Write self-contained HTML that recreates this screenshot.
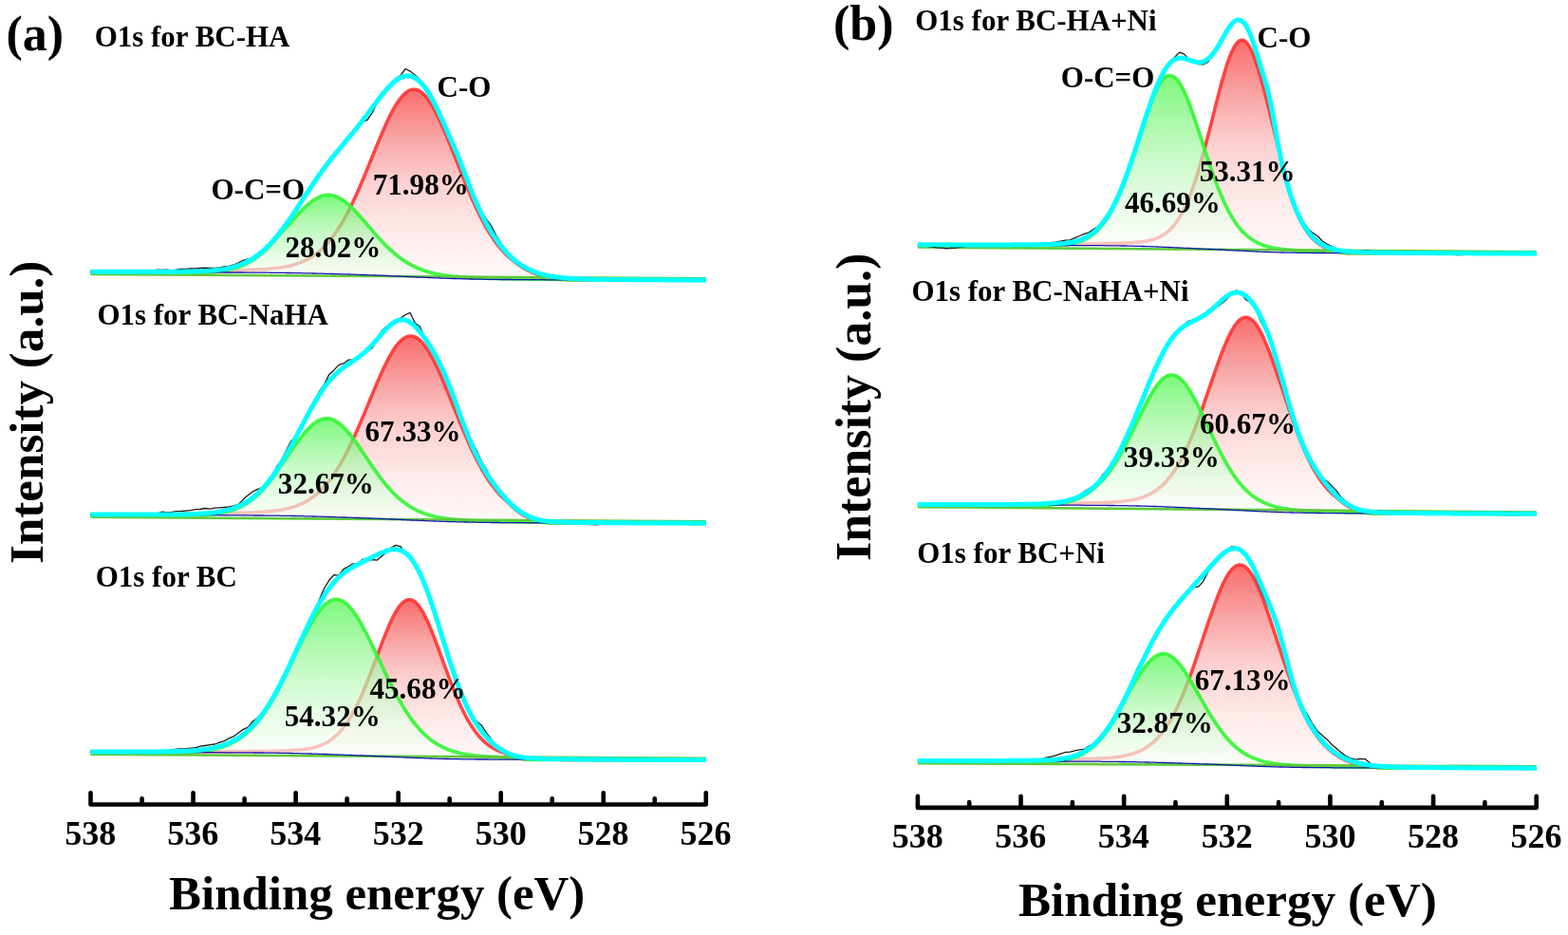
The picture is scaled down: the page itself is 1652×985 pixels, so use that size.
<!DOCTYPE html>
<html><head><meta charset="utf-8"><title>O1s XPS spectra</title>
<style>html,body{margin:0;padding:0;background:#fff;overflow:hidden}svg{display:block}</style>
</head><body>
<svg width="1652" height="985" viewBox="0 0 1652 985"><defs><linearGradient id="rg1" x1="0" y1="0" x2="0" y2="1"><stop offset="0" stop-color="#fa6c6c"/><stop offset="0.25" stop-color="#f9a4a4"/><stop offset="0.5" stop-color="#fcd2d2"/><stop offset="0.75" stop-color="#feeaea"/><stop offset="1" stop-color="#fffafa"/></linearGradient><linearGradient id="gg1" x1="0" y1="0" x2="0" y2="1"><stop offset="0" stop-color="#3ef73e"/><stop offset="0.25" stop-color="#80f580"/><stop offset="0.5" stop-color="#b6f8b6"/><stop offset="0.75" stop-color="#e0fce0"/><stop offset="1" stop-color="#ffffff"/></linearGradient></defs>
<path d="M95.5,286.5 97.5,286.5 99.5,286.5 101.5,286.5 103.5,286.5 105.5,286.5 107.5,286.5 109.5,286.5 111.5,286.5 113.5,286.6 115.5,286.6 117.5,286.6 119.5,286.6 121.5,286.6 123.5,286.6 125.5,286.6 127.5,286.6 129.5,286.6 131.5,286.6 133.5,286.6 135.5,286.6 137.5,286.6 139.5,286.6 141.5,286.6 143.5,286.6 145.5,286.7 147.5,286.7 149.5,286.7 151.5,286.7 153.5,286.7 155.5,286.7 157.5,286.7 159.5,286.7 161.5,286.7 163.5,286.7 165.5,286.7 167.5,286.7 169.5,286.7 171.5,286.7 173.5,286.7 175.5,286.7 177.5,286.8 179.5,286.8 181.5,286.8 183.5,286.8 185.5,286.8 187.5,286.8 189.5,286.8 191.5,286.8 193.5,286.8 195.5,286.8 197.5,286.8 199.5,286.8 201.5,286.8 203.6,286.8 205.6,286.8 207.6,286.9 209.6,286.9 211.6,286.9 213.6,286.9 215.6,286.9 217.6,286.9 219.6,286.9 221.6,286.8 223.6,286.6 225.6,286.4 227.6,286.2 229.6,286.0 231.6,285.7 233.6,285.5 235.6,285.1 237.6,284.9 239.6,284.8 241.6,284.8 243.6,284.7 245.6,284.7 247.6,284.7 249.6,284.6 251.6,284.6 253.6,284.5 255.6,284.5 257.6,284.4 259.6,284.4 261.6,284.3 263.6,284.2 265.6,284.2 267.6,284.1 269.6,284.0 271.6,283.9 273.6,283.8 275.6,283.7 277.6,283.6 279.6,283.4 281.6,283.3 283.6,283.1 285.6,283.0 287.6,282.8 289.6,282.6 291.6,282.3 293.6,282.1 295.6,281.8 297.6,281.5 299.6,281.1 301.6,280.8 303.6,280.4 305.6,279.9 307.6,279.4 309.6,278.9 311.6,278.3 313.6,277.6 315.6,276.9 317.6,276.1 319.6,275.3 321.6,274.4 323.6,273.4 325.6,272.3 327.6,271.1 329.6,269.8 331.6,268.5 333.6,267.0 335.6,265.4 337.6,263.7 339.6,261.9 341.6,259.9 343.6,257.8 345.6,255.6 347.6,253.2 349.6,250.7 351.6,248.1 353.6,245.3 355.6,242.3 357.6,239.2 359.6,236.0 361.6,232.6 363.6,229.0 365.6,225.3 367.6,221.4 369.6,217.5 371.6,213.3 373.6,209.1 375.6,204.7 377.6,200.2 379.6,195.6 381.6,191.0 383.6,186.2 385.6,181.4 387.6,176.5 389.6,171.6 391.6,166.7 393.6,161.7 395.6,156.8 397.6,151.9 399.6,147.1 401.6,142.3 403.6,137.7 405.6,133.1 407.6,128.8 409.6,124.5 411.6,120.5 413.6,116.7 415.6,113.1 417.6,109.7 419.6,106.7 421.7,103.9 423.7,101.5 425.7,99.3 427.7,97.6 429.7,96.2 431.7,95.1 433.7,94.5 435.7,94.2 437.7,94.3 439.7,94.8 441.7,95.7 443.7,97.0 445.7,98.7 447.7,100.7 449.7,103.0 451.7,105.7 453.7,108.7 455.7,112.0 457.7,115.5 459.7,119.3 461.7,123.4 463.7,127.6 465.7,132.0 467.7,136.6 469.7,141.3 471.7,146.1 473.7,151.1 475.7,156.0 477.7,161.1 479.7,166.1 481.7,171.2 483.7,176.3 485.7,181.3 487.7,186.3 489.7,191.2 491.7,196.1 493.7,200.9 495.7,205.6 497.7,210.2 499.7,214.6 501.7,219.0 503.7,223.2 505.7,227.2 507.7,231.2 509.7,234.9 511.7,238.6 513.7,242.0 515.7,245.3 517.7,248.5 519.7,251.5 521.7,254.4 523.7,257.1 525.7,259.6 527.7,262.1 529.7,264.3 531.7,266.5 533.7,268.5 535.7,270.4 537.7,272.1 539.7,273.7 541.7,275.3 543.7,276.9 545.7,278.5 547.7,279.9 549.7,281.2 551.7,282.5 553.7,283.6 555.7,284.7 557.7,285.7 559.7,286.6 561.7,287.4 563.7,288.2 565.7,288.9 567.7,289.6 569.7,290.2 571.7,290.7 573.7,291.2 575.7,291.7 577.7,292.1 579.7,292.5 581.7,292.8 583.7,293.1 585.7,293.4 587.7,293.7 589.7,293.9 591.7,294.1 593.7,294.3 595.7,294.5 597.7,294.7 599.7,294.8 601.7,294.9 603.7,294.9 605.7,294.9 607.7,294.9 609.7,294.9 611.7,294.9 613.7,294.9 615.7,294.9 617.7,294.9 619.7,294.9 621.7,294.9 623.7,294.9 625.7,294.9 627.7,294.9 629.7,294.9 631.7,295.0 633.7,295.0 635.8,295.0 637.8,295.0 639.8,295.0 641.8,295.0 643.8,295.0 645.8,295.0 647.8,295.0 649.8,295.0 651.8,295.0 653.8,295.0 655.8,295.0 657.8,295.0 659.8,295.0 661.8,295.1 663.8,295.1 665.8,295.1 667.8,295.1 669.8,295.1 671.8,295.1 673.8,295.1 675.8,295.1 677.8,295.1 679.8,295.1 681.8,295.1 683.8,295.1 685.8,295.1 687.8,295.1 689.8,295.1 691.8,295.1 693.8,295.2 695.8,295.2 697.8,295.2 699.8,295.2 701.8,295.2 703.8,295.2 705.8,295.2 707.8,295.2 709.8,295.2 711.8,295.2 713.8,295.2 715.8,295.2 717.8,295.2 719.8,295.2 721.8,295.2 723.8,295.2 725.8,295.2 727.8,295.3 729.8,295.3 731.8,295.3 733.8,295.3 735.8,295.3 737.8,295.3 739.8,295.3 741.8,295.3 743.8,295.3 743.8,295.3 741.8,295.3 739.8,295.3 737.8,295.3 735.8,295.3 733.8,295.3 731.8,295.3 729.8,295.3 727.8,295.3 725.8,295.2 723.8,295.2 721.8,295.2 719.8,295.2 717.8,295.2 715.8,295.2 713.8,295.2 711.8,295.2 709.8,295.2 707.8,295.2 705.8,295.2 703.8,295.2 701.8,295.2 699.8,295.2 697.8,295.2 695.8,295.2 693.8,295.2 691.8,295.1 689.8,295.1 687.8,295.1 685.8,295.1 683.8,295.1 681.8,295.1 679.8,295.1 677.8,295.1 675.8,295.1 673.8,295.1 671.8,295.1 669.8,295.1 667.8,295.1 665.8,295.1 663.8,295.1 661.8,295.1 659.8,295.0 657.8,295.0 655.8,295.0 653.8,295.0 651.8,295.0 649.8,295.0 647.8,295.0 645.8,295.0 643.8,295.0 641.8,295.0 639.8,295.0 637.8,295.0 635.8,295.0 633.7,295.0 631.7,295.0 629.7,294.9 627.7,294.9 625.7,294.9 623.7,294.9 621.7,294.9 619.7,294.9 617.7,294.9 615.7,294.9 613.7,294.9 611.7,294.9 609.7,294.9 607.7,294.9 605.7,294.9 603.7,294.9 601.7,294.9 599.7,294.8 597.7,294.8 595.7,294.8 593.7,294.8 591.7,294.8 589.7,294.8 587.7,294.8 585.7,294.8 583.7,294.8 581.7,294.8 579.7,294.8 577.7,294.8 575.7,294.8 573.7,294.7 571.7,294.7 569.7,294.7 567.7,294.7 565.7,294.7 563.7,294.7 561.7,294.7 559.7,294.7 557.7,294.7 555.7,294.7 553.7,294.7 551.7,294.6 549.7,294.6 547.7,294.6 545.7,294.6 543.7,294.6 541.7,294.6 539.7,294.6 537.7,294.5 535.7,294.5 533.7,294.5 531.7,294.5 529.7,294.5 527.7,294.5 525.7,294.4 523.7,294.4 521.7,294.4 519.7,294.4 517.7,294.3 515.7,294.3 513.7,294.3 511.7,294.3 509.7,294.2 507.7,294.2 505.7,294.2 503.7,294.1 501.7,294.1 499.7,294.1 497.7,294.0 495.7,294.0 493.7,293.9 491.7,293.9 489.7,293.8 487.7,293.8 485.7,293.7 483.7,293.7 481.7,293.6 479.7,293.5 477.7,293.5 475.7,293.4 473.7,293.4 471.7,293.3 469.7,293.2 467.7,293.1 465.7,293.1 463.7,293.0 461.7,292.9 459.7,292.8 457.7,292.8 455.7,292.7 453.7,292.6 451.7,292.5 449.7,292.4 447.7,292.3 445.7,292.2 443.7,292.1 441.7,292.1 439.7,292.0 437.7,291.9 435.7,291.8 433.7,291.7 431.7,291.6 429.7,291.5 427.7,291.4 425.7,291.3 423.7,291.2 421.7,291.1 419.6,291.0 417.6,290.9 415.6,290.8 413.6,290.8 411.6,290.7 409.6,290.6 407.6,290.5 405.6,290.4 403.6,290.3 401.6,290.2 399.6,290.2 397.6,290.1 395.6,290.0 393.6,289.9 391.6,289.8 389.6,289.8 387.6,289.7 385.6,289.6 383.6,289.5 381.6,289.5 379.6,289.4 377.6,289.3 375.6,289.3 373.6,289.2 371.6,289.1 369.6,289.1 367.6,289.0 365.6,288.9 363.6,288.9 361.6,288.8 359.6,288.8 357.6,288.7 355.6,288.6 353.6,288.6 351.6,288.5 349.6,288.5 347.6,288.4 345.6,288.4 343.6,288.3 341.6,288.3 339.6,288.2 337.6,288.2 335.6,288.1 333.6,288.1 331.6,288.0 329.6,288.0 327.6,287.9 325.6,287.9 323.6,287.8 321.6,287.8 319.6,287.8 317.6,287.7 315.6,287.7 313.6,287.6 311.6,287.6 309.6,287.6 307.6,287.5 305.6,287.5 303.6,287.5 301.6,287.5 299.6,287.4 297.6,287.4 295.6,287.4 293.6,287.4 291.6,287.3 289.6,287.3 287.6,287.3 285.6,287.3 283.6,287.2 281.6,287.2 279.6,287.2 277.6,287.2 275.6,287.2 273.6,287.2 271.6,287.1 269.6,287.1 267.6,287.1 265.6,287.1 263.6,287.1 261.6,287.1 259.6,287.1 257.6,287.1 255.6,287.0 253.6,287.0 251.6,287.0 249.6,287.0 247.6,287.0 245.6,287.0 243.6,287.0 241.6,287.0 239.6,287.0 237.6,287.0 235.6,287.0 233.6,286.9 231.6,286.9 229.6,286.9 227.6,286.9 225.6,286.9 223.6,286.9 221.6,286.9 219.6,286.9 217.6,286.9 215.6,286.9 213.6,286.9 211.6,286.9 209.6,286.9 207.6,286.9 205.6,286.8 203.6,286.8 201.5,286.8 199.5,286.8 197.5,286.8 195.5,286.8 193.5,286.8 191.5,286.8 189.5,286.8 187.5,286.8 185.5,286.8 183.5,286.8 181.5,286.8 179.5,286.8 177.5,286.8 175.5,286.7 173.5,286.7 171.5,286.7 169.5,286.7 167.5,286.7 165.5,286.7 163.5,286.7 161.5,286.7 159.5,286.7 157.5,286.7 155.5,286.7 153.5,286.7 151.5,286.7 149.5,286.7 147.5,286.7 145.5,286.7 143.5,286.6 141.5,286.6 139.5,286.6 137.5,286.6 135.5,286.6 133.5,286.6 131.5,286.6 129.5,286.6 127.5,286.6 125.5,286.6 123.5,286.6 121.5,286.6 119.5,286.6 117.5,286.6 115.5,286.6 113.5,286.6 111.5,286.5 109.5,286.5 107.5,286.5 105.5,286.5 103.5,286.5 101.5,286.5 99.5,286.5 97.5,286.5 95.5,286.5 Z" fill="url(#rg1)" stroke="none"/>
<path d="M95.5,286.5 97.5,286.5 99.5,286.5 101.5,286.5 103.5,286.5 105.5,286.5 107.5,286.5 109.5,286.5 111.5,286.5 113.5,286.6 115.5,286.6 117.5,286.6 119.5,286.6 121.5,286.6 123.5,286.6 125.5,286.6 127.5,286.6 129.5,286.6 131.5,286.6 133.5,286.6 135.5,286.6 137.5,286.6 139.5,286.6 141.5,286.6 143.5,286.6 145.5,286.7 147.5,286.7 149.5,286.7 151.5,286.7 153.5,286.7 155.5,286.7 157.5,286.7 159.5,286.7 161.5,286.7 163.5,286.7 165.5,286.7 167.5,286.7 169.5,286.7 171.5,286.7 173.5,286.7 175.5,286.7 177.5,286.8 179.5,286.8 181.5,286.8 183.5,286.8 185.5,286.8 187.5,286.8 189.5,286.8 191.5,286.8 193.5,286.8 195.5,286.8 197.5,286.8 199.5,286.8 201.5,286.8 203.6,286.8 205.6,286.8 207.6,286.9 209.6,286.9 211.6,286.9 213.6,286.9 215.6,286.9 217.6,286.9 219.6,286.9 221.6,286.8 223.6,286.6 225.6,286.4 227.6,286.2 229.6,286.0 231.6,285.7 233.6,285.5 235.6,285.1 237.6,284.9 239.6,284.8 241.6,284.8 243.6,284.7 245.6,284.7 247.6,284.7 249.6,284.6 251.6,284.6 253.6,284.5 255.6,284.5 257.6,284.4 259.6,284.4 261.6,284.3 263.6,284.2 265.6,284.2 267.6,284.1 269.6,284.0 271.6,283.9 273.6,283.8 275.6,283.7 277.6,283.6 279.6,283.4 281.6,283.3 283.6,283.1 285.6,283.0 287.6,282.8 289.6,282.6 291.6,282.3 293.6,282.1 295.6,281.8 297.6,281.5 299.6,281.1 301.6,280.8 303.6,280.4 305.6,279.9 307.6,279.4 309.6,278.9 311.6,278.3 313.6,277.6 315.6,276.9 317.6,276.1 319.6,275.3 321.6,274.4 323.6,273.4 325.6,272.3 327.6,271.1 329.6,269.8 331.6,268.5 333.6,267.0 335.6,265.4 337.6,263.7 339.6,261.9 341.6,259.9 343.6,257.8 345.6,255.6 347.6,253.2 349.6,250.7 351.6,248.1 353.6,245.3 355.6,242.3 357.6,239.2 359.6,236.0 361.6,232.6 363.6,229.0 365.6,225.3 367.6,221.4 369.6,217.5 371.6,213.3 373.6,209.1 375.6,204.7 377.6,200.2 379.6,195.6 381.6,191.0 383.6,186.2 385.6,181.4 387.6,176.5 389.6,171.6 391.6,166.7 393.6,161.7 395.6,156.8 397.6,151.9 399.6,147.1 401.6,142.3 403.6,137.7 405.6,133.1 407.6,128.8 409.6,124.5 411.6,120.5 413.6,116.7 415.6,113.1 417.6,109.7 419.6,106.7 421.7,103.9 423.7,101.5 425.7,99.3 427.7,97.6 429.7,96.2 431.7,95.1 433.7,94.5 435.7,94.2 437.7,94.3 439.7,94.8 441.7,95.7 443.7,97.0 445.7,98.7 447.7,100.7 449.7,103.0 451.7,105.7 453.7,108.7 455.7,112.0 457.7,115.5 459.7,119.3 461.7,123.4 463.7,127.6 465.7,132.0 467.7,136.6 469.7,141.3 471.7,146.1 473.7,151.1 475.7,156.0 477.7,161.1 479.7,166.1 481.7,171.2 483.7,176.3 485.7,181.3 487.7,186.3 489.7,191.2 491.7,196.1 493.7,200.9 495.7,205.6 497.7,210.2 499.7,214.6 501.7,219.0 503.7,223.2 505.7,227.2 507.7,231.2 509.7,234.9 511.7,238.6 513.7,242.0 515.7,245.3 517.7,248.5 519.7,251.5 521.7,254.4 523.7,257.1 525.7,259.6 527.7,262.1 529.7,264.3 531.7,266.5 533.7,268.5 535.7,270.4 537.7,272.1 539.7,273.7 541.7,275.3 543.7,276.9 545.7,278.5 547.7,279.9 549.7,281.2 551.7,282.5 553.7,283.6 555.7,284.7 557.7,285.7 559.7,286.6 561.7,287.4 563.7,288.2 565.7,288.9 567.7,289.6 569.7,290.2 571.7,290.7 573.7,291.2 575.7,291.7 577.7,292.1 579.7,292.5 581.7,292.8 583.7,293.1 585.7,293.4 587.7,293.7 589.7,293.9 591.7,294.1 593.7,294.3 595.7,294.5 597.7,294.7 599.7,294.8 601.7,294.9 603.7,294.9 605.7,294.9 607.7,294.9 609.7,294.9 611.7,294.9 613.7,294.9 615.7,294.9 617.7,294.9 619.7,294.9 621.7,294.9 623.7,294.9 625.7,294.9 627.7,294.9 629.7,294.9 631.7,295.0 633.7,295.0 635.8,295.0 637.8,295.0 639.8,295.0 641.8,295.0 643.8,295.0 645.8,295.0 647.8,295.0 649.8,295.0 651.8,295.0 653.8,295.0 655.8,295.0 657.8,295.0 659.8,295.0 661.8,295.1 663.8,295.1 665.8,295.1 667.8,295.1 669.8,295.1 671.8,295.1 673.8,295.1 675.8,295.1 677.8,295.1 679.8,295.1 681.8,295.1 683.8,295.1 685.8,295.1 687.8,295.1 689.8,295.1 691.8,295.1 693.8,295.2 695.8,295.2 697.8,295.2 699.8,295.2 701.8,295.2 703.8,295.2 705.8,295.2 707.8,295.2 709.8,295.2 711.8,295.2 713.8,295.2 715.8,295.2 717.8,295.2 719.8,295.2 721.8,295.2 723.8,295.2 725.8,295.2 727.8,295.3 729.8,295.3 731.8,295.3 733.8,295.3 735.8,295.3 737.8,295.3 739.8,295.3 741.8,295.3 743.8,295.3" fill="none" stroke="#ff3333" stroke-width="3.6" stroke-opacity="0.9" stroke-linejoin="round"/>
<path d="M95.5,286.5 97.5,286.5 99.5,286.5 101.5,286.5 103.5,286.5 105.5,286.5 107.5,286.5 109.5,286.5 111.5,286.5 113.5,286.6 115.5,286.6 117.5,286.6 119.5,286.6 121.5,286.6 123.5,286.6 125.5,286.6 127.5,286.6 129.5,286.6 131.5,286.6 133.5,286.6 135.5,286.6 137.5,286.6 139.5,286.6 141.5,286.6 143.5,286.6 145.5,286.7 147.5,286.7 149.5,286.7 151.5,286.7 153.5,286.7 155.5,286.7 157.5,286.7 159.5,286.7 161.5,286.7 163.5,286.7 165.5,286.7 167.5,286.7 169.5,286.7 171.5,286.7 173.5,286.7 175.5,286.7 177.5,286.8 179.5,286.8 181.5,286.8 183.5,286.8 185.5,286.8 187.5,286.8 189.5,286.8 191.5,286.8 193.5,286.8 195.5,286.8 197.5,286.8 199.5,286.8 201.5,286.8 203.6,286.8 205.6,286.8 207.6,286.9 209.6,286.9 211.6,286.9 213.6,286.9 215.6,286.9 217.6,286.9 219.6,286.9 221.6,286.8 223.6,286.6 225.6,286.4 227.6,286.2 229.6,286.0 231.6,285.7 233.6,285.5 235.6,285.1 237.6,284.8 239.6,284.4 241.6,284.0 243.6,283.5 245.6,283.0 247.6,282.4 249.6,281.8 251.6,281.1 253.6,280.4 255.6,279.5 257.6,278.7 259.6,277.7 261.6,276.7 263.6,275.6 265.6,274.4 267.6,273.1 269.6,271.7 271.6,270.3 273.6,268.7 275.6,267.1 277.6,265.4 279.6,263.6 281.6,261.6 283.6,259.6 285.6,257.5 287.6,255.3 289.6,253.0 291.6,250.6 293.6,248.2 295.6,245.9 297.6,243.7 299.6,241.5 301.6,239.3 303.6,237.1 305.6,234.9 307.6,232.6 309.6,230.4 311.6,228.2 313.6,226.1 315.6,223.9 317.6,221.9 319.6,219.9 321.6,218.0 323.6,216.2 325.6,214.5 327.6,212.9 329.6,211.4 331.6,210.1 333.6,208.9 335.6,207.9 337.6,207.0 339.6,206.4 341.6,205.9 343.6,205.6 345.6,205.5 347.6,205.5 349.6,205.8 351.6,206.2 353.6,206.9 355.6,207.7 357.6,208.7 359.6,209.8 361.6,211.1 363.6,212.6 365.6,214.2 367.6,215.9 369.6,217.8 371.6,219.7 373.6,221.7 375.6,223.8 377.6,226.0 379.6,228.2 381.6,230.5 383.6,232.8 385.6,235.1 387.6,237.5 389.6,239.8 391.6,242.1 393.6,244.5 395.6,246.7 397.6,249.0 399.6,251.2 401.6,253.4 403.6,255.5 405.6,257.6 407.6,259.6 409.6,261.5 411.6,263.4 413.6,265.2 415.6,267.0 417.6,268.6 419.6,270.2 421.7,271.7 423.7,273.2 425.7,274.6 427.7,275.9 429.7,277.1 431.7,278.3 433.7,279.3 435.7,280.4 437.7,281.3 439.7,282.2 441.7,283.1 443.7,283.9 445.7,284.6 447.7,285.3 449.7,285.9 451.7,286.5 453.7,287.1 455.7,287.6 457.7,288.0 459.7,288.5 461.7,288.9 463.7,289.3 465.7,289.6 467.7,289.9 469.7,290.2 471.7,290.5 473.7,290.7 475.7,291.0 477.7,291.2 479.7,291.4 481.7,291.5 483.7,291.7 485.7,291.9 487.7,292.0 489.7,292.1 491.7,292.3 493.7,292.4 495.7,292.5 497.7,292.6 499.7,292.7 501.7,292.8 503.7,292.9 505.7,292.9 507.7,293.0 509.7,293.1 511.7,293.1 513.7,293.2 515.7,293.3 517.7,293.3 519.7,293.4 521.7,293.4 523.7,293.5 525.7,293.5 527.7,293.5 529.7,293.6 531.7,293.6 533.7,293.7 535.7,293.7 537.7,293.7 539.7,293.8 541.7,293.8 543.7,293.8 545.7,293.8 547.7,293.9 549.7,293.9 551.7,293.9 553.7,293.9 555.7,294.0 557.7,294.0 559.7,294.0 561.7,294.0 563.7,294.1 565.7,294.1 567.7,294.1 569.7,294.1 571.7,294.1 573.7,294.2 575.7,294.2 577.7,294.2 579.7,294.2 581.7,294.2 583.7,294.2 585.7,294.3 587.7,294.3 589.7,294.3 591.7,294.3 593.7,294.3 595.7,294.5 597.7,294.7 599.7,294.8 601.7,294.9 603.7,294.9 605.7,294.9 607.7,294.9 609.7,294.9 611.7,294.9 613.7,294.9 615.7,294.9 617.7,294.9 619.7,294.9 621.7,294.9 623.7,294.9 625.7,294.9 627.7,294.9 629.7,294.9 631.7,295.0 633.7,295.0 635.8,295.0 637.8,295.0 639.8,295.0 641.8,295.0 643.8,295.0 645.8,295.0 647.8,295.0 649.8,295.0 651.8,295.0 653.8,295.0 655.8,295.0 657.8,295.0 659.8,295.0 661.8,295.1 663.8,295.1 665.8,295.1 667.8,295.1 669.8,295.1 671.8,295.1 673.8,295.1 675.8,295.1 677.8,295.1 679.8,295.1 681.8,295.1 683.8,295.1 685.8,295.1 687.8,295.1 689.8,295.1 691.8,295.1 693.8,295.2 695.8,295.2 697.8,295.2 699.8,295.2 701.8,295.2 703.8,295.2 705.8,295.2 707.8,295.2 709.8,295.2 711.8,295.2 713.8,295.2 715.8,295.2 717.8,295.2 719.8,295.2 721.8,295.2 723.8,295.2 725.8,295.2 727.8,295.3 729.8,295.3 731.8,295.3 733.8,295.3 735.8,295.3 737.8,295.3 739.8,295.3 741.8,295.3 743.8,295.3 743.8,295.3 741.8,295.3 739.8,295.3 737.8,295.3 735.8,295.3 733.8,295.3 731.8,295.3 729.8,295.3 727.8,295.3 725.8,295.2 723.8,295.2 721.8,295.2 719.8,295.2 717.8,295.2 715.8,295.2 713.8,295.2 711.8,295.2 709.8,295.2 707.8,295.2 705.8,295.2 703.8,295.2 701.8,295.2 699.8,295.2 697.8,295.2 695.8,295.2 693.8,295.2 691.8,295.1 689.8,295.1 687.8,295.1 685.8,295.1 683.8,295.1 681.8,295.1 679.8,295.1 677.8,295.1 675.8,295.1 673.8,295.1 671.8,295.1 669.8,295.1 667.8,295.1 665.8,295.1 663.8,295.1 661.8,295.1 659.8,295.0 657.8,295.0 655.8,295.0 653.8,295.0 651.8,295.0 649.8,295.0 647.8,295.0 645.8,295.0 643.8,295.0 641.8,295.0 639.8,295.0 637.8,295.0 635.8,295.0 633.7,295.0 631.7,295.0 629.7,294.9 627.7,294.9 625.7,294.9 623.7,294.9 621.7,294.9 619.7,294.9 617.7,294.9 615.7,294.9 613.7,294.9 611.7,294.9 609.7,294.9 607.7,294.9 605.7,294.9 603.7,294.9 601.7,294.9 599.7,294.8 597.7,294.8 595.7,294.8 593.7,294.8 591.7,294.8 589.7,294.8 587.7,294.8 585.7,294.8 583.7,294.8 581.7,294.8 579.7,294.8 577.7,294.8 575.7,294.8 573.7,294.7 571.7,294.7 569.7,294.7 567.7,294.7 565.7,294.7 563.7,294.7 561.7,294.7 559.7,294.7 557.7,294.7 555.7,294.7 553.7,294.7 551.7,294.6 549.7,294.6 547.7,294.6 545.7,294.6 543.7,294.6 541.7,294.6 539.7,294.6 537.7,294.5 535.7,294.5 533.7,294.5 531.7,294.5 529.7,294.5 527.7,294.5 525.7,294.4 523.7,294.4 521.7,294.4 519.7,294.4 517.7,294.3 515.7,294.3 513.7,294.3 511.7,294.3 509.7,294.2 507.7,294.2 505.7,294.2 503.7,294.1 501.7,294.1 499.7,294.1 497.7,294.0 495.7,294.0 493.7,293.9 491.7,293.9 489.7,293.8 487.7,293.8 485.7,293.7 483.7,293.7 481.7,293.6 479.7,293.5 477.7,293.5 475.7,293.4 473.7,293.4 471.7,293.3 469.7,293.2 467.7,293.1 465.7,293.1 463.7,293.0 461.7,292.9 459.7,292.8 457.7,292.8 455.7,292.7 453.7,292.6 451.7,292.5 449.7,292.4 447.7,292.3 445.7,292.2 443.7,292.1 441.7,292.1 439.7,292.0 437.7,291.9 435.7,291.8 433.7,291.7 431.7,291.6 429.7,291.5 427.7,291.4 425.7,291.3 423.7,291.2 421.7,291.1 419.6,291.0 417.6,290.9 415.6,290.8 413.6,290.8 411.6,290.7 409.6,290.6 407.6,290.5 405.6,290.4 403.6,290.3 401.6,290.2 399.6,290.2 397.6,290.1 395.6,290.0 393.6,289.9 391.6,289.8 389.6,289.8 387.6,289.7 385.6,289.6 383.6,289.5 381.6,289.5 379.6,289.4 377.6,289.3 375.6,289.3 373.6,289.2 371.6,289.1 369.6,289.1 367.6,289.0 365.6,288.9 363.6,288.9 361.6,288.8 359.6,288.8 357.6,288.7 355.6,288.6 353.6,288.6 351.6,288.5 349.6,288.5 347.6,288.4 345.6,288.4 343.6,288.3 341.6,288.3 339.6,288.2 337.6,288.2 335.6,288.1 333.6,288.1 331.6,288.0 329.6,288.0 327.6,287.9 325.6,287.9 323.6,287.8 321.6,287.8 319.6,287.8 317.6,287.7 315.6,287.7 313.6,287.6 311.6,287.6 309.6,287.6 307.6,287.5 305.6,287.5 303.6,287.5 301.6,287.5 299.6,287.4 297.6,287.4 295.6,287.4 293.6,287.4 291.6,287.3 289.6,287.3 287.6,287.3 285.6,287.3 283.6,287.2 281.6,287.2 279.6,287.2 277.6,287.2 275.6,287.2 273.6,287.2 271.6,287.1 269.6,287.1 267.6,287.1 265.6,287.1 263.6,287.1 261.6,287.1 259.6,287.1 257.6,287.1 255.6,287.0 253.6,287.0 251.6,287.0 249.6,287.0 247.6,287.0 245.6,287.0 243.6,287.0 241.6,287.0 239.6,287.0 237.6,287.0 235.6,287.0 233.6,286.9 231.6,286.9 229.6,286.9 227.6,286.9 225.6,286.9 223.6,286.9 221.6,286.9 219.6,286.9 217.6,286.9 215.6,286.9 213.6,286.9 211.6,286.9 209.6,286.9 207.6,286.9 205.6,286.8 203.6,286.8 201.5,286.8 199.5,286.8 197.5,286.8 195.5,286.8 193.5,286.8 191.5,286.8 189.5,286.8 187.5,286.8 185.5,286.8 183.5,286.8 181.5,286.8 179.5,286.8 177.5,286.8 175.5,286.7 173.5,286.7 171.5,286.7 169.5,286.7 167.5,286.7 165.5,286.7 163.5,286.7 161.5,286.7 159.5,286.7 157.5,286.7 155.5,286.7 153.5,286.7 151.5,286.7 149.5,286.7 147.5,286.7 145.5,286.7 143.5,286.6 141.5,286.6 139.5,286.6 137.5,286.6 135.5,286.6 133.5,286.6 131.5,286.6 129.5,286.6 127.5,286.6 125.5,286.6 123.5,286.6 121.5,286.6 119.5,286.6 117.5,286.6 115.5,286.6 113.5,286.6 111.5,286.5 109.5,286.5 107.5,286.5 105.5,286.5 103.5,286.5 101.5,286.5 99.5,286.5 97.5,286.5 95.5,286.5 Z" fill="url(#gg1)" fill-opacity="0.68" stroke="none"/>
<path d="M95.5,286.5 97.5,286.5 99.5,286.5 101.5,286.5 103.5,286.5 105.5,286.5 107.5,286.5 109.5,286.5 111.5,286.5 113.5,286.6 115.5,286.6 117.5,286.6 119.5,286.6 121.5,286.6 123.5,286.6 125.5,286.6 127.5,286.6 129.5,286.6 131.5,286.6 133.5,286.6 135.5,286.6 137.5,286.6 139.5,286.6 141.5,286.6 143.5,286.6 145.5,286.7 147.5,286.7 149.5,286.7 151.5,286.7 153.5,286.7 155.5,286.7 157.5,286.7 159.5,286.7 161.5,286.7 163.5,286.7 165.5,286.7 167.5,286.7 169.5,286.7 171.5,286.7 173.5,286.7 175.5,286.7 177.5,286.8 179.5,286.8 181.5,286.8 183.5,286.8 185.5,286.8 187.5,286.8 189.5,286.8 191.5,286.8 193.5,286.8 195.5,286.8 197.5,286.8 199.5,286.8 201.5,286.8 203.6,286.8 205.6,286.8 207.6,286.9 209.6,286.9 211.6,286.9 213.6,286.9 215.6,286.9 217.6,286.9 219.6,286.9 221.6,286.8 223.6,286.6 225.6,286.4 227.6,286.2 229.6,286.0 231.6,285.7 233.6,285.5 235.6,285.1 237.6,284.8 239.6,284.4 241.6,284.0 243.6,283.5 245.6,283.0 247.6,282.4 249.6,281.8 251.6,281.1 253.6,280.4 255.6,279.5 257.6,278.7 259.6,277.7 261.6,276.7 263.6,275.6 265.6,274.4 267.6,273.1 269.6,271.7 271.6,270.3 273.6,268.7 275.6,267.1 277.6,265.4 279.6,263.6 281.6,261.6 283.6,259.6 285.6,257.5 287.6,255.3 289.6,253.0 291.6,250.6 293.6,248.2 295.6,245.9 297.6,243.7 299.6,241.5 301.6,239.3 303.6,237.1 305.6,234.9 307.6,232.6 309.6,230.4 311.6,228.2 313.6,226.1 315.6,223.9 317.6,221.9 319.6,219.9 321.6,218.0 323.6,216.2 325.6,214.5 327.6,212.9 329.6,211.4 331.6,210.1 333.6,208.9 335.6,207.9 337.6,207.0 339.6,206.4 341.6,205.9 343.6,205.6 345.6,205.5 347.6,205.5 349.6,205.8 351.6,206.2 353.6,206.9 355.6,207.7 357.6,208.7 359.6,209.8 361.6,211.1 363.6,212.6 365.6,214.2 367.6,215.9 369.6,217.8 371.6,219.7 373.6,221.7 375.6,223.8 377.6,226.0 379.6,228.2 381.6,230.5 383.6,232.8 385.6,235.1 387.6,237.5 389.6,239.8 391.6,242.1 393.6,244.5 395.6,246.7 397.6,249.0 399.6,251.2 401.6,253.4 403.6,255.5 405.6,257.6 407.6,259.6 409.6,261.5 411.6,263.4 413.6,265.2 415.6,267.0 417.6,268.6 419.6,270.2 421.7,271.7 423.7,273.2 425.7,274.6 427.7,275.9 429.7,277.1 431.7,278.3 433.7,279.3 435.7,280.4 437.7,281.3 439.7,282.2 441.7,283.1 443.7,283.9 445.7,284.6 447.7,285.3 449.7,285.9 451.7,286.5 453.7,287.1 455.7,287.6 457.7,288.0 459.7,288.5 461.7,288.9 463.7,289.3 465.7,289.6 467.7,289.9 469.7,290.2 471.7,290.5 473.7,290.7 475.7,291.0 477.7,291.2 479.7,291.4 481.7,291.5 483.7,291.7 485.7,291.9 487.7,292.0 489.7,292.1 491.7,292.3 493.7,292.4 495.7,292.5 497.7,292.6 499.7,292.7 501.7,292.8 503.7,292.9 505.7,292.9 507.7,293.0 509.7,293.1 511.7,293.1 513.7,293.2 515.7,293.3 517.7,293.3 519.7,293.4 521.7,293.4 523.7,293.5 525.7,293.5 527.7,293.5 529.7,293.6 531.7,293.6 533.7,293.7 535.7,293.7 537.7,293.7 539.7,293.8 541.7,293.8 543.7,293.8 545.7,293.8 547.7,293.9 549.7,293.9 551.7,293.9 553.7,293.9 555.7,294.0 557.7,294.0 559.7,294.0 561.7,294.0 563.7,294.1 565.7,294.1 567.7,294.1 569.7,294.1 571.7,294.1 573.7,294.2 575.7,294.2 577.7,294.2 579.7,294.2 581.7,294.2 583.7,294.2 585.7,294.3 587.7,294.3 589.7,294.3 591.7,294.3 593.7,294.3 595.7,294.5 597.7,294.7 599.7,294.8 601.7,294.9 603.7,294.9 605.7,294.9 607.7,294.9 609.7,294.9 611.7,294.9 613.7,294.9 615.7,294.9 617.7,294.9 619.7,294.9 621.7,294.9 623.7,294.9 625.7,294.9 627.7,294.9 629.7,294.9 631.7,295.0 633.7,295.0 635.8,295.0 637.8,295.0 639.8,295.0 641.8,295.0 643.8,295.0 645.8,295.0 647.8,295.0 649.8,295.0 651.8,295.0 653.8,295.0 655.8,295.0 657.8,295.0 659.8,295.0 661.8,295.1 663.8,295.1 665.8,295.1 667.8,295.1 669.8,295.1 671.8,295.1 673.8,295.1 675.8,295.1 677.8,295.1 679.8,295.1 681.8,295.1 683.8,295.1 685.8,295.1 687.8,295.1 689.8,295.1 691.8,295.1 693.8,295.2 695.8,295.2 697.8,295.2 699.8,295.2 701.8,295.2 703.8,295.2 705.8,295.2 707.8,295.2 709.8,295.2 711.8,295.2 713.8,295.2 715.8,295.2 717.8,295.2 719.8,295.2 721.8,295.2 723.8,295.2 725.8,295.2 727.8,295.3 729.8,295.3 731.8,295.3 733.8,295.3 735.8,295.3 737.8,295.3 739.8,295.3 741.8,295.3 743.8,295.3" fill="none" stroke="#33f533" stroke-width="3.8" stroke-opacity="0.9" stroke-linejoin="round"/>
<line x1="95.50" y1="289.00" x2="743.80" y2="293.30" stroke="#5ec93a" stroke-width="2.6"/>
<path d="M95.5,286.5 97.5,286.5 99.5,286.5 101.5,286.5 103.5,286.5 105.5,286.5 107.5,286.5 109.5,286.5 111.5,286.5 113.5,286.6 115.5,286.6 117.5,286.6 119.5,286.6 121.5,286.6 123.5,286.6 125.5,286.6 127.5,286.6 129.5,286.6 131.5,286.6 133.5,286.6 135.5,286.6 137.5,286.6 139.5,286.6 141.5,286.6 143.5,286.6 145.5,286.7 147.5,286.7 149.5,286.7 151.5,286.7 153.5,286.7 155.5,286.7 157.5,286.7 159.5,286.7 161.5,286.7 163.5,286.7 165.5,286.7 167.5,286.7 169.5,286.7 171.5,286.7 173.5,286.7 175.5,286.7 177.5,286.8 179.5,286.8 181.5,286.8 183.5,286.8 185.5,286.8 187.5,286.8 189.5,286.8 191.5,286.8 193.5,286.8 195.5,286.8 197.5,286.8 199.5,286.8 201.5,286.8 203.6,286.8 205.6,286.8 207.6,286.9 209.6,286.9 211.6,286.9 213.6,286.9 215.6,286.9 217.6,286.9 219.6,286.9 221.6,286.9 223.6,286.9 225.6,286.9 227.6,286.9 229.6,286.9 231.6,286.9 233.6,286.9 235.6,287.0 237.6,287.0 239.6,287.0 241.6,287.0 243.6,287.0 245.6,287.0 247.6,287.0 249.6,287.0 251.6,287.0 253.6,287.0 255.6,287.0 257.6,287.1 259.6,287.1 261.6,287.1 263.6,287.1 265.6,287.1 267.6,287.1 269.6,287.1 271.6,287.1 273.6,287.2 275.6,287.2 277.6,287.2 279.6,287.2 281.6,287.2 283.6,287.2 285.6,287.3 287.6,287.3 289.6,287.3 291.6,287.3 293.6,287.4 295.6,287.4 297.6,287.4 299.6,287.4 301.6,287.5 303.6,287.5 305.6,287.5 307.6,287.5 309.6,287.6 311.6,287.6 313.6,287.6 315.6,287.7 317.6,287.7 319.6,287.8 321.6,287.8 323.6,287.8 325.6,287.9 327.6,287.9 329.6,288.0 331.6,288.0 333.6,288.1 335.6,288.1 337.6,288.2 339.6,288.2 341.6,288.3 343.6,288.3 345.6,288.4 347.6,288.4 349.6,288.5 351.6,288.5 353.6,288.6 355.6,288.6 357.6,288.7 359.6,288.8 361.6,288.8 363.6,288.9 365.6,288.9 367.6,289.0 369.6,289.1 371.6,289.1 373.6,289.2 375.6,289.3 377.6,289.3 379.6,289.4 381.6,289.5 383.6,289.5 385.6,289.6 387.6,289.7 389.6,289.8 391.6,289.8 393.6,289.9 395.6,290.0 397.6,290.1 399.6,290.2 401.6,290.2 403.6,290.3 405.6,290.4 407.6,290.5 409.6,290.6 411.6,290.7 413.6,290.8 415.6,290.8 417.6,290.9 419.6,291.0 421.7,291.1 423.7,291.2 425.7,291.3 427.7,291.4 429.7,291.5 431.7,291.6 433.7,291.7 435.7,291.8 437.7,291.9 439.7,292.0 441.7,292.1 443.7,292.1 445.7,292.2 447.7,292.3 449.7,292.4 451.7,292.5 453.7,292.6 455.7,292.7 457.7,292.8 459.7,292.8 461.7,292.9 463.7,293.0 465.7,293.1 467.7,293.1 469.7,293.2 471.7,293.3 473.7,293.4 475.7,293.4 477.7,293.5 479.7,293.5 481.7,293.6 483.7,293.7 485.7,293.7 487.7,293.8 489.7,293.8 491.7,293.9 493.7,293.9 495.7,294.0 497.7,294.0 499.7,294.1 501.7,294.1 503.7,294.1 505.7,294.2 507.7,294.2 509.7,294.2 511.7,294.3 513.7,294.3 515.7,294.3 517.7,294.3 519.7,294.4 521.7,294.4 523.7,294.4 525.7,294.4 527.7,294.5 529.7,294.5 531.7,294.5 533.7,294.5 535.7,294.5 537.7,294.5 539.7,294.6 541.7,294.6 543.7,294.6 545.7,294.6 547.7,294.6 549.7,294.6 551.7,294.6 553.7,294.7 555.7,294.7 557.7,294.7 559.7,294.7 561.7,294.7 563.7,294.7 565.7,294.7 567.7,294.7 569.7,294.7 571.7,294.7 573.7,294.7 575.7,294.8 577.7,294.8 579.7,294.8 581.7,294.8 583.7,294.8 585.7,294.8 587.7,294.8 589.7,294.8 591.7,294.8 593.7,294.8 595.7,294.8 597.7,294.8 599.7,294.8 601.7,294.9 603.7,294.9 605.7,294.9 607.7,294.9 609.7,294.9 611.7,294.9 613.7,294.9 615.7,294.9 617.7,294.9 619.7,294.9 621.7,294.9 623.7,294.9 625.7,294.9 627.7,294.9 629.7,294.9 631.7,295.0 633.7,295.0 635.8,295.0 637.8,295.0 639.8,295.0 641.8,295.0 643.8,295.0 645.8,295.0 647.8,295.0 649.8,295.0 651.8,295.0 653.8,295.0 655.8,295.0 657.8,295.0 659.8,295.0 661.8,295.1 663.8,295.1 665.8,295.1 667.8,295.1 669.8,295.1 671.8,295.1 673.8,295.1 675.8,295.1 677.8,295.1 679.8,295.1 681.8,295.1 683.8,295.1 685.8,295.1 687.8,295.1 689.8,295.1 691.8,295.1 693.8,295.2 695.8,295.2 697.8,295.2 699.8,295.2 701.8,295.2 703.8,295.2 705.8,295.2 707.8,295.2 709.8,295.2 711.8,295.2 713.8,295.2 715.8,295.2 717.8,295.2 719.8,295.2 721.8,295.2 723.8,295.2 725.8,295.2 727.8,295.3 729.8,295.3 731.8,295.3 733.8,295.3 735.8,295.3 737.8,295.3 739.8,295.3 741.8,295.3 743.8,295.3" fill="none" stroke="#1515b0" stroke-width="1.3"/>
<path d="M95.5,286.8 100.5,287.3 105.6,287.0 110.6,286.5 115.6,286.0 120.6,286.1 125.7,285.7 130.7,285.2 135.7,285.5 140.7,285.6 145.8,285.9 150.8,285.4 155.8,285.3 160.8,285.1 165.9,284.2 170.9,284.3 175.9,284.1 180.9,284.8 186.0,284.2 191.0,283.5 196.0,283.5 201.0,283.0 206.1,283.0 211.1,282.3 216.1,282.2 221.1,282.4 226.2,282.4 231.2,282.0 236.2,280.9 241.2,280.4 246.3,279.0 251.3,276.9 256.3,274.3 261.3,273.0 266.4,271.2 271.4,268.9 276.4,265.7 281.4,260.1 286.5,254.5 291.5,248.3 296.5,244.4 301.5,237.2 306.6,230.6 311.6,223.5 316.6,215.0 321.7,205.0 326.7,198.9 331.7,190.8 336.7,184.6 341.8,175.5 346.8,168.0 351.8,162.6 356.8,157.6 361.9,149.8 366.9,143.1 371.9,138.0 376.9,133.4 382.0,128.3 387.0,126.4 392.0,119.1 397.0,108.9 402.1,102.2 407.1,95.1 412.1,87.7 417.1,82.6 422.2,79.2 427.2,72.5 432.2,75.1 437.2,78.9 442.3,83.7 447.3,89.2 452.3,96.0 457.3,106.1 462.4,117.5 467.4,131.6 472.4,142.8 477.4,153.3 482.5,165.4 487.5,174.0 492.5,187.9 497.5,201.7 502.6,212.2 507.6,223.3 512.6,231.2 517.6,237.8 522.7,248.0 527.7,255.9 532.7,262.6 537.8,268.4 542.8,274.3 547.8,278.2 552.8,281.4 557.9,284.2 562.9,285.4 567.9,288.0 572.9,288.9 578.0,290.4 583.0,290.8 588.0,291.2 593.0,291.8 598.1,293.3 603.1,293.9 608.1,293.8 613.1,293.8 618.2,293.5 623.2,293.7 628.2,293.7 633.2,294.2 638.3,293.7 643.3,293.8 648.3,293.7 653.3,293.6 658.4,294.2 663.4,294.4 668.4,294.7 673.4,295.3 678.5,295.6 683.5,294.9 688.5,295.1 693.5,294.3 698.6,294.4 703.6,295.4 708.6,295.2 713.6,295.0 718.7,295.1 723.7,295.1 728.7,295.1 733.7,294.8 738.8,295.3 743.8,295.6" fill="none" stroke="#1a1a1a" stroke-width="1.3" stroke-linejoin="round"/>
<path d="M95.5,286.2 97.5,286.2 99.5,286.2 101.5,286.3 103.5,286.3 105.5,286.3 107.5,286.3 109.5,286.3 111.5,286.3 113.5,286.3 115.5,286.3 117.5,286.3 119.5,286.3 121.5,286.3 123.5,286.3 125.5,286.3 127.5,286.3 129.5,286.3 131.5,286.3 133.5,286.3 135.5,286.3 137.5,286.3 139.5,286.3 141.5,286.3 143.5,286.3 145.5,286.3 147.5,286.3 149.5,286.3 151.5,286.3 153.5,286.3 155.5,286.3 157.5,286.3 159.5,286.3 161.5,286.3 163.5,286.3 165.5,286.3 167.5,286.3 169.5,286.3 171.5,286.3 173.5,286.3 175.5,286.3 177.5,286.3 179.5,286.2 181.5,286.2 183.5,286.2 185.5,286.2 187.5,286.2 189.5,286.2 191.5,286.2 193.5,286.1 195.5,286.1 197.5,286.1 199.5,286.1 201.5,286.0 203.6,286.0 205.6,285.9 207.6,285.9 209.6,285.8 211.6,285.7 213.6,285.6 215.6,285.5 217.6,285.4 219.6,285.3 221.6,285.2 223.6,285.0 225.6,284.8 227.6,284.6 229.6,284.4 231.6,284.1 233.6,283.9 235.6,283.5 237.6,283.2 239.6,282.8 241.6,282.4 243.6,281.9 245.6,281.4 247.6,280.8 249.6,280.2 251.6,279.5 253.6,278.8 255.6,277.9 257.6,277.1 259.6,276.1 261.6,275.1 263.6,274.0 265.6,272.8 267.6,271.5 269.6,270.1 271.6,268.7 273.6,267.1 275.6,265.5 277.6,263.8 279.6,262.0 281.6,260.0 283.6,258.0 285.6,255.9 287.6,253.7 289.6,251.4 291.6,249.0 293.6,246.6 295.6,244.0 297.6,241.4 299.6,238.7 301.6,236.0 303.6,233.1 305.6,230.3 307.6,227.3 309.6,224.4 311.6,221.4 313.6,218.4 315.6,215.3 317.6,212.3 319.6,209.2 321.6,206.2 323.6,203.1 325.6,200.1 327.6,197.1 329.6,194.1 331.6,191.2 333.6,188.3 335.6,185.4 337.6,182.6 339.6,179.8 341.6,177.1 343.6,174.4 345.6,171.8 347.6,169.2 349.6,166.6 351.6,164.1 353.6,161.7 355.6,159.2 357.6,156.8 359.6,154.4 361.6,152.0 363.6,149.6 365.6,147.2 367.6,144.8 369.6,142.4 371.6,140.0 373.6,137.5 375.6,135.0 377.6,132.5 379.6,130.0 381.6,127.4 383.6,124.8 385.6,122.2 387.6,119.6 389.6,116.9 391.6,114.2 393.6,111.6 395.6,108.9 397.6,106.3 399.6,103.7 401.6,101.1 403.6,98.6 405.6,96.2 407.6,93.9 409.6,91.7 411.6,89.6 413.6,87.7 415.6,86.0 417.6,84.4 419.6,83.1 421.7,81.9 423.7,81.0 425.7,80.4 427.7,80.0 429.7,79.9 431.7,80.1 433.7,80.6 435.7,81.4 437.7,82.4 439.7,83.8 441.7,85.5 443.7,87.5 445.7,89.7 447.7,92.3 449.7,95.1 451.7,98.2 453.7,101.6 455.7,105.1 457.7,108.9 459.7,112.9 461.7,117.1 463.7,121.4 465.7,125.8 467.7,130.3 469.7,134.9 471.7,139.5 473.7,144.0 475.7,148.6 477.7,153.2 479.7,157.8 481.7,162.5 483.7,167.3 485.7,172.3 487.7,177.4 489.7,182.7 491.7,188.0 493.7,193.3 495.7,198.5 497.7,203.6 499.7,208.5 501.7,213.2 503.7,217.7 505.7,222.0 507.7,226.2 509.7,230.1 511.7,233.9 513.7,237.6 515.7,241.1 517.7,244.4 519.7,247.6 521.7,250.6 523.7,253.6 525.7,256.3 527.7,258.9 529.7,261.4 531.7,263.8 533.7,266.0 535.7,268.1 537.7,270.1 539.7,272.0 541.7,273.7 543.7,275.3 545.7,276.9 547.7,278.3 549.7,279.6 551.7,280.9 553.7,282.0 555.7,283.1 557.7,284.1 559.7,285.0 561.7,285.8 563.7,286.6 565.7,287.3 567.7,288.0 569.7,288.6 571.7,289.1 573.7,289.6 575.7,290.1 577.7,290.5 579.7,290.9 581.7,291.2 583.7,291.5 585.7,291.8 587.7,292.1 589.7,292.3 591.7,292.5 593.7,292.7 595.7,292.9 597.7,293.1 599.7,293.2 601.7,293.4 603.7,293.5 605.7,293.6 607.7,293.7 609.7,293.8 611.7,293.8 613.7,293.9 615.7,294.0 617.7,294.0 619.7,294.1 621.7,294.1 623.7,294.2 625.7,294.2 627.7,294.3 629.7,294.3 631.7,294.3 633.7,294.3 635.8,294.4 637.8,294.4 639.8,294.4 641.8,294.4 643.8,294.5 645.8,294.5 647.8,294.5 649.8,294.5 651.8,294.5 653.8,294.6 655.8,294.6 657.8,294.6 659.8,294.6 661.8,294.6 663.8,294.6 665.8,294.6 667.8,294.7 669.8,294.7 671.8,294.7 673.8,294.7 675.8,294.7 677.8,294.7 679.8,294.7 681.8,294.7 683.8,294.8 685.8,294.8 687.8,294.8 689.8,294.8 691.8,294.8 693.8,294.8 695.8,294.8 697.8,294.8 699.8,294.8 701.8,294.9 703.8,294.9 705.8,294.9 707.8,294.9 709.8,294.9 711.8,294.9 713.8,294.9 715.8,294.9 717.8,294.9 719.8,295.0 721.8,295.0 723.8,295.0 725.8,295.0 727.8,295.0 729.8,295.0 731.8,295.0 733.8,295.0 735.8,295.0 737.8,295.0 739.8,295.0 741.8,295.1 743.8,295.1" fill="none" stroke="#00ffff" stroke-width="5" stroke-linejoin="round"/>
<defs><linearGradient id="rg2" x1="0" y1="0" x2="0" y2="1"><stop offset="0" stop-color="#fa6c6c"/><stop offset="0.25" stop-color="#f9a4a4"/><stop offset="0.5" stop-color="#fcd2d2"/><stop offset="0.75" stop-color="#feeaea"/><stop offset="1" stop-color="#fffafa"/></linearGradient><linearGradient id="gg2" x1="0" y1="0" x2="0" y2="1"><stop offset="0" stop-color="#3ef73e"/><stop offset="0.25" stop-color="#80f580"/><stop offset="0.5" stop-color="#b6f8b6"/><stop offset="0.75" stop-color="#e0fce0"/><stop offset="1" stop-color="#ffffff"/></linearGradient></defs>
<path d="M95.5,542.3 97.5,542.3 99.5,542.3 101.5,542.3 103.5,542.3 105.5,542.3 107.5,542.3 109.5,542.3 111.5,542.3 113.5,542.4 115.5,542.4 117.5,542.4 119.5,542.4 121.5,542.4 123.5,542.4 125.5,542.4 127.5,542.4 129.5,542.4 131.5,542.4 133.5,542.4 135.5,542.4 137.5,542.4 139.5,542.4 141.5,542.4 143.5,542.5 145.5,542.5 147.5,542.5 149.5,542.5 151.5,542.5 153.5,542.5 155.5,542.5 157.5,542.5 159.5,542.5 161.5,542.5 163.5,542.5 165.5,542.5 167.5,542.5 169.5,542.5 171.5,542.5 173.5,542.5 175.5,542.6 177.5,542.6 179.5,542.6 181.5,542.6 183.5,542.6 185.5,542.6 187.5,542.6 189.5,542.6 191.5,542.6 193.5,542.6 195.5,542.6 197.5,542.6 199.5,542.6 201.5,542.6 203.6,542.7 205.6,542.7 207.6,542.7 209.6,542.7 211.6,542.7 213.6,542.7 215.6,542.6 217.6,542.4 219.6,542.2 221.6,542.1 223.6,541.8 225.6,541.6 227.6,541.3 229.6,541.0 231.6,540.7 233.6,540.7 235.6,540.7 237.6,540.6 239.6,540.6 241.6,540.6 243.6,540.5 245.6,540.5 247.6,540.4 249.6,540.4 251.6,540.3 253.6,540.3 255.6,540.2 257.6,540.2 259.6,540.1 261.6,540.0 263.6,540.0 265.6,539.9 267.6,539.8 269.6,539.7 271.6,539.6 273.6,539.5 275.6,539.4 277.6,539.2 279.6,539.1 281.6,538.9 283.6,538.7 285.6,538.5 287.6,538.3 289.6,538.1 291.6,537.8 293.6,537.5 295.6,537.2 297.6,536.8 299.6,536.4 301.6,536.0 303.6,535.5 305.6,535.0 307.6,534.5 309.6,533.9 311.6,533.2 313.6,532.4 315.6,531.6 317.6,530.8 319.6,529.8 321.6,528.8 323.6,527.7 325.6,526.4 327.6,525.1 329.6,523.7 331.6,522.2 333.6,520.6 335.6,518.8 337.6,516.9 339.6,514.9 341.6,512.8 343.6,510.5 345.6,508.1 347.6,505.6 349.6,502.9 351.6,500.0 353.6,497.1 355.6,493.9 357.6,490.6 359.6,487.2 361.6,483.6 363.6,479.9 365.6,476.0 367.6,472.0 369.6,467.9 371.6,463.7 373.6,459.3 375.6,454.8 377.6,450.3 379.6,445.7 381.6,440.9 383.6,436.2 385.6,431.4 387.6,426.6 389.6,421.7 391.6,416.9 393.6,412.1 395.6,407.3 397.6,402.7 399.6,398.1 401.6,393.6 403.6,389.2 405.6,385.0 407.6,381.0 409.6,377.2 411.6,373.6 413.6,370.2 415.6,367.1 417.6,364.3 419.6,361.8 421.7,359.6 423.7,357.8 425.7,356.3 427.7,355.2 429.7,354.4 431.7,354.0 433.7,354.0 435.7,354.4 437.7,355.1 439.7,356.3 441.7,357.8 443.7,359.6 445.7,361.8 447.7,364.3 449.7,367.2 451.7,370.3 453.7,373.7 455.7,377.3 457.7,381.2 459.7,385.3 461.7,389.6 463.7,394.0 465.7,398.6 467.7,403.3 469.7,408.1 471.7,412.9 473.7,417.8 475.7,422.8 477.7,427.8 479.7,432.7 481.7,437.7 483.7,442.6 485.7,447.5 487.7,452.3 489.7,457.0 491.7,461.6 493.7,466.2 495.7,470.6 497.7,474.9 499.7,479.1 501.7,483.1 503.7,487.0 505.7,490.7 507.7,494.4 509.7,497.8 511.7,501.1 513.7,504.3 515.7,507.3 517.7,510.2 519.7,512.9 521.7,515.4 523.7,517.9 525.7,520.1 527.7,522.3 529.7,524.3 531.7,526.2 533.7,528.0 535.7,529.8 537.7,531.8 539.7,533.7 541.7,535.5 543.7,537.2 545.7,538.8 547.7,540.2 549.7,541.6 551.7,542.8 553.7,543.9 555.7,544.9 557.7,545.9 559.7,546.7 561.7,547.4 563.7,548.1 565.7,548.6 567.7,549.1 569.7,549.6 571.7,549.9 573.7,550.3 575.7,550.5 577.7,550.8 579.7,550.9 581.7,550.9 583.7,550.9 585.7,550.9 587.7,550.9 589.7,550.9 591.7,550.9 593.7,550.9 595.7,550.9 597.7,550.9 599.7,550.9 601.7,550.9 603.7,551.0 605.7,551.0 607.7,551.0 609.7,551.0 611.7,551.0 613.7,551.0 615.7,551.0 617.7,551.0 619.7,551.0 621.7,551.0 623.7,551.0 625.7,551.0 627.7,551.0 629.7,551.0 631.7,551.0 633.7,551.1 635.8,551.1 637.8,551.1 639.8,551.1 641.8,551.1 643.8,551.1 645.8,551.1 647.8,551.1 649.8,551.1 651.8,551.1 653.8,551.1 655.8,551.1 657.8,551.1 659.8,551.1 661.8,551.1 663.8,551.2 665.8,551.2 667.8,551.2 669.8,551.2 671.8,551.2 673.8,551.2 675.8,551.2 677.8,551.2 679.8,551.2 681.8,551.2 683.8,551.2 685.8,551.2 687.8,551.2 689.8,551.2 691.8,551.2 693.8,551.2 695.8,551.3 697.8,551.3 699.8,551.3 701.8,551.3 703.8,551.3 705.8,551.3 707.8,551.3 709.8,551.3 711.8,551.3 713.8,551.3 715.8,551.3 717.8,551.3 719.8,551.3 721.8,551.3 723.8,551.3 725.8,551.3 727.8,551.4 729.8,551.4 731.8,551.4 733.8,551.4 735.8,551.4 737.8,551.4 739.8,551.4 741.8,551.4 743.8,551.4 743.8,551.4 741.8,551.4 739.8,551.4 737.8,551.4 735.8,551.4 733.8,551.4 731.8,551.4 729.8,551.4 727.8,551.4 725.8,551.3 723.8,551.3 721.8,551.3 719.8,551.3 717.8,551.3 715.8,551.3 713.8,551.3 711.8,551.3 709.8,551.3 707.8,551.3 705.8,551.3 703.8,551.3 701.8,551.3 699.8,551.3 697.8,551.3 695.8,551.3 693.8,551.2 691.8,551.2 689.8,551.2 687.8,551.2 685.8,551.2 683.8,551.2 681.8,551.2 679.8,551.2 677.8,551.2 675.8,551.2 673.8,551.2 671.8,551.2 669.8,551.2 667.8,551.2 665.8,551.2 663.8,551.2 661.8,551.1 659.8,551.1 657.8,551.1 655.8,551.1 653.8,551.1 651.8,551.1 649.8,551.1 647.8,551.1 645.8,551.1 643.8,551.1 641.8,551.1 639.8,551.1 637.8,551.1 635.8,551.1 633.7,551.1 631.7,551.0 629.7,551.0 627.7,551.0 625.7,551.0 623.7,551.0 621.7,551.0 619.7,551.0 617.7,551.0 615.7,551.0 613.7,551.0 611.7,551.0 609.7,551.0 607.7,551.0 605.7,551.0 603.7,551.0 601.7,550.9 599.7,550.9 597.7,550.9 595.7,550.9 593.7,550.9 591.7,550.9 589.7,550.9 587.7,550.9 585.7,550.9 583.7,550.9 581.7,550.9 579.7,550.9 577.7,550.9 575.7,550.8 573.7,550.8 571.7,550.8 569.7,550.8 567.7,550.8 565.7,550.8 563.7,550.8 561.7,550.8 559.7,550.8 557.7,550.8 555.7,550.8 553.7,550.7 551.7,550.7 549.7,550.7 547.7,550.7 545.7,550.7 543.7,550.7 541.7,550.7 539.7,550.7 537.7,550.6 535.7,550.6 533.7,550.6 531.7,550.6 529.7,550.6 527.7,550.6 525.7,550.5 523.7,550.5 521.7,550.5 519.7,550.5 517.7,550.5 515.7,550.4 513.7,550.4 511.7,550.4 509.7,550.4 507.7,550.3 505.7,550.3 503.7,550.3 501.7,550.2 499.7,550.2 497.7,550.2 495.7,550.1 493.7,550.1 491.7,550.0 489.7,550.0 487.7,549.9 485.7,549.9 483.7,549.8 481.7,549.8 479.7,549.7 477.7,549.7 475.7,549.6 473.7,549.6 471.7,549.5 469.7,549.4 467.7,549.4 465.7,549.3 463.7,549.2 461.7,549.1 459.7,549.1 457.7,549.0 455.7,548.9 453.7,548.8 451.7,548.8 449.7,548.7 447.7,548.6 445.7,548.5 443.7,548.4 441.7,548.3 439.7,548.2 437.7,548.1 435.7,548.1 433.7,548.0 431.7,547.9 429.7,547.8 427.7,547.7 425.7,547.6 423.7,547.5 421.7,547.4 419.6,547.3 417.6,547.2 415.6,547.1 413.6,547.0 411.6,547.0 409.6,546.9 407.6,546.8 405.6,546.7 403.6,546.6 401.6,546.5 399.6,546.4 397.6,546.3 395.6,546.3 393.6,546.2 391.6,546.1 389.6,546.0 387.6,545.9 385.6,545.9 383.6,545.8 381.6,545.7 379.6,545.6 377.6,545.5 375.6,545.5 373.6,545.4 371.6,545.3 369.6,545.2 367.6,545.2 365.6,545.1 363.6,545.0 361.6,545.0 359.6,544.9 357.6,544.8 355.6,544.8 353.6,544.7 351.6,544.6 349.6,544.6 347.6,544.5 345.6,544.4 343.6,544.4 341.6,544.3 339.6,544.2 337.6,544.2 335.6,544.1 333.6,544.1 331.6,544.0 329.6,544.0 327.6,543.9 325.6,543.9 323.6,543.8 321.6,543.8 319.6,543.7 317.6,543.7 315.6,543.6 313.6,543.6 311.6,543.5 309.6,543.5 307.6,543.5 305.6,543.4 303.6,543.4 301.6,543.4 299.6,543.3 297.6,543.3 295.6,543.3 293.6,543.2 291.6,543.2 289.6,543.2 287.6,543.2 285.6,543.1 283.6,543.1 281.6,543.1 279.6,543.1 277.6,543.0 275.6,543.0 273.6,543.0 271.6,543.0 269.6,543.0 267.6,543.0 265.6,542.9 263.6,542.9 261.6,542.9 259.6,542.9 257.6,542.9 255.6,542.9 253.6,542.9 251.6,542.9 249.6,542.8 247.6,542.8 245.6,542.8 243.6,542.8 241.6,542.8 239.6,542.8 237.6,542.8 235.6,542.8 233.6,542.8 231.6,542.8 229.6,542.7 227.6,542.7 225.6,542.7 223.6,542.7 221.6,542.7 219.6,542.7 217.6,542.7 215.6,542.7 213.6,542.7 211.6,542.7 209.6,542.7 207.6,542.7 205.6,542.7 203.6,542.7 201.5,542.6 199.5,542.6 197.5,542.6 195.5,542.6 193.5,542.6 191.5,542.6 189.5,542.6 187.5,542.6 185.5,542.6 183.5,542.6 181.5,542.6 179.5,542.6 177.5,542.6 175.5,542.6 173.5,542.5 171.5,542.5 169.5,542.5 167.5,542.5 165.5,542.5 163.5,542.5 161.5,542.5 159.5,542.5 157.5,542.5 155.5,542.5 153.5,542.5 151.5,542.5 149.5,542.5 147.5,542.5 145.5,542.5 143.5,542.5 141.5,542.4 139.5,542.4 137.5,542.4 135.5,542.4 133.5,542.4 131.5,542.4 129.5,542.4 127.5,542.4 125.5,542.4 123.5,542.4 121.5,542.4 119.5,542.4 117.5,542.4 115.5,542.4 113.5,542.4 111.5,542.3 109.5,542.3 107.5,542.3 105.5,542.3 103.5,542.3 101.5,542.3 99.5,542.3 97.5,542.3 95.5,542.3 Z" fill="url(#rg2)" stroke="none"/>
<path d="M95.5,542.3 97.5,542.3 99.5,542.3 101.5,542.3 103.5,542.3 105.5,542.3 107.5,542.3 109.5,542.3 111.5,542.3 113.5,542.4 115.5,542.4 117.5,542.4 119.5,542.4 121.5,542.4 123.5,542.4 125.5,542.4 127.5,542.4 129.5,542.4 131.5,542.4 133.5,542.4 135.5,542.4 137.5,542.4 139.5,542.4 141.5,542.4 143.5,542.5 145.5,542.5 147.5,542.5 149.5,542.5 151.5,542.5 153.5,542.5 155.5,542.5 157.5,542.5 159.5,542.5 161.5,542.5 163.5,542.5 165.5,542.5 167.5,542.5 169.5,542.5 171.5,542.5 173.5,542.5 175.5,542.6 177.5,542.6 179.5,542.6 181.5,542.6 183.5,542.6 185.5,542.6 187.5,542.6 189.5,542.6 191.5,542.6 193.5,542.6 195.5,542.6 197.5,542.6 199.5,542.6 201.5,542.6 203.6,542.7 205.6,542.7 207.6,542.7 209.6,542.7 211.6,542.7 213.6,542.7 215.6,542.6 217.6,542.4 219.6,542.2 221.6,542.1 223.6,541.8 225.6,541.6 227.6,541.3 229.6,541.0 231.6,540.7 233.6,540.7 235.6,540.7 237.6,540.6 239.6,540.6 241.6,540.6 243.6,540.5 245.6,540.5 247.6,540.4 249.6,540.4 251.6,540.3 253.6,540.3 255.6,540.2 257.6,540.2 259.6,540.1 261.6,540.0 263.6,540.0 265.6,539.9 267.6,539.8 269.6,539.7 271.6,539.6 273.6,539.5 275.6,539.4 277.6,539.2 279.6,539.1 281.6,538.9 283.6,538.7 285.6,538.5 287.6,538.3 289.6,538.1 291.6,537.8 293.6,537.5 295.6,537.2 297.6,536.8 299.6,536.4 301.6,536.0 303.6,535.5 305.6,535.0 307.6,534.5 309.6,533.9 311.6,533.2 313.6,532.4 315.6,531.6 317.6,530.8 319.6,529.8 321.6,528.8 323.6,527.7 325.6,526.4 327.6,525.1 329.6,523.7 331.6,522.2 333.6,520.6 335.6,518.8 337.6,516.9 339.6,514.9 341.6,512.8 343.6,510.5 345.6,508.1 347.6,505.6 349.6,502.9 351.6,500.0 353.6,497.1 355.6,493.9 357.6,490.6 359.6,487.2 361.6,483.6 363.6,479.9 365.6,476.0 367.6,472.0 369.6,467.9 371.6,463.7 373.6,459.3 375.6,454.8 377.6,450.3 379.6,445.7 381.6,440.9 383.6,436.2 385.6,431.4 387.6,426.6 389.6,421.7 391.6,416.9 393.6,412.1 395.6,407.3 397.6,402.7 399.6,398.1 401.6,393.6 403.6,389.2 405.6,385.0 407.6,381.0 409.6,377.2 411.6,373.6 413.6,370.2 415.6,367.1 417.6,364.3 419.6,361.8 421.7,359.6 423.7,357.8 425.7,356.3 427.7,355.2 429.7,354.4 431.7,354.0 433.7,354.0 435.7,354.4 437.7,355.1 439.7,356.3 441.7,357.8 443.7,359.6 445.7,361.8 447.7,364.3 449.7,367.2 451.7,370.3 453.7,373.7 455.7,377.3 457.7,381.2 459.7,385.3 461.7,389.6 463.7,394.0 465.7,398.6 467.7,403.3 469.7,408.1 471.7,412.9 473.7,417.8 475.7,422.8 477.7,427.8 479.7,432.7 481.7,437.7 483.7,442.6 485.7,447.5 487.7,452.3 489.7,457.0 491.7,461.6 493.7,466.2 495.7,470.6 497.7,474.9 499.7,479.1 501.7,483.1 503.7,487.0 505.7,490.7 507.7,494.4 509.7,497.8 511.7,501.1 513.7,504.3 515.7,507.3 517.7,510.2 519.7,512.9 521.7,515.4 523.7,517.9 525.7,520.1 527.7,522.3 529.7,524.3 531.7,526.2 533.7,528.0 535.7,529.8 537.7,531.8 539.7,533.7 541.7,535.5 543.7,537.2 545.7,538.8 547.7,540.2 549.7,541.6 551.7,542.8 553.7,543.9 555.7,544.9 557.7,545.9 559.7,546.7 561.7,547.4 563.7,548.1 565.7,548.6 567.7,549.1 569.7,549.6 571.7,549.9 573.7,550.3 575.7,550.5 577.7,550.8 579.7,550.9 581.7,550.9 583.7,550.9 585.7,550.9 587.7,550.9 589.7,550.9 591.7,550.9 593.7,550.9 595.7,550.9 597.7,550.9 599.7,550.9 601.7,550.9 603.7,551.0 605.7,551.0 607.7,551.0 609.7,551.0 611.7,551.0 613.7,551.0 615.7,551.0 617.7,551.0 619.7,551.0 621.7,551.0 623.7,551.0 625.7,551.0 627.7,551.0 629.7,551.0 631.7,551.0 633.7,551.1 635.8,551.1 637.8,551.1 639.8,551.1 641.8,551.1 643.8,551.1 645.8,551.1 647.8,551.1 649.8,551.1 651.8,551.1 653.8,551.1 655.8,551.1 657.8,551.1 659.8,551.1 661.8,551.1 663.8,551.2 665.8,551.2 667.8,551.2 669.8,551.2 671.8,551.2 673.8,551.2 675.8,551.2 677.8,551.2 679.8,551.2 681.8,551.2 683.8,551.2 685.8,551.2 687.8,551.2 689.8,551.2 691.8,551.2 693.8,551.2 695.8,551.3 697.8,551.3 699.8,551.3 701.8,551.3 703.8,551.3 705.8,551.3 707.8,551.3 709.8,551.3 711.8,551.3 713.8,551.3 715.8,551.3 717.8,551.3 719.8,551.3 721.8,551.3 723.8,551.3 725.8,551.3 727.8,551.4 729.8,551.4 731.8,551.4 733.8,551.4 735.8,551.4 737.8,551.4 739.8,551.4 741.8,551.4 743.8,551.4" fill="none" stroke="#ff3333" stroke-width="3.6" stroke-opacity="0.9" stroke-linejoin="round"/>
<path d="M95.5,542.3 97.5,542.3 99.5,542.3 101.5,542.3 103.5,542.3 105.5,542.3 107.5,542.3 109.5,542.3 111.5,542.3 113.5,542.4 115.5,542.4 117.5,542.4 119.5,542.4 121.5,542.4 123.5,542.4 125.5,542.4 127.5,542.4 129.5,542.4 131.5,542.4 133.5,542.4 135.5,542.4 137.5,542.4 139.5,542.4 141.5,542.4 143.5,542.5 145.5,542.5 147.5,542.5 149.5,542.5 151.5,542.5 153.5,542.5 155.5,542.5 157.5,542.5 159.5,542.5 161.5,542.5 163.5,542.5 165.5,542.5 167.5,542.5 169.5,542.5 171.5,542.5 173.5,542.5 175.5,542.6 177.5,542.6 179.5,542.6 181.5,542.6 183.5,542.6 185.5,542.6 187.5,542.6 189.5,542.6 191.5,542.6 193.5,542.6 195.5,542.6 197.5,542.6 199.5,542.6 201.5,542.6 203.6,542.7 205.6,542.7 207.6,542.7 209.6,542.7 211.6,542.7 213.6,542.7 215.6,542.6 217.6,542.4 219.6,542.2 221.6,542.1 223.6,541.8 225.6,541.6 227.6,541.3 229.6,541.0 231.6,540.7 233.6,540.3 235.6,539.9 237.6,539.4 239.6,538.9 241.6,538.4 243.6,537.8 245.6,537.1 247.6,536.4 249.6,535.6 251.6,534.7 253.6,533.8 255.6,532.8 257.6,531.6 259.6,530.5 261.6,529.2 263.6,527.8 265.6,526.3 267.6,524.8 269.6,523.1 271.6,521.3 273.6,519.4 275.6,517.3 277.6,515.2 279.6,513.0 281.6,510.6 283.6,508.1 285.6,505.5 287.6,502.8 289.6,499.9 291.6,496.9 293.6,493.9 295.6,490.8 297.6,488.0 299.6,485.2 301.6,482.4 303.6,479.5 305.6,476.7 307.6,473.8 309.6,471.0 311.6,468.2 313.6,465.4 315.6,462.8 317.6,460.2 319.6,457.7 321.6,455.3 323.6,453.1 325.6,451.0 327.6,449.0 329.6,447.2 331.6,445.7 333.6,444.3 335.6,443.1 337.6,442.2 339.6,441.5 341.6,441.1 343.6,440.9 345.6,440.9 347.6,441.2 349.6,441.7 351.6,442.5 353.6,443.5 355.6,444.8 357.6,446.2 359.6,447.9 361.6,449.7 363.6,451.8 365.6,454.0 367.6,456.3 369.6,458.8 371.6,461.4 373.6,464.1 375.6,466.9 377.6,469.7 379.6,472.6 381.6,475.6 383.6,478.5 385.6,481.5 387.6,484.5 389.6,487.4 391.6,490.4 393.6,493.3 395.6,496.1 397.6,498.9 399.6,501.6 401.6,504.3 403.6,506.9 405.6,509.4 407.6,511.8 409.6,514.1 411.6,516.4 413.6,518.5 415.6,520.5 417.6,522.5 419.6,524.3 421.7,526.1 423.7,527.7 425.7,529.3 427.7,530.8 429.7,532.2 431.7,533.5 433.7,534.7 435.7,535.8 437.7,536.9 439.7,537.9 441.7,538.8 443.7,539.6 445.7,540.4 447.7,541.1 449.7,541.8 451.7,542.4 453.7,543.0 455.7,543.5 457.7,544.0 459.7,544.5 461.7,544.9 463.7,545.2 465.7,545.6 467.7,545.9 469.7,546.2 471.7,546.5 473.7,546.7 475.7,546.9 477.7,547.2 479.7,547.3 481.7,547.5 483.7,547.7 485.7,547.8 487.7,548.0 489.7,548.1 491.7,548.2 493.7,548.3 495.7,548.5 497.7,548.6 499.7,548.6 501.7,548.7 503.7,548.8 505.7,548.9 507.7,549.0 509.7,549.0 511.7,549.1 513.7,549.1 515.7,549.2 517.7,549.3 519.7,549.3 521.7,549.4 523.7,549.4 525.7,549.4 527.7,549.5 529.7,549.5 531.7,549.6 533.7,549.6 535.7,549.6 537.7,549.7 539.7,549.7 541.7,549.7 543.7,549.8 545.7,549.8 547.7,549.8 549.7,549.9 551.7,549.9 553.7,549.9 555.7,549.9 557.7,550.0 559.7,550.0 561.7,550.0 563.7,550.0 565.7,550.1 567.7,550.1 569.7,550.1 571.7,550.1 573.7,550.3 575.7,550.5 577.7,550.8 579.7,550.9 581.7,550.9 583.7,550.9 585.7,550.9 587.7,550.9 589.7,550.9 591.7,550.9 593.7,550.9 595.7,550.9 597.7,550.9 599.7,550.9 601.7,550.9 603.7,551.0 605.7,551.0 607.7,551.0 609.7,551.0 611.7,551.0 613.7,551.0 615.7,551.0 617.7,551.0 619.7,551.0 621.7,551.0 623.7,551.0 625.7,551.0 627.7,551.0 629.7,551.0 631.7,551.0 633.7,551.1 635.8,551.1 637.8,551.1 639.8,551.1 641.8,551.1 643.8,551.1 645.8,551.1 647.8,551.1 649.8,551.1 651.8,551.1 653.8,551.1 655.8,551.1 657.8,551.1 659.8,551.1 661.8,551.1 663.8,551.2 665.8,551.2 667.8,551.2 669.8,551.2 671.8,551.2 673.8,551.2 675.8,551.2 677.8,551.2 679.8,551.2 681.8,551.2 683.8,551.2 685.8,551.2 687.8,551.2 689.8,551.2 691.8,551.2 693.8,551.2 695.8,551.3 697.8,551.3 699.8,551.3 701.8,551.3 703.8,551.3 705.8,551.3 707.8,551.3 709.8,551.3 711.8,551.3 713.8,551.3 715.8,551.3 717.8,551.3 719.8,551.3 721.8,551.3 723.8,551.3 725.8,551.3 727.8,551.4 729.8,551.4 731.8,551.4 733.8,551.4 735.8,551.4 737.8,551.4 739.8,551.4 741.8,551.4 743.8,551.4 743.8,551.4 741.8,551.4 739.8,551.4 737.8,551.4 735.8,551.4 733.8,551.4 731.8,551.4 729.8,551.4 727.8,551.4 725.8,551.3 723.8,551.3 721.8,551.3 719.8,551.3 717.8,551.3 715.8,551.3 713.8,551.3 711.8,551.3 709.8,551.3 707.8,551.3 705.8,551.3 703.8,551.3 701.8,551.3 699.8,551.3 697.8,551.3 695.8,551.3 693.8,551.2 691.8,551.2 689.8,551.2 687.8,551.2 685.8,551.2 683.8,551.2 681.8,551.2 679.8,551.2 677.8,551.2 675.8,551.2 673.8,551.2 671.8,551.2 669.8,551.2 667.8,551.2 665.8,551.2 663.8,551.2 661.8,551.1 659.8,551.1 657.8,551.1 655.8,551.1 653.8,551.1 651.8,551.1 649.8,551.1 647.8,551.1 645.8,551.1 643.8,551.1 641.8,551.1 639.8,551.1 637.8,551.1 635.8,551.1 633.7,551.1 631.7,551.0 629.7,551.0 627.7,551.0 625.7,551.0 623.7,551.0 621.7,551.0 619.7,551.0 617.7,551.0 615.7,551.0 613.7,551.0 611.7,551.0 609.7,551.0 607.7,551.0 605.7,551.0 603.7,551.0 601.7,550.9 599.7,550.9 597.7,550.9 595.7,550.9 593.7,550.9 591.7,550.9 589.7,550.9 587.7,550.9 585.7,550.9 583.7,550.9 581.7,550.9 579.7,550.9 577.7,550.9 575.7,550.8 573.7,550.8 571.7,550.8 569.7,550.8 567.7,550.8 565.7,550.8 563.7,550.8 561.7,550.8 559.7,550.8 557.7,550.8 555.7,550.8 553.7,550.7 551.7,550.7 549.7,550.7 547.7,550.7 545.7,550.7 543.7,550.7 541.7,550.7 539.7,550.7 537.7,550.6 535.7,550.6 533.7,550.6 531.7,550.6 529.7,550.6 527.7,550.6 525.7,550.5 523.7,550.5 521.7,550.5 519.7,550.5 517.7,550.5 515.7,550.4 513.7,550.4 511.7,550.4 509.7,550.4 507.7,550.3 505.7,550.3 503.7,550.3 501.7,550.2 499.7,550.2 497.7,550.2 495.7,550.1 493.7,550.1 491.7,550.0 489.7,550.0 487.7,549.9 485.7,549.9 483.7,549.8 481.7,549.8 479.7,549.7 477.7,549.7 475.7,549.6 473.7,549.6 471.7,549.5 469.7,549.4 467.7,549.4 465.7,549.3 463.7,549.2 461.7,549.1 459.7,549.1 457.7,549.0 455.7,548.9 453.7,548.8 451.7,548.8 449.7,548.7 447.7,548.6 445.7,548.5 443.7,548.4 441.7,548.3 439.7,548.2 437.7,548.1 435.7,548.1 433.7,548.0 431.7,547.9 429.7,547.8 427.7,547.7 425.7,547.6 423.7,547.5 421.7,547.4 419.6,547.3 417.6,547.2 415.6,547.1 413.6,547.0 411.6,547.0 409.6,546.9 407.6,546.8 405.6,546.7 403.6,546.6 401.6,546.5 399.6,546.4 397.6,546.3 395.6,546.3 393.6,546.2 391.6,546.1 389.6,546.0 387.6,545.9 385.6,545.9 383.6,545.8 381.6,545.7 379.6,545.6 377.6,545.5 375.6,545.5 373.6,545.4 371.6,545.3 369.6,545.2 367.6,545.2 365.6,545.1 363.6,545.0 361.6,545.0 359.6,544.9 357.6,544.8 355.6,544.8 353.6,544.7 351.6,544.6 349.6,544.6 347.6,544.5 345.6,544.4 343.6,544.4 341.6,544.3 339.6,544.2 337.6,544.2 335.6,544.1 333.6,544.1 331.6,544.0 329.6,544.0 327.6,543.9 325.6,543.9 323.6,543.8 321.6,543.8 319.6,543.7 317.6,543.7 315.6,543.6 313.6,543.6 311.6,543.5 309.6,543.5 307.6,543.5 305.6,543.4 303.6,543.4 301.6,543.4 299.6,543.3 297.6,543.3 295.6,543.3 293.6,543.2 291.6,543.2 289.6,543.2 287.6,543.2 285.6,543.1 283.6,543.1 281.6,543.1 279.6,543.1 277.6,543.0 275.6,543.0 273.6,543.0 271.6,543.0 269.6,543.0 267.6,543.0 265.6,542.9 263.6,542.9 261.6,542.9 259.6,542.9 257.6,542.9 255.6,542.9 253.6,542.9 251.6,542.9 249.6,542.8 247.6,542.8 245.6,542.8 243.6,542.8 241.6,542.8 239.6,542.8 237.6,542.8 235.6,542.8 233.6,542.8 231.6,542.8 229.6,542.7 227.6,542.7 225.6,542.7 223.6,542.7 221.6,542.7 219.6,542.7 217.6,542.7 215.6,542.7 213.6,542.7 211.6,542.7 209.6,542.7 207.6,542.7 205.6,542.7 203.6,542.7 201.5,542.6 199.5,542.6 197.5,542.6 195.5,542.6 193.5,542.6 191.5,542.6 189.5,542.6 187.5,542.6 185.5,542.6 183.5,542.6 181.5,542.6 179.5,542.6 177.5,542.6 175.5,542.6 173.5,542.5 171.5,542.5 169.5,542.5 167.5,542.5 165.5,542.5 163.5,542.5 161.5,542.5 159.5,542.5 157.5,542.5 155.5,542.5 153.5,542.5 151.5,542.5 149.5,542.5 147.5,542.5 145.5,542.5 143.5,542.5 141.5,542.4 139.5,542.4 137.5,542.4 135.5,542.4 133.5,542.4 131.5,542.4 129.5,542.4 127.5,542.4 125.5,542.4 123.5,542.4 121.5,542.4 119.5,542.4 117.5,542.4 115.5,542.4 113.5,542.4 111.5,542.3 109.5,542.3 107.5,542.3 105.5,542.3 103.5,542.3 101.5,542.3 99.5,542.3 97.5,542.3 95.5,542.3 Z" fill="url(#gg2)" fill-opacity="0.68" stroke="none"/>
<path d="M95.5,542.3 97.5,542.3 99.5,542.3 101.5,542.3 103.5,542.3 105.5,542.3 107.5,542.3 109.5,542.3 111.5,542.3 113.5,542.4 115.5,542.4 117.5,542.4 119.5,542.4 121.5,542.4 123.5,542.4 125.5,542.4 127.5,542.4 129.5,542.4 131.5,542.4 133.5,542.4 135.5,542.4 137.5,542.4 139.5,542.4 141.5,542.4 143.5,542.5 145.5,542.5 147.5,542.5 149.5,542.5 151.5,542.5 153.5,542.5 155.5,542.5 157.5,542.5 159.5,542.5 161.5,542.5 163.5,542.5 165.5,542.5 167.5,542.5 169.5,542.5 171.5,542.5 173.5,542.5 175.5,542.6 177.5,542.6 179.5,542.6 181.5,542.6 183.5,542.6 185.5,542.6 187.5,542.6 189.5,542.6 191.5,542.6 193.5,542.6 195.5,542.6 197.5,542.6 199.5,542.6 201.5,542.6 203.6,542.7 205.6,542.7 207.6,542.7 209.6,542.7 211.6,542.7 213.6,542.7 215.6,542.6 217.6,542.4 219.6,542.2 221.6,542.1 223.6,541.8 225.6,541.6 227.6,541.3 229.6,541.0 231.6,540.7 233.6,540.3 235.6,539.9 237.6,539.4 239.6,538.9 241.6,538.4 243.6,537.8 245.6,537.1 247.6,536.4 249.6,535.6 251.6,534.7 253.6,533.8 255.6,532.8 257.6,531.6 259.6,530.5 261.6,529.2 263.6,527.8 265.6,526.3 267.6,524.8 269.6,523.1 271.6,521.3 273.6,519.4 275.6,517.3 277.6,515.2 279.6,513.0 281.6,510.6 283.6,508.1 285.6,505.5 287.6,502.8 289.6,499.9 291.6,496.9 293.6,493.9 295.6,490.8 297.6,488.0 299.6,485.2 301.6,482.4 303.6,479.5 305.6,476.7 307.6,473.8 309.6,471.0 311.6,468.2 313.6,465.4 315.6,462.8 317.6,460.2 319.6,457.7 321.6,455.3 323.6,453.1 325.6,451.0 327.6,449.0 329.6,447.2 331.6,445.7 333.6,444.3 335.6,443.1 337.6,442.2 339.6,441.5 341.6,441.1 343.6,440.9 345.6,440.9 347.6,441.2 349.6,441.7 351.6,442.5 353.6,443.5 355.6,444.8 357.6,446.2 359.6,447.9 361.6,449.7 363.6,451.8 365.6,454.0 367.6,456.3 369.6,458.8 371.6,461.4 373.6,464.1 375.6,466.9 377.6,469.7 379.6,472.6 381.6,475.6 383.6,478.5 385.6,481.5 387.6,484.5 389.6,487.4 391.6,490.4 393.6,493.3 395.6,496.1 397.6,498.9 399.6,501.6 401.6,504.3 403.6,506.9 405.6,509.4 407.6,511.8 409.6,514.1 411.6,516.4 413.6,518.5 415.6,520.5 417.6,522.5 419.6,524.3 421.7,526.1 423.7,527.7 425.7,529.3 427.7,530.8 429.7,532.2 431.7,533.5 433.7,534.7 435.7,535.8 437.7,536.9 439.7,537.9 441.7,538.8 443.7,539.6 445.7,540.4 447.7,541.1 449.7,541.8 451.7,542.4 453.7,543.0 455.7,543.5 457.7,544.0 459.7,544.5 461.7,544.9 463.7,545.2 465.7,545.6 467.7,545.9 469.7,546.2 471.7,546.5 473.7,546.7 475.7,546.9 477.7,547.2 479.7,547.3 481.7,547.5 483.7,547.7 485.7,547.8 487.7,548.0 489.7,548.1 491.7,548.2 493.7,548.3 495.7,548.5 497.7,548.6 499.7,548.6 501.7,548.7 503.7,548.8 505.7,548.9 507.7,549.0 509.7,549.0 511.7,549.1 513.7,549.1 515.7,549.2 517.7,549.3 519.7,549.3 521.7,549.4 523.7,549.4 525.7,549.4 527.7,549.5 529.7,549.5 531.7,549.6 533.7,549.6 535.7,549.6 537.7,549.7 539.7,549.7 541.7,549.7 543.7,549.8 545.7,549.8 547.7,549.8 549.7,549.9 551.7,549.9 553.7,549.9 555.7,549.9 557.7,550.0 559.7,550.0 561.7,550.0 563.7,550.0 565.7,550.1 567.7,550.1 569.7,550.1 571.7,550.1 573.7,550.3 575.7,550.5 577.7,550.8 579.7,550.9 581.7,550.9 583.7,550.9 585.7,550.9 587.7,550.9 589.7,550.9 591.7,550.9 593.7,550.9 595.7,550.9 597.7,550.9 599.7,550.9 601.7,550.9 603.7,551.0 605.7,551.0 607.7,551.0 609.7,551.0 611.7,551.0 613.7,551.0 615.7,551.0 617.7,551.0 619.7,551.0 621.7,551.0 623.7,551.0 625.7,551.0 627.7,551.0 629.7,551.0 631.7,551.0 633.7,551.1 635.8,551.1 637.8,551.1 639.8,551.1 641.8,551.1 643.8,551.1 645.8,551.1 647.8,551.1 649.8,551.1 651.8,551.1 653.8,551.1 655.8,551.1 657.8,551.1 659.8,551.1 661.8,551.1 663.8,551.2 665.8,551.2 667.8,551.2 669.8,551.2 671.8,551.2 673.8,551.2 675.8,551.2 677.8,551.2 679.8,551.2 681.8,551.2 683.8,551.2 685.8,551.2 687.8,551.2 689.8,551.2 691.8,551.2 693.8,551.2 695.8,551.3 697.8,551.3 699.8,551.3 701.8,551.3 703.8,551.3 705.8,551.3 707.8,551.3 709.8,551.3 711.8,551.3 713.8,551.3 715.8,551.3 717.8,551.3 719.8,551.3 721.8,551.3 723.8,551.3 725.8,551.3 727.8,551.4 729.8,551.4 731.8,551.4 733.8,551.4 735.8,551.4 737.8,551.4 739.8,551.4 741.8,551.4 743.8,551.4" fill="none" stroke="#33f533" stroke-width="3.8" stroke-opacity="0.9" stroke-linejoin="round"/>
<line x1="95.50" y1="544.80" x2="743.80" y2="549.40" stroke="#5ec93a" stroke-width="2.6"/>
<path d="M95.5,542.3 97.5,542.3 99.5,542.3 101.5,542.3 103.5,542.3 105.5,542.3 107.5,542.3 109.5,542.3 111.5,542.3 113.5,542.4 115.5,542.4 117.5,542.4 119.5,542.4 121.5,542.4 123.5,542.4 125.5,542.4 127.5,542.4 129.5,542.4 131.5,542.4 133.5,542.4 135.5,542.4 137.5,542.4 139.5,542.4 141.5,542.4 143.5,542.5 145.5,542.5 147.5,542.5 149.5,542.5 151.5,542.5 153.5,542.5 155.5,542.5 157.5,542.5 159.5,542.5 161.5,542.5 163.5,542.5 165.5,542.5 167.5,542.5 169.5,542.5 171.5,542.5 173.5,542.5 175.5,542.6 177.5,542.6 179.5,542.6 181.5,542.6 183.5,542.6 185.5,542.6 187.5,542.6 189.5,542.6 191.5,542.6 193.5,542.6 195.5,542.6 197.5,542.6 199.5,542.6 201.5,542.6 203.6,542.7 205.6,542.7 207.6,542.7 209.6,542.7 211.6,542.7 213.6,542.7 215.6,542.7 217.6,542.7 219.6,542.7 221.6,542.7 223.6,542.7 225.6,542.7 227.6,542.7 229.6,542.7 231.6,542.8 233.6,542.8 235.6,542.8 237.6,542.8 239.6,542.8 241.6,542.8 243.6,542.8 245.6,542.8 247.6,542.8 249.6,542.8 251.6,542.9 253.6,542.9 255.6,542.9 257.6,542.9 259.6,542.9 261.6,542.9 263.6,542.9 265.6,542.9 267.6,543.0 269.6,543.0 271.6,543.0 273.6,543.0 275.6,543.0 277.6,543.0 279.6,543.1 281.6,543.1 283.6,543.1 285.6,543.1 287.6,543.2 289.6,543.2 291.6,543.2 293.6,543.2 295.6,543.3 297.6,543.3 299.6,543.3 301.6,543.4 303.6,543.4 305.6,543.4 307.6,543.5 309.6,543.5 311.6,543.5 313.6,543.6 315.6,543.6 317.6,543.7 319.6,543.7 321.6,543.8 323.6,543.8 325.6,543.9 327.6,543.9 329.6,544.0 331.6,544.0 333.6,544.1 335.6,544.1 337.6,544.2 339.6,544.2 341.6,544.3 343.6,544.4 345.6,544.4 347.6,544.5 349.6,544.6 351.6,544.6 353.6,544.7 355.6,544.8 357.6,544.8 359.6,544.9 361.6,545.0 363.6,545.0 365.6,545.1 367.6,545.2 369.6,545.2 371.6,545.3 373.6,545.4 375.6,545.5 377.6,545.5 379.6,545.6 381.6,545.7 383.6,545.8 385.6,545.9 387.6,545.9 389.6,546.0 391.6,546.1 393.6,546.2 395.6,546.3 397.6,546.3 399.6,546.4 401.6,546.5 403.6,546.6 405.6,546.7 407.6,546.8 409.6,546.9 411.6,547.0 413.6,547.0 415.6,547.1 417.6,547.2 419.6,547.3 421.7,547.4 423.7,547.5 425.7,547.6 427.7,547.7 429.7,547.8 431.7,547.9 433.7,548.0 435.7,548.1 437.7,548.1 439.7,548.2 441.7,548.3 443.7,548.4 445.7,548.5 447.7,548.6 449.7,548.7 451.7,548.8 453.7,548.8 455.7,548.9 457.7,549.0 459.7,549.1 461.7,549.1 463.7,549.2 465.7,549.3 467.7,549.4 469.7,549.4 471.7,549.5 473.7,549.6 475.7,549.6 477.7,549.7 479.7,549.7 481.7,549.8 483.7,549.8 485.7,549.9 487.7,549.9 489.7,550.0 491.7,550.0 493.7,550.1 495.7,550.1 497.7,550.2 499.7,550.2 501.7,550.2 503.7,550.3 505.7,550.3 507.7,550.3 509.7,550.4 511.7,550.4 513.7,550.4 515.7,550.4 517.7,550.5 519.7,550.5 521.7,550.5 523.7,550.5 525.7,550.5 527.7,550.6 529.7,550.6 531.7,550.6 533.7,550.6 535.7,550.6 537.7,550.6 539.7,550.7 541.7,550.7 543.7,550.7 545.7,550.7 547.7,550.7 549.7,550.7 551.7,550.7 553.7,550.7 555.7,550.8 557.7,550.8 559.7,550.8 561.7,550.8 563.7,550.8 565.7,550.8 567.7,550.8 569.7,550.8 571.7,550.8 573.7,550.8 575.7,550.8 577.7,550.9 579.7,550.9 581.7,550.9 583.7,550.9 585.7,550.9 587.7,550.9 589.7,550.9 591.7,550.9 593.7,550.9 595.7,550.9 597.7,550.9 599.7,550.9 601.7,550.9 603.7,551.0 605.7,551.0 607.7,551.0 609.7,551.0 611.7,551.0 613.7,551.0 615.7,551.0 617.7,551.0 619.7,551.0 621.7,551.0 623.7,551.0 625.7,551.0 627.7,551.0 629.7,551.0 631.7,551.0 633.7,551.1 635.8,551.1 637.8,551.1 639.8,551.1 641.8,551.1 643.8,551.1 645.8,551.1 647.8,551.1 649.8,551.1 651.8,551.1 653.8,551.1 655.8,551.1 657.8,551.1 659.8,551.1 661.8,551.1 663.8,551.2 665.8,551.2 667.8,551.2 669.8,551.2 671.8,551.2 673.8,551.2 675.8,551.2 677.8,551.2 679.8,551.2 681.8,551.2 683.8,551.2 685.8,551.2 687.8,551.2 689.8,551.2 691.8,551.2 693.8,551.2 695.8,551.3 697.8,551.3 699.8,551.3 701.8,551.3 703.8,551.3 705.8,551.3 707.8,551.3 709.8,551.3 711.8,551.3 713.8,551.3 715.8,551.3 717.8,551.3 719.8,551.3 721.8,551.3 723.8,551.3 725.8,551.3 727.8,551.4 729.8,551.4 731.8,551.4 733.8,551.4 735.8,551.4 737.8,551.4 739.8,551.4 741.8,551.4 743.8,551.4" fill="none" stroke="#1515b0" stroke-width="1.3"/>
<path d="M95.5,543.0 100.5,542.5 105.6,542.6 110.6,542.5 115.6,542.8 120.6,542.0 125.7,541.9 130.7,541.6 135.7,541.2 140.7,541.1 145.8,541.1 150.8,541.1 155.8,540.8 160.8,541.1 165.9,540.8 170.9,539.2 175.9,539.8 180.9,539.4 186.0,538.7 191.0,538.5 196.0,538.1 201.0,537.6 206.1,536.7 211.1,536.5 216.1,535.5 221.1,536.1 226.2,535.2 231.2,534.9 236.2,534.5 241.2,534.0 246.3,532.9 251.3,531.5 256.3,526.1 261.3,521.7 266.4,517.8 271.4,515.4 276.4,513.7 281.4,507.6 286.5,501.2 291.5,491.7 296.5,484.7 301.5,474.7 306.6,464.6 311.6,459.5 316.6,451.1 321.7,441.4 326.7,432.3 331.7,421.4 336.7,411.8 341.8,404.6 346.8,394.4 351.8,389.9 356.8,384.6 361.9,382.9 366.9,379.2 371.9,379.2 376.9,377.2 382.0,372.8 387.0,368.9 392.0,366.9 397.0,358.4 402.1,348.8 407.1,344.0 412.1,341.1 417.1,337.6 422.2,335.1 427.2,331.5 432.2,329.4 437.2,340.2 442.3,344.1 447.3,354.7 452.3,363.8 457.3,370.8 462.4,380.4 467.4,390.3 472.4,401.3 477.4,414.7 482.5,429.8 487.5,440.7 492.5,454.1 497.5,465.5 502.6,475.5 507.6,486.5 512.6,494.7 517.6,504.6 522.7,511.9 527.7,518.7 532.7,524.4 537.8,529.5 542.8,533.8 547.8,538.2 552.8,542.6 557.9,545.4 562.9,547.4 567.9,548.7 572.9,549.0 578.0,549.8 583.0,551.0 588.0,550.3 593.0,550.7 598.1,551.1 603.1,551.1 608.1,551.3 613.1,551.7 618.2,552.4 623.2,552.5 628.2,552.8 633.2,552.4 638.3,552.3 643.3,552.0 648.3,551.8 653.3,551.3 658.4,551.5 663.4,551.9 668.4,551.6 673.4,551.5 678.5,551.6 683.5,551.5 688.5,551.7 693.5,551.7 698.6,551.0 703.6,550.6 708.6,551.0 713.6,551.3 718.7,551.7 723.7,551.7 728.7,551.6 733.7,550.8 738.8,551.5 743.8,551.1" fill="none" stroke="#1a1a1a" stroke-width="1.3" stroke-linejoin="round"/>
<path d="M95.5,542.1 97.5,542.1 99.5,542.1 101.5,542.1 103.5,542.1 105.5,542.1 107.5,542.1 109.5,542.1 111.5,542.1 113.5,542.1 115.5,542.1 117.5,542.1 119.5,542.1 121.5,542.1 123.5,542.1 125.5,542.1 127.5,542.1 129.5,542.1 131.5,542.1 133.5,542.1 135.5,542.1 137.5,542.1 139.5,542.1 141.5,542.1 143.5,542.1 145.5,542.1 147.5,542.1 149.5,542.1 151.5,542.1 153.5,542.1 155.5,542.1 157.5,542.1 159.5,542.1 161.5,542.1 163.5,542.1 165.5,542.1 167.5,542.1 169.5,542.1 171.5,542.1 173.5,542.1 175.5,542.1 177.5,542.0 179.5,542.0 181.5,542.0 183.5,542.0 185.5,542.0 187.5,542.0 189.5,541.9 191.5,541.9 193.5,541.9 195.5,541.8 197.5,541.8 199.5,541.7 201.5,541.7 203.6,541.6 205.6,541.5 207.6,541.4 209.6,541.3 211.6,541.2 213.6,541.1 215.6,541.0 217.6,540.8 219.6,540.6 221.6,540.5 223.6,540.2 225.6,540.0 227.6,539.7 229.6,539.4 231.6,539.1 233.6,538.7 235.6,538.3 237.6,537.8 239.6,537.3 241.6,536.8 243.6,536.2 245.6,535.5 247.6,534.8 249.6,534.0 251.6,533.1 253.6,532.2 255.6,531.2 257.6,530.0 259.6,528.9 261.6,527.6 263.6,526.2 265.6,524.7 267.6,523.2 269.6,521.5 271.6,519.7 273.6,517.8 275.6,515.7 277.6,513.6 279.6,511.4 281.6,509.0 283.6,506.5 285.6,503.9 287.6,501.2 289.6,498.3 291.6,495.3 293.6,492.3 295.6,489.1 297.6,485.8 299.6,482.5 301.6,479.0 303.6,475.5 305.6,471.9 307.6,468.2 309.6,464.5 311.6,460.8 313.6,457.0 315.6,453.2 317.6,449.4 319.6,445.6 321.6,441.8 323.6,438.1 325.6,434.4 327.6,430.8 329.6,427.3 331.6,423.8 333.6,420.5 335.6,417.2 337.6,414.1 339.6,411.1 341.6,408.3 343.6,405.6 345.6,403.0 347.6,400.6 349.6,398.3 351.6,396.2 353.6,394.2 355.6,392.4 357.6,390.6 359.6,389.0 361.6,387.4 363.6,386.0 365.6,384.6 367.6,383.2 369.6,381.9 371.6,380.6 373.6,379.2 375.6,377.8 377.6,376.4 379.6,374.9 381.6,373.3 383.6,371.6 385.6,369.8 387.6,367.9 389.6,365.9 391.6,363.8 393.6,361.7 395.6,359.4 397.6,357.1 399.6,354.8 401.6,352.5 403.6,350.2 405.6,348.0 407.6,345.9 409.6,344.0 411.6,342.2 413.6,340.6 415.6,339.3 417.6,338.2 419.6,337.4 421.7,336.9 423.7,336.8 425.7,336.9 427.7,337.4 429.7,338.2 431.7,339.3 433.7,340.7 435.7,342.3 437.7,344.2 439.7,346.3 441.7,348.6 443.7,351.1 445.7,353.7 447.7,356.5 449.7,359.4 451.7,362.4 453.7,365.6 455.7,368.9 457.7,372.4 459.7,376.0 461.7,379.8 463.7,383.8 465.7,388.0 467.7,392.5 469.7,397.1 471.7,402.0 473.7,407.0 475.7,412.2 477.7,417.6 479.7,423.0 481.7,428.6 483.7,434.1 485.7,439.6 487.7,445.0 489.7,450.4 491.7,455.6 493.7,460.6 495.7,465.5 497.7,470.1 499.7,474.6 501.7,478.8 503.7,482.9 505.7,486.7 507.7,490.3 509.7,493.8 511.7,497.1 513.7,500.3 515.7,503.3 517.7,506.2 519.7,509.1 521.7,511.8 523.7,514.4 525.7,516.9 527.7,519.3 529.7,521.7 531.7,524.0 533.7,526.2 535.7,528.2 537.7,530.2 539.7,532.1 541.7,533.9 543.7,535.6 545.7,537.2 547.7,538.6 549.7,540.0 551.7,541.2 553.7,542.3 555.7,543.3 557.7,544.3 559.7,545.1 561.7,545.8 563.7,546.5 565.7,547.0 567.7,547.5 569.7,548.0 571.7,548.3 573.7,548.7 575.7,548.9 577.7,549.2 579.7,549.4 581.7,549.6 583.7,549.7 585.7,549.8 587.7,549.9 589.7,550.0 591.7,550.1 593.7,550.1 595.7,550.2 597.7,550.2 599.7,550.3 601.7,550.3 603.7,550.4 605.7,550.4 607.7,550.4 609.7,550.4 611.7,550.5 613.7,550.5 615.7,550.5 617.7,550.5 619.7,550.5 621.7,550.6 623.7,550.6 625.7,550.6 627.7,550.6 629.7,550.6 631.7,550.6 633.7,550.6 635.8,550.7 637.8,550.7 639.8,550.7 641.8,550.7 643.8,550.7 645.8,550.7 647.8,550.7 649.8,550.8 651.8,550.8 653.8,550.8 655.8,550.8 657.8,550.8 659.8,550.8 661.8,550.8 663.8,550.8 665.8,550.9 667.8,550.9 669.8,550.9 671.8,550.9 673.8,550.9 675.8,550.9 677.8,550.9 679.8,550.9 681.8,550.9 683.8,550.9 685.8,551.0 687.8,551.0 689.8,551.0 691.8,551.0 693.8,551.0 695.8,551.0 697.8,551.0 699.8,551.0 701.8,551.0 703.8,551.0 705.8,551.1 707.8,551.1 709.8,551.1 711.8,551.1 713.8,551.1 715.8,551.1 717.8,551.1 719.8,551.1 721.8,551.1 723.8,551.1 725.8,551.1 727.8,551.2 729.8,551.2 731.8,551.2 733.8,551.2 735.8,551.2 737.8,551.2 739.8,551.2 741.8,551.2 743.8,551.2" fill="none" stroke="#00ffff" stroke-width="5" stroke-linejoin="round"/>
<defs><linearGradient id="rg3" x1="0" y1="0" x2="0" y2="1"><stop offset="0" stop-color="#fa6c6c"/><stop offset="0.25" stop-color="#f9a4a4"/><stop offset="0.5" stop-color="#fcd2d2"/><stop offset="0.75" stop-color="#feeaea"/><stop offset="1" stop-color="#fffafa"/></linearGradient><linearGradient id="gg3" x1="0" y1="0" x2="0" y2="1"><stop offset="0" stop-color="#3ef73e"/><stop offset="0.25" stop-color="#80f580"/><stop offset="0.5" stop-color="#b6f8b6"/><stop offset="0.75" stop-color="#e0fce0"/><stop offset="1" stop-color="#ffffff"/></linearGradient></defs>
<path d="M95.5,792.3 97.5,792.3 99.5,792.3 101.5,792.3 103.5,792.3 105.5,792.3 107.5,792.3 109.5,792.3 111.5,792.3 113.5,792.4 115.5,792.4 117.5,792.4 119.5,792.4 121.5,792.4 123.5,792.4 125.5,792.4 127.5,792.4 129.5,792.4 131.5,792.4 133.5,792.4 135.5,792.4 137.5,792.4 139.5,792.4 141.5,792.4 143.5,792.4 145.5,792.4 147.5,792.5 149.5,792.5 151.5,792.5 153.5,792.5 155.5,792.5 157.5,792.5 159.5,792.5 161.5,792.5 163.5,792.5 165.5,792.5 167.5,792.5 169.5,792.5 171.5,792.5 173.5,792.5 175.5,792.5 177.5,792.5 179.5,792.6 181.5,792.6 183.5,792.6 185.5,792.6 187.5,792.6 189.5,792.6 191.5,792.6 193.5,792.6 195.5,792.6 197.5,792.6 199.5,792.6 201.5,792.5 203.6,792.3 205.6,792.2 207.6,792.0 209.6,791.8 211.6,791.8 213.6,791.8 215.6,791.7 217.6,791.7 219.6,791.7 221.6,791.7 223.6,791.7 225.6,791.7 227.6,791.7 229.6,791.7 231.6,791.7 233.6,791.6 235.6,791.6 237.6,791.6 239.6,791.6 241.6,791.6 243.6,791.6 245.6,791.6 247.6,791.5 249.6,791.5 251.6,791.5 253.6,791.5 255.6,791.5 257.6,791.5 259.6,791.5 261.6,791.4 263.6,791.4 265.6,791.4 267.6,791.4 269.6,791.4 271.6,791.3 273.6,791.3 275.6,791.3 277.6,791.3 279.6,791.2 281.6,791.2 283.6,791.2 285.6,791.2 287.6,791.1 289.6,791.1 291.6,791.0 293.6,791.0 295.6,791.0 297.6,790.9 299.6,790.8 301.6,790.8 303.6,790.7 305.6,790.6 307.6,790.5 309.6,790.4 311.6,790.3 313.6,790.1 315.6,789.9 317.6,789.7 319.6,789.5 321.6,789.2 323.6,788.9 325.6,788.6 327.6,788.2 329.6,787.8 331.6,787.2 333.6,786.7 335.6,786.0 337.6,785.3 339.6,784.5 341.6,783.5 343.6,782.5 345.6,781.4 347.6,780.1 349.6,778.7 351.6,777.1 353.6,775.4 355.6,773.5 357.6,771.4 359.6,769.2 361.6,766.7 363.6,764.1 365.6,761.3 367.6,758.2 369.6,754.9 371.6,751.5 373.6,747.8 375.6,743.9 377.6,739.8 379.6,735.5 381.6,731.0 383.6,726.3 385.6,721.5 387.6,716.5 389.6,711.4 391.6,706.2 393.6,700.9 395.6,695.6 397.6,690.3 399.6,684.9 401.6,679.6 403.6,674.4 405.6,669.3 407.6,664.4 409.6,659.6 411.6,655.1 413.6,650.9 415.6,647.0 417.6,643.5 419.6,640.4 421.7,637.7 423.7,635.5 425.7,633.7 427.7,632.5 429.7,631.8 431.7,631.7 433.7,632.1 435.7,633.0 437.7,634.5 439.7,636.5 441.7,638.9 443.7,641.9 445.7,645.2 447.7,649.0 449.7,653.1 451.7,657.5 453.7,662.2 455.7,667.1 457.7,672.2 459.7,677.5 461.7,682.9 463.7,688.3 465.7,693.8 467.7,699.3 469.7,704.7 471.7,710.1 473.7,715.5 475.7,720.7 477.7,725.7 479.7,730.7 481.7,735.4 483.7,740.0 485.7,744.4 487.7,748.6 489.7,752.5 491.7,756.3 493.7,759.8 495.7,763.2 497.7,766.3 499.7,769.2 501.7,771.9 503.7,774.4 505.7,776.7 507.7,778.8 509.7,780.8 511.7,782.6 513.7,784.2 515.7,785.7 517.7,787.0 519.7,788.2 521.7,789.3 523.7,790.3 525.7,791.2 527.7,792.0 529.7,792.7 531.7,793.4 533.7,794.4 535.7,795.3 537.7,796.1 539.7,796.8 541.7,797.5 543.7,798.0 545.7,798.5 547.7,798.9 549.7,799.3 551.7,799.6 553.7,799.8 555.7,800.0 557.7,800.2 559.7,800.2 561.7,800.3 563.7,800.3 565.7,800.3 567.7,800.3 569.7,800.3 571.7,800.3 573.7,800.3 575.7,800.3 577.7,800.3 579.7,800.3 581.7,800.3 583.7,800.3 585.7,800.3 587.7,800.3 589.7,800.3 591.7,800.4 593.7,800.4 595.7,800.4 597.7,800.4 599.7,800.4 601.7,800.4 603.7,800.4 605.7,800.4 607.7,800.4 609.7,800.4 611.7,800.4 613.7,800.4 615.7,800.4 617.7,800.4 619.7,800.4 621.7,800.4 623.7,800.5 625.7,800.5 627.7,800.5 629.7,800.5 631.7,800.5 633.7,800.5 635.8,800.5 637.8,800.5 639.8,800.5 641.8,800.5 643.8,800.5 645.8,800.5 647.8,800.5 649.8,800.5 651.8,800.5 653.8,800.5 655.8,800.5 657.8,800.6 659.8,800.6 661.8,800.6 663.8,800.6 665.8,800.6 667.8,800.6 669.8,800.6 671.8,800.6 673.8,800.6 675.8,800.6 677.8,800.6 679.8,800.6 681.8,800.6 683.8,800.6 685.8,800.6 687.8,800.6 689.8,800.6 691.8,800.7 693.8,800.7 695.8,800.7 697.8,800.7 699.8,800.7 701.8,800.7 703.8,800.7 705.8,800.7 707.8,800.7 709.8,800.7 711.8,800.7 713.8,800.7 715.8,800.7 717.8,800.7 719.8,800.7 721.8,800.7 723.8,800.7 725.8,800.7 727.8,800.8 729.8,800.8 731.8,800.8 733.8,800.8 735.8,800.8 737.8,800.8 739.8,800.8 741.8,800.8 743.8,800.8 743.8,800.8 741.8,800.8 739.8,800.8 737.8,800.8 735.8,800.8 733.8,800.8 731.8,800.8 729.8,800.8 727.8,800.8 725.8,800.7 723.8,800.7 721.8,800.7 719.8,800.7 717.8,800.7 715.8,800.7 713.8,800.7 711.8,800.7 709.8,800.7 707.8,800.7 705.8,800.7 703.8,800.7 701.8,800.7 699.8,800.7 697.8,800.7 695.8,800.7 693.8,800.7 691.8,800.7 689.8,800.6 687.8,800.6 685.8,800.6 683.8,800.6 681.8,800.6 679.8,800.6 677.8,800.6 675.8,800.6 673.8,800.6 671.8,800.6 669.8,800.6 667.8,800.6 665.8,800.6 663.8,800.6 661.8,800.6 659.8,800.6 657.8,800.6 655.8,800.5 653.8,800.5 651.8,800.5 649.8,800.5 647.8,800.5 645.8,800.5 643.8,800.5 641.8,800.5 639.8,800.5 637.8,800.5 635.8,800.5 633.7,800.5 631.7,800.5 629.7,800.5 627.7,800.5 625.7,800.5 623.7,800.5 621.7,800.4 619.7,800.4 617.7,800.4 615.7,800.4 613.7,800.4 611.7,800.4 609.7,800.4 607.7,800.4 605.7,800.4 603.7,800.4 601.7,800.4 599.7,800.4 597.7,800.4 595.7,800.4 593.7,800.4 591.7,800.4 589.7,800.3 587.7,800.3 585.7,800.3 583.7,800.3 581.7,800.3 579.7,800.3 577.7,800.3 575.7,800.3 573.7,800.3 571.7,800.3 569.7,800.3 567.7,800.3 565.7,800.3 563.7,800.3 561.7,800.3 559.7,800.2 557.7,800.2 555.7,800.2 553.7,800.2 551.7,800.2 549.7,800.2 547.7,800.2 545.7,800.2 543.7,800.2 541.7,800.2 539.7,800.2 537.7,800.2 535.7,800.2 533.7,800.1 531.7,800.1 529.7,800.1 527.7,800.1 525.7,800.1 523.7,800.1 521.7,800.1 519.7,800.1 517.7,800.1 515.7,800.1 513.7,800.0 511.7,800.0 509.7,800.0 507.7,800.0 505.7,800.0 503.7,800.0 501.7,800.0 499.7,799.9 497.7,799.9 495.7,799.9 493.7,799.9 491.7,799.9 489.7,799.8 487.7,799.8 485.7,799.8 483.7,799.7 481.7,799.7 479.7,799.7 477.7,799.6 475.7,799.6 473.7,799.6 471.7,799.5 469.7,799.5 467.7,799.4 465.7,799.4 463.7,799.3 461.7,799.3 459.7,799.2 457.7,799.1 455.7,799.1 453.7,799.0 451.7,798.9 449.7,798.9 447.7,798.8 445.7,798.7 443.7,798.7 441.7,798.6 439.7,798.5 437.7,798.4 435.7,798.3 433.7,798.3 431.7,798.2 429.7,798.1 427.7,798.0 425.7,797.9 423.7,797.8 421.7,797.7 419.6,797.6 417.6,797.6 415.6,797.5 413.6,797.4 411.6,797.3 409.6,797.2 407.6,797.1 405.6,797.0 403.6,796.9 401.6,796.8 399.6,796.8 397.6,796.7 395.6,796.6 393.6,796.5 391.6,796.4 389.6,796.3 387.6,796.3 385.6,796.2 383.6,796.1 381.6,796.0 379.6,795.9 377.6,795.8 375.6,795.8 373.6,795.7 371.6,795.6 369.6,795.5 367.6,795.4 365.6,795.4 363.6,795.3 361.6,795.2 359.6,795.1 357.6,795.1 355.6,795.0 353.6,794.9 351.6,794.8 349.6,794.8 347.6,794.7 345.6,794.6 343.6,794.5 341.6,794.5 339.6,794.4 337.6,794.3 335.6,794.3 333.6,794.2 331.6,794.1 329.6,794.1 327.6,794.0 325.6,794.0 323.6,793.9 321.6,793.9 319.6,793.8 317.6,793.8 315.6,793.7 313.6,793.7 311.6,793.6 309.6,793.6 307.6,793.5 305.6,793.5 303.6,793.4 301.6,793.4 299.6,793.4 297.6,793.3 295.6,793.3 293.6,793.3 291.6,793.2 289.6,793.2 287.6,793.2 285.6,793.1 283.6,793.1 281.6,793.1 279.6,793.1 277.6,793.0 275.6,793.0 273.6,793.0 271.6,793.0 269.6,793.0 267.6,793.0 265.6,792.9 263.6,792.9 261.6,792.9 259.6,792.9 257.6,792.9 255.6,792.9 253.6,792.9 251.6,792.8 249.6,792.8 247.6,792.8 245.6,792.8 243.6,792.8 241.6,792.8 239.6,792.8 237.6,792.8 235.6,792.8 233.6,792.7 231.6,792.7 229.6,792.7 227.6,792.7 225.6,792.7 223.6,792.7 221.6,792.7 219.6,792.7 217.6,792.7 215.6,792.7 213.6,792.7 211.6,792.7 209.6,792.7 207.6,792.6 205.6,792.6 203.6,792.6 201.5,792.6 199.5,792.6 197.5,792.6 195.5,792.6 193.5,792.6 191.5,792.6 189.5,792.6 187.5,792.6 185.5,792.6 183.5,792.6 181.5,792.6 179.5,792.6 177.5,792.5 175.5,792.5 173.5,792.5 171.5,792.5 169.5,792.5 167.5,792.5 165.5,792.5 163.5,792.5 161.5,792.5 159.5,792.5 157.5,792.5 155.5,792.5 153.5,792.5 151.5,792.5 149.5,792.5 147.5,792.5 145.5,792.4 143.5,792.4 141.5,792.4 139.5,792.4 137.5,792.4 135.5,792.4 133.5,792.4 131.5,792.4 129.5,792.4 127.5,792.4 125.5,792.4 123.5,792.4 121.5,792.4 119.5,792.4 117.5,792.4 115.5,792.4 113.5,792.4 111.5,792.3 109.5,792.3 107.5,792.3 105.5,792.3 103.5,792.3 101.5,792.3 99.5,792.3 97.5,792.3 95.5,792.3 Z" fill="url(#rg3)" stroke="none"/>
<path d="M95.5,792.3 97.5,792.3 99.5,792.3 101.5,792.3 103.5,792.3 105.5,792.3 107.5,792.3 109.5,792.3 111.5,792.3 113.5,792.4 115.5,792.4 117.5,792.4 119.5,792.4 121.5,792.4 123.5,792.4 125.5,792.4 127.5,792.4 129.5,792.4 131.5,792.4 133.5,792.4 135.5,792.4 137.5,792.4 139.5,792.4 141.5,792.4 143.5,792.4 145.5,792.4 147.5,792.5 149.5,792.5 151.5,792.5 153.5,792.5 155.5,792.5 157.5,792.5 159.5,792.5 161.5,792.5 163.5,792.5 165.5,792.5 167.5,792.5 169.5,792.5 171.5,792.5 173.5,792.5 175.5,792.5 177.5,792.5 179.5,792.6 181.5,792.6 183.5,792.6 185.5,792.6 187.5,792.6 189.5,792.6 191.5,792.6 193.5,792.6 195.5,792.6 197.5,792.6 199.5,792.6 201.5,792.5 203.6,792.3 205.6,792.2 207.6,792.0 209.6,791.8 211.6,791.8 213.6,791.8 215.6,791.7 217.6,791.7 219.6,791.7 221.6,791.7 223.6,791.7 225.6,791.7 227.6,791.7 229.6,791.7 231.6,791.7 233.6,791.6 235.6,791.6 237.6,791.6 239.6,791.6 241.6,791.6 243.6,791.6 245.6,791.6 247.6,791.5 249.6,791.5 251.6,791.5 253.6,791.5 255.6,791.5 257.6,791.5 259.6,791.5 261.6,791.4 263.6,791.4 265.6,791.4 267.6,791.4 269.6,791.4 271.6,791.3 273.6,791.3 275.6,791.3 277.6,791.3 279.6,791.2 281.6,791.2 283.6,791.2 285.6,791.2 287.6,791.1 289.6,791.1 291.6,791.0 293.6,791.0 295.6,791.0 297.6,790.9 299.6,790.8 301.6,790.8 303.6,790.7 305.6,790.6 307.6,790.5 309.6,790.4 311.6,790.3 313.6,790.1 315.6,789.9 317.6,789.7 319.6,789.5 321.6,789.2 323.6,788.9 325.6,788.6 327.6,788.2 329.6,787.8 331.6,787.2 333.6,786.7 335.6,786.0 337.6,785.3 339.6,784.5 341.6,783.5 343.6,782.5 345.6,781.4 347.6,780.1 349.6,778.7 351.6,777.1 353.6,775.4 355.6,773.5 357.6,771.4 359.6,769.2 361.6,766.7 363.6,764.1 365.6,761.3 367.6,758.2 369.6,754.9 371.6,751.5 373.6,747.8 375.6,743.9 377.6,739.8 379.6,735.5 381.6,731.0 383.6,726.3 385.6,721.5 387.6,716.5 389.6,711.4 391.6,706.2 393.6,700.9 395.6,695.6 397.6,690.3 399.6,684.9 401.6,679.6 403.6,674.4 405.6,669.3 407.6,664.4 409.6,659.6 411.6,655.1 413.6,650.9 415.6,647.0 417.6,643.5 419.6,640.4 421.7,637.7 423.7,635.5 425.7,633.7 427.7,632.5 429.7,631.8 431.7,631.7 433.7,632.1 435.7,633.0 437.7,634.5 439.7,636.5 441.7,638.9 443.7,641.9 445.7,645.2 447.7,649.0 449.7,653.1 451.7,657.5 453.7,662.2 455.7,667.1 457.7,672.2 459.7,677.5 461.7,682.9 463.7,688.3 465.7,693.8 467.7,699.3 469.7,704.7 471.7,710.1 473.7,715.5 475.7,720.7 477.7,725.7 479.7,730.7 481.7,735.4 483.7,740.0 485.7,744.4 487.7,748.6 489.7,752.5 491.7,756.3 493.7,759.8 495.7,763.2 497.7,766.3 499.7,769.2 501.7,771.9 503.7,774.4 505.7,776.7 507.7,778.8 509.7,780.8 511.7,782.6 513.7,784.2 515.7,785.7 517.7,787.0 519.7,788.2 521.7,789.3 523.7,790.3 525.7,791.2 527.7,792.0 529.7,792.7 531.7,793.4 533.7,794.4 535.7,795.3 537.7,796.1 539.7,796.8 541.7,797.5 543.7,798.0 545.7,798.5 547.7,798.9 549.7,799.3 551.7,799.6 553.7,799.8 555.7,800.0 557.7,800.2 559.7,800.2 561.7,800.3 563.7,800.3 565.7,800.3 567.7,800.3 569.7,800.3 571.7,800.3 573.7,800.3 575.7,800.3 577.7,800.3 579.7,800.3 581.7,800.3 583.7,800.3 585.7,800.3 587.7,800.3 589.7,800.3 591.7,800.4 593.7,800.4 595.7,800.4 597.7,800.4 599.7,800.4 601.7,800.4 603.7,800.4 605.7,800.4 607.7,800.4 609.7,800.4 611.7,800.4 613.7,800.4 615.7,800.4 617.7,800.4 619.7,800.4 621.7,800.4 623.7,800.5 625.7,800.5 627.7,800.5 629.7,800.5 631.7,800.5 633.7,800.5 635.8,800.5 637.8,800.5 639.8,800.5 641.8,800.5 643.8,800.5 645.8,800.5 647.8,800.5 649.8,800.5 651.8,800.5 653.8,800.5 655.8,800.5 657.8,800.6 659.8,800.6 661.8,800.6 663.8,800.6 665.8,800.6 667.8,800.6 669.8,800.6 671.8,800.6 673.8,800.6 675.8,800.6 677.8,800.6 679.8,800.6 681.8,800.6 683.8,800.6 685.8,800.6 687.8,800.6 689.8,800.6 691.8,800.7 693.8,800.7 695.8,800.7 697.8,800.7 699.8,800.7 701.8,800.7 703.8,800.7 705.8,800.7 707.8,800.7 709.8,800.7 711.8,800.7 713.8,800.7 715.8,800.7 717.8,800.7 719.8,800.7 721.8,800.7 723.8,800.7 725.8,800.7 727.8,800.8 729.8,800.8 731.8,800.8 733.8,800.8 735.8,800.8 737.8,800.8 739.8,800.8 741.8,800.8 743.8,800.8" fill="none" stroke="#ff3333" stroke-width="3.6" stroke-opacity="0.9" stroke-linejoin="round"/>
<path d="M95.5,792.3 97.5,792.3 99.5,792.3 101.5,792.3 103.5,792.3 105.5,792.3 107.5,792.3 109.5,792.3 111.5,792.3 113.5,792.4 115.5,792.4 117.5,792.4 119.5,792.4 121.5,792.4 123.5,792.4 125.5,792.4 127.5,792.4 129.5,792.4 131.5,792.4 133.5,792.4 135.5,792.4 137.5,792.4 139.5,792.4 141.5,792.4 143.5,792.4 145.5,792.4 147.5,792.5 149.5,792.5 151.5,792.5 153.5,792.5 155.5,792.5 157.5,792.5 159.5,792.5 161.5,792.5 163.5,792.5 165.5,792.5 167.5,792.5 169.5,792.5 171.5,792.5 173.5,792.5 175.5,792.5 177.5,792.5 179.5,792.6 181.5,792.6 183.5,792.6 185.5,792.6 187.5,792.6 189.5,792.6 191.5,792.6 193.5,792.6 195.5,792.6 197.5,792.6 199.5,792.6 201.5,792.5 203.6,792.3 205.6,792.2 207.6,792.0 209.6,791.8 211.6,791.6 213.6,791.4 215.6,791.1 217.6,790.8 219.6,790.5 221.6,790.1 223.6,789.7 225.6,789.3 227.6,788.8 229.6,788.3 231.6,787.7 233.6,787.1 235.6,786.5 237.6,785.7 239.6,784.9 241.6,784.1 243.6,783.1 245.6,782.1 247.6,781.1 249.6,779.9 251.6,778.6 253.6,777.3 255.6,775.8 257.6,774.3 259.6,772.6 261.6,770.9 263.6,769.0 265.6,767.0 267.6,764.9 269.6,762.7 271.6,760.3 273.6,757.8 275.6,755.2 277.6,752.4 279.6,749.5 281.6,746.5 283.6,743.4 285.6,740.1 287.6,736.7 289.6,733.2 291.6,729.6 293.6,725.8 295.6,721.9 297.6,718.0 299.6,713.9 301.6,709.8 303.6,705.6 305.6,701.3 307.6,697.0 309.6,692.7 311.6,688.3 313.6,684.2 315.6,680.1 317.6,676.0 319.6,672.1 321.6,668.2 323.6,664.4 325.6,660.7 327.6,657.1 329.6,653.7 331.6,650.5 333.6,647.5 335.6,644.7 337.6,642.1 339.6,639.8 341.6,637.7 343.6,635.9 345.6,634.4 347.6,633.2 349.6,632.3 351.6,631.7 353.6,631.5 355.6,631.5 357.6,631.9 359.6,632.7 361.6,633.7 363.6,635.0 365.6,636.7 367.6,638.6 369.6,640.9 371.6,643.3 373.6,646.1 375.6,649.0 377.6,652.2 379.6,655.5 381.6,659.1 383.6,662.8 385.6,666.6 387.6,670.5 389.6,674.5 391.6,678.7 393.6,682.8 395.6,687.0 397.6,691.3 399.6,695.5 401.6,699.8 403.6,704.0 405.6,708.2 407.6,712.3 409.6,716.4 411.6,720.5 413.6,724.4 415.6,728.3 417.6,732.0 419.6,735.7 421.7,739.2 423.7,742.6 425.7,746.0 427.7,749.1 429.7,752.2 431.7,755.1 433.7,758.0 435.7,760.6 437.7,763.2 439.7,765.6 441.7,767.9 443.7,770.1 445.7,772.1 447.7,774.1 449.7,775.9 451.7,777.6 453.7,779.2 455.7,780.7 457.7,782.1 459.7,783.4 461.7,784.6 463.7,785.7 465.7,786.8 467.7,787.7 469.7,788.6 471.7,789.4 473.7,790.2 475.7,790.9 477.7,791.5 479.7,792.1 481.7,792.7 483.7,793.2 485.7,793.6 487.7,794.0 489.7,794.4 491.7,794.8 493.7,795.1 495.7,795.4 497.7,795.6 499.7,795.9 501.7,796.1 503.7,796.3 505.7,796.5 507.7,796.7 509.7,796.8 511.7,797.0 513.7,797.1 515.7,797.2 517.7,797.3 519.7,797.4 521.7,797.5 523.7,797.6 525.7,797.7 527.7,797.8 529.7,797.9 531.7,797.9 533.7,798.0 535.7,798.1 537.7,798.1 539.7,798.2 541.7,798.2 543.7,798.3 545.7,798.5 547.7,798.9 549.7,799.3 551.7,799.6 553.7,799.8 555.7,800.0 557.7,800.2 559.7,800.2 561.7,800.3 563.7,800.3 565.7,800.3 567.7,800.3 569.7,800.3 571.7,800.3 573.7,800.3 575.7,800.3 577.7,800.3 579.7,800.3 581.7,800.3 583.7,800.3 585.7,800.3 587.7,800.3 589.7,800.3 591.7,800.4 593.7,800.4 595.7,800.4 597.7,800.4 599.7,800.4 601.7,800.4 603.7,800.4 605.7,800.4 607.7,800.4 609.7,800.4 611.7,800.4 613.7,800.4 615.7,800.4 617.7,800.4 619.7,800.4 621.7,800.4 623.7,800.5 625.7,800.5 627.7,800.5 629.7,800.5 631.7,800.5 633.7,800.5 635.8,800.5 637.8,800.5 639.8,800.5 641.8,800.5 643.8,800.5 645.8,800.5 647.8,800.5 649.8,800.5 651.8,800.5 653.8,800.5 655.8,800.5 657.8,800.6 659.8,800.6 661.8,800.6 663.8,800.6 665.8,800.6 667.8,800.6 669.8,800.6 671.8,800.6 673.8,800.6 675.8,800.6 677.8,800.6 679.8,800.6 681.8,800.6 683.8,800.6 685.8,800.6 687.8,800.6 689.8,800.6 691.8,800.7 693.8,800.7 695.8,800.7 697.8,800.7 699.8,800.7 701.8,800.7 703.8,800.7 705.8,800.7 707.8,800.7 709.8,800.7 711.8,800.7 713.8,800.7 715.8,800.7 717.8,800.7 719.8,800.7 721.8,800.7 723.8,800.7 725.8,800.7 727.8,800.8 729.8,800.8 731.8,800.8 733.8,800.8 735.8,800.8 737.8,800.8 739.8,800.8 741.8,800.8 743.8,800.8 743.8,800.8 741.8,800.8 739.8,800.8 737.8,800.8 735.8,800.8 733.8,800.8 731.8,800.8 729.8,800.8 727.8,800.8 725.8,800.7 723.8,800.7 721.8,800.7 719.8,800.7 717.8,800.7 715.8,800.7 713.8,800.7 711.8,800.7 709.8,800.7 707.8,800.7 705.8,800.7 703.8,800.7 701.8,800.7 699.8,800.7 697.8,800.7 695.8,800.7 693.8,800.7 691.8,800.7 689.8,800.6 687.8,800.6 685.8,800.6 683.8,800.6 681.8,800.6 679.8,800.6 677.8,800.6 675.8,800.6 673.8,800.6 671.8,800.6 669.8,800.6 667.8,800.6 665.8,800.6 663.8,800.6 661.8,800.6 659.8,800.6 657.8,800.6 655.8,800.5 653.8,800.5 651.8,800.5 649.8,800.5 647.8,800.5 645.8,800.5 643.8,800.5 641.8,800.5 639.8,800.5 637.8,800.5 635.8,800.5 633.7,800.5 631.7,800.5 629.7,800.5 627.7,800.5 625.7,800.5 623.7,800.5 621.7,800.4 619.7,800.4 617.7,800.4 615.7,800.4 613.7,800.4 611.7,800.4 609.7,800.4 607.7,800.4 605.7,800.4 603.7,800.4 601.7,800.4 599.7,800.4 597.7,800.4 595.7,800.4 593.7,800.4 591.7,800.4 589.7,800.3 587.7,800.3 585.7,800.3 583.7,800.3 581.7,800.3 579.7,800.3 577.7,800.3 575.7,800.3 573.7,800.3 571.7,800.3 569.7,800.3 567.7,800.3 565.7,800.3 563.7,800.3 561.7,800.3 559.7,800.2 557.7,800.2 555.7,800.2 553.7,800.2 551.7,800.2 549.7,800.2 547.7,800.2 545.7,800.2 543.7,800.2 541.7,800.2 539.7,800.2 537.7,800.2 535.7,800.2 533.7,800.1 531.7,800.1 529.7,800.1 527.7,800.1 525.7,800.1 523.7,800.1 521.7,800.1 519.7,800.1 517.7,800.1 515.7,800.1 513.7,800.0 511.7,800.0 509.7,800.0 507.7,800.0 505.7,800.0 503.7,800.0 501.7,800.0 499.7,799.9 497.7,799.9 495.7,799.9 493.7,799.9 491.7,799.9 489.7,799.8 487.7,799.8 485.7,799.8 483.7,799.7 481.7,799.7 479.7,799.7 477.7,799.6 475.7,799.6 473.7,799.6 471.7,799.5 469.7,799.5 467.7,799.4 465.7,799.4 463.7,799.3 461.7,799.3 459.7,799.2 457.7,799.1 455.7,799.1 453.7,799.0 451.7,798.9 449.7,798.9 447.7,798.8 445.7,798.7 443.7,798.7 441.7,798.6 439.7,798.5 437.7,798.4 435.7,798.3 433.7,798.3 431.7,798.2 429.7,798.1 427.7,798.0 425.7,797.9 423.7,797.8 421.7,797.7 419.6,797.6 417.6,797.6 415.6,797.5 413.6,797.4 411.6,797.3 409.6,797.2 407.6,797.1 405.6,797.0 403.6,796.9 401.6,796.8 399.6,796.8 397.6,796.7 395.6,796.6 393.6,796.5 391.6,796.4 389.6,796.3 387.6,796.3 385.6,796.2 383.6,796.1 381.6,796.0 379.6,795.9 377.6,795.8 375.6,795.8 373.6,795.7 371.6,795.6 369.6,795.5 367.6,795.4 365.6,795.4 363.6,795.3 361.6,795.2 359.6,795.1 357.6,795.1 355.6,795.0 353.6,794.9 351.6,794.8 349.6,794.8 347.6,794.7 345.6,794.6 343.6,794.5 341.6,794.5 339.6,794.4 337.6,794.3 335.6,794.3 333.6,794.2 331.6,794.1 329.6,794.1 327.6,794.0 325.6,794.0 323.6,793.9 321.6,793.9 319.6,793.8 317.6,793.8 315.6,793.7 313.6,793.7 311.6,793.6 309.6,793.6 307.6,793.5 305.6,793.5 303.6,793.4 301.6,793.4 299.6,793.4 297.6,793.3 295.6,793.3 293.6,793.3 291.6,793.2 289.6,793.2 287.6,793.2 285.6,793.1 283.6,793.1 281.6,793.1 279.6,793.1 277.6,793.0 275.6,793.0 273.6,793.0 271.6,793.0 269.6,793.0 267.6,793.0 265.6,792.9 263.6,792.9 261.6,792.9 259.6,792.9 257.6,792.9 255.6,792.9 253.6,792.9 251.6,792.8 249.6,792.8 247.6,792.8 245.6,792.8 243.6,792.8 241.6,792.8 239.6,792.8 237.6,792.8 235.6,792.8 233.6,792.7 231.6,792.7 229.6,792.7 227.6,792.7 225.6,792.7 223.6,792.7 221.6,792.7 219.6,792.7 217.6,792.7 215.6,792.7 213.6,792.7 211.6,792.7 209.6,792.7 207.6,792.6 205.6,792.6 203.6,792.6 201.5,792.6 199.5,792.6 197.5,792.6 195.5,792.6 193.5,792.6 191.5,792.6 189.5,792.6 187.5,792.6 185.5,792.6 183.5,792.6 181.5,792.6 179.5,792.6 177.5,792.5 175.5,792.5 173.5,792.5 171.5,792.5 169.5,792.5 167.5,792.5 165.5,792.5 163.5,792.5 161.5,792.5 159.5,792.5 157.5,792.5 155.5,792.5 153.5,792.5 151.5,792.5 149.5,792.5 147.5,792.5 145.5,792.4 143.5,792.4 141.5,792.4 139.5,792.4 137.5,792.4 135.5,792.4 133.5,792.4 131.5,792.4 129.5,792.4 127.5,792.4 125.5,792.4 123.5,792.4 121.5,792.4 119.5,792.4 117.5,792.4 115.5,792.4 113.5,792.4 111.5,792.3 109.5,792.3 107.5,792.3 105.5,792.3 103.5,792.3 101.5,792.3 99.5,792.3 97.5,792.3 95.5,792.3 Z" fill="url(#gg3)" fill-opacity="0.68" stroke="none"/>
<path d="M95.5,792.3 97.5,792.3 99.5,792.3 101.5,792.3 103.5,792.3 105.5,792.3 107.5,792.3 109.5,792.3 111.5,792.3 113.5,792.4 115.5,792.4 117.5,792.4 119.5,792.4 121.5,792.4 123.5,792.4 125.5,792.4 127.5,792.4 129.5,792.4 131.5,792.4 133.5,792.4 135.5,792.4 137.5,792.4 139.5,792.4 141.5,792.4 143.5,792.4 145.5,792.4 147.5,792.5 149.5,792.5 151.5,792.5 153.5,792.5 155.5,792.5 157.5,792.5 159.5,792.5 161.5,792.5 163.5,792.5 165.5,792.5 167.5,792.5 169.5,792.5 171.5,792.5 173.5,792.5 175.5,792.5 177.5,792.5 179.5,792.6 181.5,792.6 183.5,792.6 185.5,792.6 187.5,792.6 189.5,792.6 191.5,792.6 193.5,792.6 195.5,792.6 197.5,792.6 199.5,792.6 201.5,792.5 203.6,792.3 205.6,792.2 207.6,792.0 209.6,791.8 211.6,791.6 213.6,791.4 215.6,791.1 217.6,790.8 219.6,790.5 221.6,790.1 223.6,789.7 225.6,789.3 227.6,788.8 229.6,788.3 231.6,787.7 233.6,787.1 235.6,786.5 237.6,785.7 239.6,784.9 241.6,784.1 243.6,783.1 245.6,782.1 247.6,781.1 249.6,779.9 251.6,778.6 253.6,777.3 255.6,775.8 257.6,774.3 259.6,772.6 261.6,770.9 263.6,769.0 265.6,767.0 267.6,764.9 269.6,762.7 271.6,760.3 273.6,757.8 275.6,755.2 277.6,752.4 279.6,749.5 281.6,746.5 283.6,743.4 285.6,740.1 287.6,736.7 289.6,733.2 291.6,729.6 293.6,725.8 295.6,721.9 297.6,718.0 299.6,713.9 301.6,709.8 303.6,705.6 305.6,701.3 307.6,697.0 309.6,692.7 311.6,688.3 313.6,684.2 315.6,680.1 317.6,676.0 319.6,672.1 321.6,668.2 323.6,664.4 325.6,660.7 327.6,657.1 329.6,653.7 331.6,650.5 333.6,647.5 335.6,644.7 337.6,642.1 339.6,639.8 341.6,637.7 343.6,635.9 345.6,634.4 347.6,633.2 349.6,632.3 351.6,631.7 353.6,631.5 355.6,631.5 357.6,631.9 359.6,632.7 361.6,633.7 363.6,635.0 365.6,636.7 367.6,638.6 369.6,640.9 371.6,643.3 373.6,646.1 375.6,649.0 377.6,652.2 379.6,655.5 381.6,659.1 383.6,662.8 385.6,666.6 387.6,670.5 389.6,674.5 391.6,678.7 393.6,682.8 395.6,687.0 397.6,691.3 399.6,695.5 401.6,699.8 403.6,704.0 405.6,708.2 407.6,712.3 409.6,716.4 411.6,720.5 413.6,724.4 415.6,728.3 417.6,732.0 419.6,735.7 421.7,739.2 423.7,742.6 425.7,746.0 427.7,749.1 429.7,752.2 431.7,755.1 433.7,758.0 435.7,760.6 437.7,763.2 439.7,765.6 441.7,767.9 443.7,770.1 445.7,772.1 447.7,774.1 449.7,775.9 451.7,777.6 453.7,779.2 455.7,780.7 457.7,782.1 459.7,783.4 461.7,784.6 463.7,785.7 465.7,786.8 467.7,787.7 469.7,788.6 471.7,789.4 473.7,790.2 475.7,790.9 477.7,791.5 479.7,792.1 481.7,792.7 483.7,793.2 485.7,793.6 487.7,794.0 489.7,794.4 491.7,794.8 493.7,795.1 495.7,795.4 497.7,795.6 499.7,795.9 501.7,796.1 503.7,796.3 505.7,796.5 507.7,796.7 509.7,796.8 511.7,797.0 513.7,797.1 515.7,797.2 517.7,797.3 519.7,797.4 521.7,797.5 523.7,797.6 525.7,797.7 527.7,797.8 529.7,797.9 531.7,797.9 533.7,798.0 535.7,798.1 537.7,798.1 539.7,798.2 541.7,798.2 543.7,798.3 545.7,798.5 547.7,798.9 549.7,799.3 551.7,799.6 553.7,799.8 555.7,800.0 557.7,800.2 559.7,800.2 561.7,800.3 563.7,800.3 565.7,800.3 567.7,800.3 569.7,800.3 571.7,800.3 573.7,800.3 575.7,800.3 577.7,800.3 579.7,800.3 581.7,800.3 583.7,800.3 585.7,800.3 587.7,800.3 589.7,800.3 591.7,800.4 593.7,800.4 595.7,800.4 597.7,800.4 599.7,800.4 601.7,800.4 603.7,800.4 605.7,800.4 607.7,800.4 609.7,800.4 611.7,800.4 613.7,800.4 615.7,800.4 617.7,800.4 619.7,800.4 621.7,800.4 623.7,800.5 625.7,800.5 627.7,800.5 629.7,800.5 631.7,800.5 633.7,800.5 635.8,800.5 637.8,800.5 639.8,800.5 641.8,800.5 643.8,800.5 645.8,800.5 647.8,800.5 649.8,800.5 651.8,800.5 653.8,800.5 655.8,800.5 657.8,800.6 659.8,800.6 661.8,800.6 663.8,800.6 665.8,800.6 667.8,800.6 669.8,800.6 671.8,800.6 673.8,800.6 675.8,800.6 677.8,800.6 679.8,800.6 681.8,800.6 683.8,800.6 685.8,800.6 687.8,800.6 689.8,800.6 691.8,800.7 693.8,800.7 695.8,800.7 697.8,800.7 699.8,800.7 701.8,800.7 703.8,800.7 705.8,800.7 707.8,800.7 709.8,800.7 711.8,800.7 713.8,800.7 715.8,800.7 717.8,800.7 719.8,800.7 721.8,800.7 723.8,800.7 725.8,800.7 727.8,800.8 729.8,800.8 731.8,800.8 733.8,800.8 735.8,800.8 737.8,800.8 739.8,800.8 741.8,800.8 743.8,800.8" fill="none" stroke="#33f533" stroke-width="3.8" stroke-opacity="0.9" stroke-linejoin="round"/>
<line x1="95.50" y1="794.80" x2="743.80" y2="798.80" stroke="#5ec93a" stroke-width="2.6"/>
<path d="M95.5,792.3 97.5,792.3 99.5,792.3 101.5,792.3 103.5,792.3 105.5,792.3 107.5,792.3 109.5,792.3 111.5,792.3 113.5,792.4 115.5,792.4 117.5,792.4 119.5,792.4 121.5,792.4 123.5,792.4 125.5,792.4 127.5,792.4 129.5,792.4 131.5,792.4 133.5,792.4 135.5,792.4 137.5,792.4 139.5,792.4 141.5,792.4 143.5,792.4 145.5,792.4 147.5,792.5 149.5,792.5 151.5,792.5 153.5,792.5 155.5,792.5 157.5,792.5 159.5,792.5 161.5,792.5 163.5,792.5 165.5,792.5 167.5,792.5 169.5,792.5 171.5,792.5 173.5,792.5 175.5,792.5 177.5,792.5 179.5,792.6 181.5,792.6 183.5,792.6 185.5,792.6 187.5,792.6 189.5,792.6 191.5,792.6 193.5,792.6 195.5,792.6 197.5,792.6 199.5,792.6 201.5,792.6 203.6,792.6 205.6,792.6 207.6,792.6 209.6,792.7 211.6,792.7 213.6,792.7 215.6,792.7 217.6,792.7 219.6,792.7 221.6,792.7 223.6,792.7 225.6,792.7 227.6,792.7 229.6,792.7 231.6,792.7 233.6,792.7 235.6,792.8 237.6,792.8 239.6,792.8 241.6,792.8 243.6,792.8 245.6,792.8 247.6,792.8 249.6,792.8 251.6,792.8 253.6,792.9 255.6,792.9 257.6,792.9 259.6,792.9 261.6,792.9 263.6,792.9 265.6,792.9 267.6,793.0 269.6,793.0 271.6,793.0 273.6,793.0 275.6,793.0 277.6,793.0 279.6,793.1 281.6,793.1 283.6,793.1 285.6,793.1 287.6,793.2 289.6,793.2 291.6,793.2 293.6,793.3 295.6,793.3 297.6,793.3 299.6,793.4 301.6,793.4 303.6,793.4 305.6,793.5 307.6,793.5 309.6,793.6 311.6,793.6 313.6,793.7 315.6,793.7 317.6,793.8 319.6,793.8 321.6,793.9 323.6,793.9 325.6,794.0 327.6,794.0 329.6,794.1 331.6,794.1 333.6,794.2 335.6,794.3 337.6,794.3 339.6,794.4 341.6,794.5 343.6,794.5 345.6,794.6 347.6,794.7 349.6,794.8 351.6,794.8 353.6,794.9 355.6,795.0 357.6,795.1 359.6,795.1 361.6,795.2 363.6,795.3 365.6,795.4 367.6,795.4 369.6,795.5 371.6,795.6 373.6,795.7 375.6,795.8 377.6,795.8 379.6,795.9 381.6,796.0 383.6,796.1 385.6,796.2 387.6,796.3 389.6,796.3 391.6,796.4 393.6,796.5 395.6,796.6 397.6,796.7 399.6,796.8 401.6,796.8 403.6,796.9 405.6,797.0 407.6,797.1 409.6,797.2 411.6,797.3 413.6,797.4 415.6,797.5 417.6,797.6 419.6,797.6 421.7,797.7 423.7,797.8 425.7,797.9 427.7,798.0 429.7,798.1 431.7,798.2 433.7,798.3 435.7,798.3 437.7,798.4 439.7,798.5 441.7,798.6 443.7,798.7 445.7,798.7 447.7,798.8 449.7,798.9 451.7,798.9 453.7,799.0 455.7,799.1 457.7,799.1 459.7,799.2 461.7,799.3 463.7,799.3 465.7,799.4 467.7,799.4 469.7,799.5 471.7,799.5 473.7,799.6 475.7,799.6 477.7,799.6 479.7,799.7 481.7,799.7 483.7,799.7 485.7,799.8 487.7,799.8 489.7,799.8 491.7,799.9 493.7,799.9 495.7,799.9 497.7,799.9 499.7,799.9 501.7,800.0 503.7,800.0 505.7,800.0 507.7,800.0 509.7,800.0 511.7,800.0 513.7,800.0 515.7,800.1 517.7,800.1 519.7,800.1 521.7,800.1 523.7,800.1 525.7,800.1 527.7,800.1 529.7,800.1 531.7,800.1 533.7,800.1 535.7,800.2 537.7,800.2 539.7,800.2 541.7,800.2 543.7,800.2 545.7,800.2 547.7,800.2 549.7,800.2 551.7,800.2 553.7,800.2 555.7,800.2 557.7,800.2 559.7,800.2 561.7,800.3 563.7,800.3 565.7,800.3 567.7,800.3 569.7,800.3 571.7,800.3 573.7,800.3 575.7,800.3 577.7,800.3 579.7,800.3 581.7,800.3 583.7,800.3 585.7,800.3 587.7,800.3 589.7,800.3 591.7,800.4 593.7,800.4 595.7,800.4 597.7,800.4 599.7,800.4 601.7,800.4 603.7,800.4 605.7,800.4 607.7,800.4 609.7,800.4 611.7,800.4 613.7,800.4 615.7,800.4 617.7,800.4 619.7,800.4 621.7,800.4 623.7,800.5 625.7,800.5 627.7,800.5 629.7,800.5 631.7,800.5 633.7,800.5 635.8,800.5 637.8,800.5 639.8,800.5 641.8,800.5 643.8,800.5 645.8,800.5 647.8,800.5 649.8,800.5 651.8,800.5 653.8,800.5 655.8,800.5 657.8,800.6 659.8,800.6 661.8,800.6 663.8,800.6 665.8,800.6 667.8,800.6 669.8,800.6 671.8,800.6 673.8,800.6 675.8,800.6 677.8,800.6 679.8,800.6 681.8,800.6 683.8,800.6 685.8,800.6 687.8,800.6 689.8,800.6 691.8,800.7 693.8,800.7 695.8,800.7 697.8,800.7 699.8,800.7 701.8,800.7 703.8,800.7 705.8,800.7 707.8,800.7 709.8,800.7 711.8,800.7 713.8,800.7 715.8,800.7 717.8,800.7 719.8,800.7 721.8,800.7 723.8,800.7 725.8,800.7 727.8,800.8 729.8,800.8 731.8,800.8 733.8,800.8 735.8,800.8 737.8,800.8 739.8,800.8 741.8,800.8 743.8,800.8" fill="none" stroke="#1515b0" stroke-width="1.3"/>
<path d="M95.5,792.0 100.5,792.6 105.6,792.0 110.6,792.4 115.6,792.2 120.6,792.1 125.7,792.9 130.7,792.7 135.7,792.5 140.7,792.7 145.8,793.0 150.8,792.7 155.8,792.7 160.8,792.0 165.9,791.8 170.9,791.4 175.9,790.7 180.9,790.0 186.0,789.2 191.0,789.0 196.0,788.7 201.0,788.2 206.1,787.6 211.1,786.2 216.1,785.5 221.1,784.7 226.2,784.0 231.2,782.2 236.2,780.6 241.2,777.8 246.3,775.7 251.3,772.0 256.3,768.4 261.3,766.1 266.4,760.0 271.4,756.0 276.4,750.5 281.4,743.3 286.5,736.1 291.5,728.2 296.5,719.9 301.5,709.1 306.6,697.5 311.6,685.8 316.6,673.7 321.7,663.3 326.7,652.1 331.7,643.9 336.7,631.0 341.8,619.5 346.8,611.3 351.8,605.7 356.8,606.2 361.9,599.6 366.9,596.7 371.9,593.8 376.9,594.1 382.0,589.2 387.0,589.8 392.0,589.5 397.0,590.2 402.1,585.9 407.1,581.7 412.1,577.1 417.1,574.4 422.2,575.8 427.2,584.0 432.2,585.8 437.2,595.3 442.3,605.7 447.3,616.1 452.3,629.8 457.3,643.8 462.4,661.7 467.4,677.7 472.4,693.0 477.4,707.8 482.5,721.6 487.5,733.9 492.5,743.6 497.5,754.6 502.6,760.0 507.6,764.5 512.6,772.2 517.6,779.0 522.7,784.6 527.7,788.6 532.7,791.7 537.8,794.2 542.8,796.4 547.8,797.3 552.8,797.9 557.9,799.4 562.9,799.8 567.9,799.4 572.9,800.5 578.0,800.7 583.0,800.2 588.0,799.6 593.0,799.8 598.1,799.5 603.1,799.1 608.1,798.8 613.1,798.9 618.2,799.7 623.2,799.6 628.2,799.1 633.2,799.6 638.3,799.8 643.3,800.3 648.3,800.8 653.3,800.6 658.4,800.4 663.4,800.4 668.4,799.9 673.4,800.3 678.5,800.9 683.5,800.8 688.5,800.6 693.5,800.5 698.6,800.2 703.6,799.9 708.6,799.9 713.6,799.7 718.7,799.7 723.7,799.3 728.7,799.8 733.7,800.0 738.8,799.7 743.8,799.0" fill="none" stroke="#1a1a1a" stroke-width="1.3" stroke-linejoin="round"/>
<path d="M95.5,792.0 97.5,792.0 99.5,792.0 101.5,792.0 103.5,792.0 105.5,792.0 107.5,792.0 109.5,792.0 111.5,792.0 113.5,792.0 115.5,792.0 117.5,792.0 119.5,792.0 121.5,792.0 123.5,792.0 125.5,792.0 127.5,792.0 129.5,792.0 131.5,792.0 133.5,792.0 135.5,792.0 137.5,792.0 139.5,792.0 141.5,792.0 143.5,792.0 145.5,792.0 147.5,792.0 149.5,792.0 151.5,792.0 153.5,792.0 155.5,792.0 157.5,791.9 159.5,791.9 161.5,791.9 163.5,791.9 165.5,791.9 167.5,791.9 169.5,791.9 171.5,791.8 173.5,791.8 175.5,791.8 177.5,791.8 179.5,791.7 181.5,791.7 183.5,791.6 185.5,791.6 187.5,791.5 189.5,791.5 191.5,791.4 193.5,791.3 195.5,791.2 197.5,791.1 199.5,791.0 201.5,790.9 203.6,790.7 205.6,790.6 207.6,790.4 209.6,790.2 211.6,790.0 213.6,789.8 215.6,789.5 217.6,789.2 219.6,788.9 221.6,788.5 223.6,788.1 225.6,787.7 227.6,787.2 229.6,786.7 231.6,786.1 233.6,785.5 235.6,784.9 237.6,784.1 239.6,783.3 241.6,782.5 243.6,781.5 245.6,780.5 247.6,779.5 249.6,778.3 251.6,777.0 253.6,775.7 255.6,774.2 257.6,772.7 259.6,771.0 261.6,769.3 263.6,767.4 265.6,765.4 267.6,763.3 269.6,761.1 271.6,758.7 273.6,756.2 275.6,753.6 277.6,750.8 279.6,747.9 281.6,744.9 283.6,741.8 285.6,738.5 287.6,735.1 289.6,731.6 291.6,728.0 293.6,724.2 295.6,720.3 297.6,716.4 299.6,712.3 301.6,708.2 303.6,704.0 305.6,699.7 307.6,695.4 309.6,691.1 311.6,686.7 313.6,682.3 315.6,677.9 317.6,673.5 319.6,669.2 321.6,664.9 323.6,660.7 325.6,656.5 327.6,652.4 329.6,648.5 331.6,644.6 333.6,640.9 335.6,637.3 337.6,633.8 339.6,630.5 341.6,627.3 343.6,624.3 345.6,621.4 347.6,618.7 349.6,616.2 351.6,613.8 353.6,611.6 355.6,609.6 357.6,607.6 359.6,605.9 361.6,604.2 363.6,602.7 365.6,601.2 367.6,599.9 369.6,598.6 371.6,597.4 373.6,596.3 375.6,595.2 377.6,594.2 379.6,593.2 381.6,592.2 383.6,591.2 385.6,590.2 387.6,589.2 389.6,588.2 391.6,587.3 393.6,586.3 395.6,585.3 397.6,584.3 399.6,583.4 401.6,582.5 403.6,581.7 405.6,580.9 407.6,580.2 409.6,579.6 411.6,579.1 413.6,578.8 415.6,578.7 417.6,578.8 419.6,579.1 421.7,579.6 423.7,580.4 425.7,581.5 427.7,583.0 429.7,584.7 431.7,586.8 433.7,589.3 435.7,592.1 437.7,595.2 439.7,598.8 441.7,602.7 443.7,606.9 445.7,611.5 447.7,616.4 449.7,621.5 451.7,627.0 453.7,632.7 455.7,638.6 457.7,644.7 459.7,651.0 461.7,657.3 463.7,663.7 465.7,670.2 467.7,676.7 469.7,683.1 471.7,689.5 473.7,695.8 475.7,701.9 477.7,707.9 479.7,713.8 481.7,719.4 483.7,724.8 485.7,729.9 487.7,734.8 489.7,739.5 491.7,743.9 493.7,748.1 495.7,752.0 497.7,755.6 499.7,759.1 501.7,762.3 503.7,765.3 505.7,768.1 507.7,770.7 509.7,773.2 511.7,775.5 513.7,777.7 515.7,779.8 517.7,781.7 519.7,783.5 521.7,785.2 523.7,786.7 525.7,788.2 527.7,789.5 529.7,790.7 531.7,791.8 533.7,792.8 535.7,793.7 537.7,794.5 539.7,795.2 541.7,795.9 543.7,796.4 545.7,796.9 547.7,797.3 549.7,797.7 551.7,798.0 553.7,798.2 555.7,798.4 557.7,798.6 559.7,798.8 561.7,798.9 563.7,799.0 565.7,799.1 567.7,799.2 569.7,799.3 571.7,799.3 573.7,799.4 575.7,799.4 577.7,799.5 579.7,799.5 581.7,799.6 583.7,799.6 585.7,799.6 587.7,799.7 589.7,799.7 591.7,799.7 593.7,799.7 595.7,799.7 597.7,799.8 599.7,799.8 601.7,799.8 603.7,799.8 605.7,799.8 607.7,799.9 609.7,799.9 611.7,799.9 613.7,799.9 615.7,799.9 617.7,799.9 619.7,800.0 621.7,800.0 623.7,800.0 625.7,800.0 627.7,800.0 629.7,800.0 631.7,800.0 633.7,800.1 635.8,800.1 637.8,800.1 639.8,800.1 641.8,800.1 643.8,800.1 645.8,800.1 647.8,800.1 649.8,800.2 651.8,800.2 653.8,800.2 655.8,800.2 657.8,800.2 659.8,800.2 661.8,800.2 663.8,800.2 665.8,800.2 667.8,800.3 669.8,800.3 671.8,800.3 673.8,800.3 675.8,800.3 677.8,800.3 679.8,800.3 681.8,800.3 683.8,800.3 685.8,800.3 687.8,800.4 689.8,800.4 691.8,800.4 693.8,800.4 695.8,800.4 697.8,800.4 699.8,800.4 701.8,800.4 703.8,800.4 705.8,800.4 707.8,800.4 709.8,800.5 711.8,800.5 713.8,800.5 715.8,800.5 717.8,800.5 719.8,800.5 721.8,800.5 723.8,800.5 725.8,800.5 727.8,800.5 729.8,800.5 731.8,800.5 733.8,800.6 735.8,800.6 737.8,800.6 739.8,800.6 741.8,800.6 743.8,800.6" fill="none" stroke="#00ffff" stroke-width="5" stroke-linejoin="round"/>
<defs><linearGradient id="rg4" x1="0" y1="0" x2="0" y2="1"><stop offset="0" stop-color="#fa6c6c"/><stop offset="0.25" stop-color="#f9a4a4"/><stop offset="0.5" stop-color="#fcd2d2"/><stop offset="0.75" stop-color="#feeaea"/><stop offset="1" stop-color="#fffafa"/></linearGradient><linearGradient id="gg4" x1="0" y1="0" x2="0" y2="1"><stop offset="0" stop-color="#3ef73e"/><stop offset="0.25" stop-color="#80f580"/><stop offset="0.5" stop-color="#b6f8b6"/><stop offset="0.75" stop-color="#e0fce0"/><stop offset="1" stop-color="#ffffff"/></linearGradient></defs>
<path d="M966.9,258.0 968.9,258.0 970.9,258.0 972.9,258.0 974.9,258.0 976.9,258.0 978.9,258.0 980.9,258.0 982.9,258.0 984.9,258.1 987.0,258.1 989.0,258.1 991.0,258.1 993.0,258.1 995.0,258.1 997.0,258.1 999.0,258.1 1001.0,258.1 1003.0,258.1 1005.0,258.1 1007.0,258.1 1009.0,258.1 1011.0,258.1 1013.0,258.1 1015.0,258.1 1017.0,258.2 1019.0,258.2 1021.0,258.2 1023.1,258.2 1025.1,258.2 1027.1,258.2 1029.1,258.2 1031.1,258.2 1033.1,258.2 1035.1,258.2 1037.1,258.2 1039.1,258.2 1041.1,258.2 1043.1,258.2 1045.1,258.2 1047.1,258.3 1049.1,258.3 1051.1,258.3 1053.1,258.3 1055.1,258.3 1057.1,258.3 1059.2,258.3 1061.2,258.3 1063.2,258.3 1065.2,258.3 1067.2,258.3 1069.2,258.3 1071.2,258.3 1073.2,258.3 1075.2,258.3 1077.2,258.4 1079.2,258.4 1081.2,258.4 1083.2,258.4 1085.2,258.4 1087.2,258.4 1089.2,258.4 1091.2,258.4 1093.2,258.4 1095.3,258.4 1097.3,258.4 1099.3,258.4 1101.3,258.4 1103.3,258.4 1105.3,258.5 1107.3,258.5 1109.3,258.5 1111.3,258.5 1113.3,258.5 1115.3,258.5 1117.3,258.4 1119.3,258.2 1121.3,258.0 1123.3,257.7 1125.3,257.5 1127.3,257.1 1129.3,257.1 1131.4,257.1 1133.4,257.1 1135.4,257.0 1137.4,257.0 1139.4,257.0 1141.4,257.0 1143.4,256.9 1145.4,256.9 1147.4,256.9 1149.4,256.8 1151.4,256.8 1153.4,256.8 1155.4,256.7 1157.4,256.7 1159.4,256.7 1161.4,256.6 1163.4,256.6 1165.4,256.6 1167.5,256.5 1169.5,256.5 1171.5,256.4 1173.5,256.4 1175.5,256.3 1177.5,256.3 1179.5,256.2 1181.5,256.1 1183.5,256.1 1185.5,256.0 1187.5,255.9 1189.5,255.8 1191.5,255.7 1193.5,255.6 1195.5,255.4 1197.5,255.3 1199.5,255.1 1201.5,254.9 1203.6,254.6 1205.6,254.4 1207.6,254.0 1209.6,253.6 1211.6,253.2 1213.6,252.7 1215.6,252.1 1217.6,251.4 1219.6,250.6 1221.6,249.7 1223.6,248.7 1225.6,247.5 1227.6,246.2 1229.6,244.6 1231.6,242.9 1233.6,241.0 1235.6,238.8 1237.6,236.4 1239.7,233.7 1241.7,230.8 1243.7,227.5 1245.7,223.9 1247.7,220.0 1249.7,215.8 1251.7,211.2 1253.7,206.2 1255.7,200.9 1257.7,195.3 1259.7,189.3 1261.7,182.9 1263.7,176.3 1265.7,169.3 1267.7,162.1 1269.7,154.6 1271.7,146.9 1273.7,139.1 1275.8,131.1 1277.8,123.1 1279.8,115.1 1281.8,107.2 1283.8,99.4 1285.8,91.7 1287.8,84.4 1289.8,77.4 1291.8,70.9 1293.8,64.8 1295.8,59.4 1297.8,54.6 1299.8,50.5 1301.8,47.1 1303.8,44.7 1305.8,43.0 1307.8,42.3 1309.8,42.5 1311.9,43.5 1313.9,45.5 1315.9,48.3 1317.9,52.0 1319.9,56.4 1321.9,61.5 1323.9,67.3 1325.9,73.6 1327.9,80.4 1329.9,87.6 1331.9,95.2 1333.9,103.0 1335.9,111.0 1337.9,119.1 1339.9,127.3 1341.9,135.5 1343.9,143.6 1345.9,151.5 1348.0,160.8 1350.0,170.5 1352.0,179.3 1354.0,187.3 1356.0,194.6 1358.0,201.3 1360.0,207.6 1362.0,213.3 1364.0,218.7 1366.0,223.6 1368.0,228.1 1370.0,232.3 1372.0,236.1 1374.0,239.5 1376.0,242.6 1378.0,245.5 1380.0,248.0 1382.0,250.4 1384.1,252.4 1386.1,254.3 1388.1,255.9 1390.1,257.4 1392.1,258.7 1394.1,259.8 1396.1,260.9 1398.1,261.8 1400.1,262.6 1402.1,263.2 1404.1,263.9 1406.1,264.4 1408.1,264.8 1410.1,265.2 1412.1,265.6 1414.1,265.9 1416.1,266.2 1418.1,266.4 1420.2,266.6 1422.2,266.7 1424.2,266.7 1426.2,266.7 1428.2,266.7 1430.2,266.7 1432.2,266.7 1434.2,266.7 1436.2,266.7 1438.2,266.7 1440.2,266.7 1442.2,266.7 1444.2,266.7 1446.2,266.7 1448.2,266.8 1450.2,266.8 1452.2,266.8 1454.2,266.8 1456.3,266.8 1458.3,266.8 1460.3,266.8 1462.3,266.8 1464.3,266.8 1466.3,266.8 1468.3,266.8 1470.3,266.8 1472.3,266.8 1474.3,266.8 1476.3,266.9 1478.3,266.9 1480.3,266.9 1482.3,266.9 1484.3,266.9 1486.3,266.9 1488.3,266.9 1490.3,266.9 1492.4,266.9 1494.4,266.9 1496.4,266.9 1498.4,266.9 1500.4,266.9 1502.4,266.9 1504.4,266.9 1506.4,267.0 1508.4,267.0 1510.4,267.0 1512.4,267.0 1514.4,267.0 1516.4,267.0 1518.4,267.0 1520.4,267.0 1522.4,267.0 1524.4,267.0 1526.4,267.0 1528.5,267.0 1530.5,267.0 1532.5,267.0 1534.5,267.0 1536.5,267.0 1538.5,267.1 1540.5,267.1 1542.5,267.1 1544.5,267.1 1546.5,267.1 1548.5,267.1 1550.5,267.1 1552.5,267.1 1554.5,267.1 1556.5,267.1 1558.5,267.1 1560.5,267.1 1562.5,267.1 1564.6,267.1 1566.6,267.1 1568.6,267.1 1570.6,267.2 1572.6,267.2 1574.6,267.2 1576.6,267.2 1578.6,267.2 1580.6,267.2 1582.6,267.2 1584.6,267.2 1586.6,267.2 1588.6,267.2 1590.6,267.2 1592.6,267.2 1594.6,267.2 1596.6,267.2 1598.6,267.2 1600.7,267.2 1602.7,267.3 1604.7,267.3 1606.7,267.3 1608.7,267.3 1610.7,267.3 1612.7,267.3 1614.7,267.3 1616.7,267.3 1618.7,267.3 1618.7,267.3 1616.7,267.3 1614.7,267.3 1612.7,267.3 1610.7,267.3 1608.7,267.3 1606.7,267.3 1604.7,267.3 1602.7,267.3 1600.7,267.2 1598.6,267.2 1596.6,267.2 1594.6,267.2 1592.6,267.2 1590.6,267.2 1588.6,267.2 1586.6,267.2 1584.6,267.2 1582.6,267.2 1580.6,267.2 1578.6,267.2 1576.6,267.2 1574.6,267.2 1572.6,267.2 1570.6,267.2 1568.6,267.1 1566.6,267.1 1564.6,267.1 1562.5,267.1 1560.5,267.1 1558.5,267.1 1556.5,267.1 1554.5,267.1 1552.5,267.1 1550.5,267.1 1548.5,267.1 1546.5,267.1 1544.5,267.1 1542.5,267.1 1540.5,267.1 1538.5,267.1 1536.5,267.0 1534.5,267.0 1532.5,267.0 1530.5,267.0 1528.5,267.0 1526.4,267.0 1524.4,267.0 1522.4,267.0 1520.4,267.0 1518.4,267.0 1516.4,267.0 1514.4,267.0 1512.4,267.0 1510.4,267.0 1508.4,267.0 1506.4,267.0 1504.4,266.9 1502.4,266.9 1500.4,266.9 1498.4,266.9 1496.4,266.9 1494.4,266.9 1492.4,266.9 1490.3,266.9 1488.3,266.9 1486.3,266.9 1484.3,266.9 1482.3,266.9 1480.3,266.9 1478.3,266.9 1476.3,266.9 1474.3,266.8 1472.3,266.8 1470.3,266.8 1468.3,266.8 1466.3,266.8 1464.3,266.8 1462.3,266.8 1460.3,266.8 1458.3,266.8 1456.3,266.8 1454.2,266.8 1452.2,266.8 1450.2,266.8 1448.2,266.8 1446.2,266.7 1444.2,266.7 1442.2,266.7 1440.2,266.7 1438.2,266.7 1436.2,266.7 1434.2,266.7 1432.2,266.7 1430.2,266.7 1428.2,266.7 1426.2,266.7 1424.2,266.7 1422.2,266.7 1420.2,266.7 1418.1,266.6 1416.1,266.6 1414.1,266.6 1412.1,266.6 1410.1,266.6 1408.1,266.6 1406.1,266.6 1404.1,266.6 1402.1,266.6 1400.1,266.6 1398.1,266.6 1396.1,266.5 1394.1,266.5 1392.1,266.5 1390.1,266.5 1388.1,266.5 1386.1,266.5 1384.1,266.5 1382.0,266.5 1380.0,266.4 1378.0,266.4 1376.0,266.4 1374.0,266.4 1372.0,266.4 1370.0,266.3 1368.0,266.3 1366.0,266.3 1364.0,266.2 1362.0,266.2 1360.0,266.2 1358.0,266.1 1356.0,266.1 1354.0,266.1 1352.0,266.0 1350.0,266.0 1348.0,265.9 1345.9,265.9 1343.9,265.8 1341.9,265.7 1339.9,265.7 1337.9,265.6 1335.9,265.5 1333.9,265.5 1331.9,265.4 1329.9,265.3 1327.9,265.2 1325.9,265.1 1323.9,265.0 1321.9,264.9 1319.9,264.8 1317.9,264.7 1315.9,264.6 1313.9,264.5 1311.9,264.4 1309.8,264.3 1307.8,264.2 1305.8,264.1 1303.8,264.0 1301.8,263.9 1299.8,263.8 1297.8,263.7 1295.8,263.6 1293.8,263.5 1291.8,263.3 1289.8,263.2 1287.8,263.1 1285.8,263.0 1283.8,262.9 1281.8,262.8 1279.8,262.7 1277.8,262.6 1275.8,262.5 1273.7,262.5 1271.7,262.4 1269.7,262.3 1267.7,262.2 1265.7,262.1 1263.7,262.0 1261.7,261.9 1259.7,261.8 1257.7,261.7 1255.7,261.6 1253.7,261.5 1251.7,261.4 1249.7,261.3 1247.7,261.3 1245.7,261.2 1243.7,261.1 1241.7,261.0 1239.7,260.9 1237.6,260.8 1235.6,260.7 1233.6,260.6 1231.6,260.5 1229.6,260.4 1227.6,260.4 1225.6,260.3 1223.6,260.2 1221.6,260.1 1219.6,260.0 1217.6,259.9 1215.6,259.9 1213.6,259.8 1211.6,259.7 1209.6,259.7 1207.6,259.6 1205.6,259.5 1203.6,259.5 1201.5,259.4 1199.5,259.4 1197.5,259.3 1195.5,259.3 1193.5,259.2 1191.5,259.2 1189.5,259.1 1187.5,259.1 1185.5,259.0 1183.5,259.0 1181.5,259.0 1179.5,258.9 1177.5,258.9 1175.5,258.9 1173.5,258.9 1171.5,258.8 1169.5,258.8 1167.5,258.8 1165.4,258.8 1163.4,258.7 1161.4,258.7 1159.4,258.7 1157.4,258.7 1155.4,258.7 1153.4,258.7 1151.4,258.7 1149.4,258.6 1147.4,258.6 1145.4,258.6 1143.4,258.6 1141.4,258.6 1139.4,258.6 1137.4,258.6 1135.4,258.6 1133.4,258.6 1131.4,258.6 1129.3,258.5 1127.3,258.5 1125.3,258.5 1123.3,258.5 1121.3,258.5 1119.3,258.5 1117.3,258.5 1115.3,258.5 1113.3,258.5 1111.3,258.5 1109.3,258.5 1107.3,258.5 1105.3,258.5 1103.3,258.4 1101.3,258.4 1099.3,258.4 1097.3,258.4 1095.3,258.4 1093.2,258.4 1091.2,258.4 1089.2,258.4 1087.2,258.4 1085.2,258.4 1083.2,258.4 1081.2,258.4 1079.2,258.4 1077.2,258.4 1075.2,258.3 1073.2,258.3 1071.2,258.3 1069.2,258.3 1067.2,258.3 1065.2,258.3 1063.2,258.3 1061.2,258.3 1059.2,258.3 1057.1,258.3 1055.1,258.3 1053.1,258.3 1051.1,258.3 1049.1,258.3 1047.1,258.3 1045.1,258.2 1043.1,258.2 1041.1,258.2 1039.1,258.2 1037.1,258.2 1035.1,258.2 1033.1,258.2 1031.1,258.2 1029.1,258.2 1027.1,258.2 1025.1,258.2 1023.1,258.2 1021.0,258.2 1019.0,258.2 1017.0,258.2 1015.0,258.1 1013.0,258.1 1011.0,258.1 1009.0,258.1 1007.0,258.1 1005.0,258.1 1003.0,258.1 1001.0,258.1 999.0,258.1 997.0,258.1 995.0,258.1 993.0,258.1 991.0,258.1 989.0,258.1 987.0,258.1 984.9,258.1 982.9,258.0 980.9,258.0 978.9,258.0 976.9,258.0 974.9,258.0 972.9,258.0 970.9,258.0 968.9,258.0 966.9,258.0 Z" fill="url(#rg4)" stroke="none"/>
<path d="M966.9,258.0 968.9,258.0 970.9,258.0 972.9,258.0 974.9,258.0 976.9,258.0 978.9,258.0 980.9,258.0 982.9,258.0 984.9,258.1 987.0,258.1 989.0,258.1 991.0,258.1 993.0,258.1 995.0,258.1 997.0,258.1 999.0,258.1 1001.0,258.1 1003.0,258.1 1005.0,258.1 1007.0,258.1 1009.0,258.1 1011.0,258.1 1013.0,258.1 1015.0,258.1 1017.0,258.2 1019.0,258.2 1021.0,258.2 1023.1,258.2 1025.1,258.2 1027.1,258.2 1029.1,258.2 1031.1,258.2 1033.1,258.2 1035.1,258.2 1037.1,258.2 1039.1,258.2 1041.1,258.2 1043.1,258.2 1045.1,258.2 1047.1,258.3 1049.1,258.3 1051.1,258.3 1053.1,258.3 1055.1,258.3 1057.1,258.3 1059.2,258.3 1061.2,258.3 1063.2,258.3 1065.2,258.3 1067.2,258.3 1069.2,258.3 1071.2,258.3 1073.2,258.3 1075.2,258.3 1077.2,258.4 1079.2,258.4 1081.2,258.4 1083.2,258.4 1085.2,258.4 1087.2,258.4 1089.2,258.4 1091.2,258.4 1093.2,258.4 1095.3,258.4 1097.3,258.4 1099.3,258.4 1101.3,258.4 1103.3,258.4 1105.3,258.5 1107.3,258.5 1109.3,258.5 1111.3,258.5 1113.3,258.5 1115.3,258.5 1117.3,258.4 1119.3,258.2 1121.3,258.0 1123.3,257.7 1125.3,257.5 1127.3,257.1 1129.3,257.1 1131.4,257.1 1133.4,257.1 1135.4,257.0 1137.4,257.0 1139.4,257.0 1141.4,257.0 1143.4,256.9 1145.4,256.9 1147.4,256.9 1149.4,256.8 1151.4,256.8 1153.4,256.8 1155.4,256.7 1157.4,256.7 1159.4,256.7 1161.4,256.6 1163.4,256.6 1165.4,256.6 1167.5,256.5 1169.5,256.5 1171.5,256.4 1173.5,256.4 1175.5,256.3 1177.5,256.3 1179.5,256.2 1181.5,256.1 1183.5,256.1 1185.5,256.0 1187.5,255.9 1189.5,255.8 1191.5,255.7 1193.5,255.6 1195.5,255.4 1197.5,255.3 1199.5,255.1 1201.5,254.9 1203.6,254.6 1205.6,254.4 1207.6,254.0 1209.6,253.6 1211.6,253.2 1213.6,252.7 1215.6,252.1 1217.6,251.4 1219.6,250.6 1221.6,249.7 1223.6,248.7 1225.6,247.5 1227.6,246.2 1229.6,244.6 1231.6,242.9 1233.6,241.0 1235.6,238.8 1237.6,236.4 1239.7,233.7 1241.7,230.8 1243.7,227.5 1245.7,223.9 1247.7,220.0 1249.7,215.8 1251.7,211.2 1253.7,206.2 1255.7,200.9 1257.7,195.3 1259.7,189.3 1261.7,182.9 1263.7,176.3 1265.7,169.3 1267.7,162.1 1269.7,154.6 1271.7,146.9 1273.7,139.1 1275.8,131.1 1277.8,123.1 1279.8,115.1 1281.8,107.2 1283.8,99.4 1285.8,91.7 1287.8,84.4 1289.8,77.4 1291.8,70.9 1293.8,64.8 1295.8,59.4 1297.8,54.6 1299.8,50.5 1301.8,47.1 1303.8,44.7 1305.8,43.0 1307.8,42.3 1309.8,42.5 1311.9,43.5 1313.9,45.5 1315.9,48.3 1317.9,52.0 1319.9,56.4 1321.9,61.5 1323.9,67.3 1325.9,73.6 1327.9,80.4 1329.9,87.6 1331.9,95.2 1333.9,103.0 1335.9,111.0 1337.9,119.1 1339.9,127.3 1341.9,135.5 1343.9,143.6 1345.9,151.5 1348.0,160.8 1350.0,170.5 1352.0,179.3 1354.0,187.3 1356.0,194.6 1358.0,201.3 1360.0,207.6 1362.0,213.3 1364.0,218.7 1366.0,223.6 1368.0,228.1 1370.0,232.3 1372.0,236.1 1374.0,239.5 1376.0,242.6 1378.0,245.5 1380.0,248.0 1382.0,250.4 1384.1,252.4 1386.1,254.3 1388.1,255.9 1390.1,257.4 1392.1,258.7 1394.1,259.8 1396.1,260.9 1398.1,261.8 1400.1,262.6 1402.1,263.2 1404.1,263.9 1406.1,264.4 1408.1,264.8 1410.1,265.2 1412.1,265.6 1414.1,265.9 1416.1,266.2 1418.1,266.4 1420.2,266.6 1422.2,266.7 1424.2,266.7 1426.2,266.7 1428.2,266.7 1430.2,266.7 1432.2,266.7 1434.2,266.7 1436.2,266.7 1438.2,266.7 1440.2,266.7 1442.2,266.7 1444.2,266.7 1446.2,266.7 1448.2,266.8 1450.2,266.8 1452.2,266.8 1454.2,266.8 1456.3,266.8 1458.3,266.8 1460.3,266.8 1462.3,266.8 1464.3,266.8 1466.3,266.8 1468.3,266.8 1470.3,266.8 1472.3,266.8 1474.3,266.8 1476.3,266.9 1478.3,266.9 1480.3,266.9 1482.3,266.9 1484.3,266.9 1486.3,266.9 1488.3,266.9 1490.3,266.9 1492.4,266.9 1494.4,266.9 1496.4,266.9 1498.4,266.9 1500.4,266.9 1502.4,266.9 1504.4,266.9 1506.4,267.0 1508.4,267.0 1510.4,267.0 1512.4,267.0 1514.4,267.0 1516.4,267.0 1518.4,267.0 1520.4,267.0 1522.4,267.0 1524.4,267.0 1526.4,267.0 1528.5,267.0 1530.5,267.0 1532.5,267.0 1534.5,267.0 1536.5,267.0 1538.5,267.1 1540.5,267.1 1542.5,267.1 1544.5,267.1 1546.5,267.1 1548.5,267.1 1550.5,267.1 1552.5,267.1 1554.5,267.1 1556.5,267.1 1558.5,267.1 1560.5,267.1 1562.5,267.1 1564.6,267.1 1566.6,267.1 1568.6,267.1 1570.6,267.2 1572.6,267.2 1574.6,267.2 1576.6,267.2 1578.6,267.2 1580.6,267.2 1582.6,267.2 1584.6,267.2 1586.6,267.2 1588.6,267.2 1590.6,267.2 1592.6,267.2 1594.6,267.2 1596.6,267.2 1598.6,267.2 1600.7,267.2 1602.7,267.3 1604.7,267.3 1606.7,267.3 1608.7,267.3 1610.7,267.3 1612.7,267.3 1614.7,267.3 1616.7,267.3 1618.7,267.3" fill="none" stroke="#ff3333" stroke-width="3.6" stroke-opacity="0.9" stroke-linejoin="round"/>
<path d="M966.9,258.0 968.9,258.0 970.9,258.0 972.9,258.0 974.9,258.0 976.9,258.0 978.9,258.0 980.9,258.0 982.9,258.0 984.9,258.1 987.0,258.1 989.0,258.1 991.0,258.1 993.0,258.1 995.0,258.1 997.0,258.1 999.0,258.1 1001.0,258.1 1003.0,258.1 1005.0,258.1 1007.0,258.1 1009.0,258.1 1011.0,258.1 1013.0,258.1 1015.0,258.1 1017.0,258.2 1019.0,258.2 1021.0,258.2 1023.1,258.2 1025.1,258.2 1027.1,258.2 1029.1,258.2 1031.1,258.2 1033.1,258.2 1035.1,258.2 1037.1,258.2 1039.1,258.2 1041.1,258.2 1043.1,258.2 1045.1,258.2 1047.1,258.3 1049.1,258.3 1051.1,258.3 1053.1,258.3 1055.1,258.3 1057.1,258.3 1059.2,258.3 1061.2,258.3 1063.2,258.3 1065.2,258.3 1067.2,258.3 1069.2,258.3 1071.2,258.3 1073.2,258.3 1075.2,258.3 1077.2,258.4 1079.2,258.4 1081.2,258.4 1083.2,258.4 1085.2,258.4 1087.2,258.4 1089.2,258.4 1091.2,258.4 1093.2,258.4 1095.3,258.4 1097.3,258.4 1099.3,258.4 1101.3,258.4 1103.3,258.4 1105.3,258.5 1107.3,258.5 1109.3,258.5 1111.3,258.5 1113.3,258.5 1115.3,258.5 1117.3,258.4 1119.3,258.2 1121.3,258.0 1123.3,257.7 1125.3,257.5 1127.3,257.1 1129.3,256.7 1131.4,256.3 1133.4,255.8 1135.4,255.2 1137.4,254.6 1139.4,253.9 1141.4,253.0 1143.4,252.1 1145.4,251.0 1147.4,249.8 1149.4,248.5 1151.4,247.0 1153.4,245.4 1155.4,243.6 1157.4,241.6 1159.4,239.4 1161.4,237.0 1163.4,234.4 1165.4,231.6 1167.5,228.6 1169.5,225.3 1171.5,221.7 1173.5,217.9 1175.5,213.9 1177.5,209.6 1179.5,205.0 1181.5,200.3 1183.5,195.3 1185.5,190.0 1187.5,184.6 1189.5,178.9 1191.5,173.1 1193.5,167.2 1195.5,161.1 1197.5,154.9 1199.5,148.7 1201.5,142.4 1203.6,136.1 1205.6,129.9 1207.6,123.7 1209.6,117.7 1211.6,111.8 1213.6,106.1 1215.6,100.7 1217.6,96.1 1219.6,92.1 1221.6,88.6 1223.6,85.7 1225.6,83.3 1227.6,81.5 1229.6,80.2 1231.6,79.6 1233.6,79.7 1235.6,80.3 1237.6,81.6 1239.7,83.5 1241.7,86.0 1243.7,89.1 1245.7,92.6 1247.7,96.7 1249.7,101.1 1251.7,106.0 1253.7,111.2 1255.7,116.7 1257.7,122.4 1259.7,128.3 1261.7,134.3 1263.7,140.5 1265.7,146.7 1267.7,152.9 1269.7,159.1 1271.7,165.2 1273.7,171.2 1275.8,177.1 1277.8,182.9 1279.8,188.4 1281.8,193.8 1283.8,199.0 1285.8,203.9 1287.8,208.6 1289.8,213.1 1291.8,217.3 1293.8,221.3 1295.8,225.0 1297.8,228.5 1299.8,231.8 1301.8,234.8 1303.8,237.6 1305.8,240.1 1307.8,242.5 1309.8,244.7 1311.9,246.6 1313.9,248.4 1315.9,250.1 1317.9,251.6 1319.9,252.9 1321.9,254.1 1323.9,255.2 1325.9,256.2 1327.9,257.1 1329.9,257.9 1331.9,258.6 1333.9,259.2 1335.9,259.8 1337.9,260.3 1339.9,260.8 1341.9,261.2 1343.9,261.5 1345.9,261.9 1348.0,262.2 1350.0,262.4 1352.0,262.7 1354.0,262.9 1356.0,263.1 1358.0,263.2 1360.0,263.4 1362.0,263.5 1364.0,263.7 1366.0,263.8 1368.0,263.9 1370.0,264.0 1372.0,264.1 1374.0,264.2 1376.0,264.3 1378.0,264.4 1380.0,264.4 1382.0,264.5 1384.1,264.6 1386.1,264.6 1388.1,264.7 1390.1,264.8 1392.1,264.8 1394.1,264.9 1396.1,264.9 1398.1,265.0 1400.1,265.0 1402.1,265.1 1404.1,265.1 1406.1,265.1 1408.1,265.2 1410.1,265.2 1412.1,265.6 1414.1,265.9 1416.1,266.2 1418.1,266.4 1420.2,266.6 1422.2,266.7 1424.2,266.7 1426.2,266.7 1428.2,266.7 1430.2,266.7 1432.2,266.7 1434.2,266.7 1436.2,266.7 1438.2,266.7 1440.2,266.7 1442.2,266.7 1444.2,266.7 1446.2,266.7 1448.2,266.8 1450.2,266.8 1452.2,266.8 1454.2,266.8 1456.3,266.8 1458.3,266.8 1460.3,266.8 1462.3,266.8 1464.3,266.8 1466.3,266.8 1468.3,266.8 1470.3,266.8 1472.3,266.8 1474.3,266.8 1476.3,266.9 1478.3,266.9 1480.3,266.9 1482.3,266.9 1484.3,266.9 1486.3,266.9 1488.3,266.9 1490.3,266.9 1492.4,266.9 1494.4,266.9 1496.4,266.9 1498.4,266.9 1500.4,266.9 1502.4,266.9 1504.4,266.9 1506.4,267.0 1508.4,267.0 1510.4,267.0 1512.4,267.0 1514.4,267.0 1516.4,267.0 1518.4,267.0 1520.4,267.0 1522.4,267.0 1524.4,267.0 1526.4,267.0 1528.5,267.0 1530.5,267.0 1532.5,267.0 1534.5,267.0 1536.5,267.0 1538.5,267.1 1540.5,267.1 1542.5,267.1 1544.5,267.1 1546.5,267.1 1548.5,267.1 1550.5,267.1 1552.5,267.1 1554.5,267.1 1556.5,267.1 1558.5,267.1 1560.5,267.1 1562.5,267.1 1564.6,267.1 1566.6,267.1 1568.6,267.1 1570.6,267.2 1572.6,267.2 1574.6,267.2 1576.6,267.2 1578.6,267.2 1580.6,267.2 1582.6,267.2 1584.6,267.2 1586.6,267.2 1588.6,267.2 1590.6,267.2 1592.6,267.2 1594.6,267.2 1596.6,267.2 1598.6,267.2 1600.7,267.2 1602.7,267.3 1604.7,267.3 1606.7,267.3 1608.7,267.3 1610.7,267.3 1612.7,267.3 1614.7,267.3 1616.7,267.3 1618.7,267.3 1618.7,267.3 1616.7,267.3 1614.7,267.3 1612.7,267.3 1610.7,267.3 1608.7,267.3 1606.7,267.3 1604.7,267.3 1602.7,267.3 1600.7,267.2 1598.6,267.2 1596.6,267.2 1594.6,267.2 1592.6,267.2 1590.6,267.2 1588.6,267.2 1586.6,267.2 1584.6,267.2 1582.6,267.2 1580.6,267.2 1578.6,267.2 1576.6,267.2 1574.6,267.2 1572.6,267.2 1570.6,267.2 1568.6,267.1 1566.6,267.1 1564.6,267.1 1562.5,267.1 1560.5,267.1 1558.5,267.1 1556.5,267.1 1554.5,267.1 1552.5,267.1 1550.5,267.1 1548.5,267.1 1546.5,267.1 1544.5,267.1 1542.5,267.1 1540.5,267.1 1538.5,267.1 1536.5,267.0 1534.5,267.0 1532.5,267.0 1530.5,267.0 1528.5,267.0 1526.4,267.0 1524.4,267.0 1522.4,267.0 1520.4,267.0 1518.4,267.0 1516.4,267.0 1514.4,267.0 1512.4,267.0 1510.4,267.0 1508.4,267.0 1506.4,267.0 1504.4,266.9 1502.4,266.9 1500.4,266.9 1498.4,266.9 1496.4,266.9 1494.4,266.9 1492.4,266.9 1490.3,266.9 1488.3,266.9 1486.3,266.9 1484.3,266.9 1482.3,266.9 1480.3,266.9 1478.3,266.9 1476.3,266.9 1474.3,266.8 1472.3,266.8 1470.3,266.8 1468.3,266.8 1466.3,266.8 1464.3,266.8 1462.3,266.8 1460.3,266.8 1458.3,266.8 1456.3,266.8 1454.2,266.8 1452.2,266.8 1450.2,266.8 1448.2,266.8 1446.2,266.7 1444.2,266.7 1442.2,266.7 1440.2,266.7 1438.2,266.7 1436.2,266.7 1434.2,266.7 1432.2,266.7 1430.2,266.7 1428.2,266.7 1426.2,266.7 1424.2,266.7 1422.2,266.7 1420.2,266.7 1418.1,266.6 1416.1,266.6 1414.1,266.6 1412.1,266.6 1410.1,266.6 1408.1,266.6 1406.1,266.6 1404.1,266.6 1402.1,266.6 1400.1,266.6 1398.1,266.6 1396.1,266.5 1394.1,266.5 1392.1,266.5 1390.1,266.5 1388.1,266.5 1386.1,266.5 1384.1,266.5 1382.0,266.5 1380.0,266.4 1378.0,266.4 1376.0,266.4 1374.0,266.4 1372.0,266.4 1370.0,266.3 1368.0,266.3 1366.0,266.3 1364.0,266.2 1362.0,266.2 1360.0,266.2 1358.0,266.1 1356.0,266.1 1354.0,266.1 1352.0,266.0 1350.0,266.0 1348.0,265.9 1345.9,265.9 1343.9,265.8 1341.9,265.7 1339.9,265.7 1337.9,265.6 1335.9,265.5 1333.9,265.5 1331.9,265.4 1329.9,265.3 1327.9,265.2 1325.9,265.1 1323.9,265.0 1321.9,264.9 1319.9,264.8 1317.9,264.7 1315.9,264.6 1313.9,264.5 1311.9,264.4 1309.8,264.3 1307.8,264.2 1305.8,264.1 1303.8,264.0 1301.8,263.9 1299.8,263.8 1297.8,263.7 1295.8,263.6 1293.8,263.5 1291.8,263.3 1289.8,263.2 1287.8,263.1 1285.8,263.0 1283.8,262.9 1281.8,262.8 1279.8,262.7 1277.8,262.6 1275.8,262.5 1273.7,262.5 1271.7,262.4 1269.7,262.3 1267.7,262.2 1265.7,262.1 1263.7,262.0 1261.7,261.9 1259.7,261.8 1257.7,261.7 1255.7,261.6 1253.7,261.5 1251.7,261.4 1249.7,261.3 1247.7,261.3 1245.7,261.2 1243.7,261.1 1241.7,261.0 1239.7,260.9 1237.6,260.8 1235.6,260.7 1233.6,260.6 1231.6,260.5 1229.6,260.4 1227.6,260.4 1225.6,260.3 1223.6,260.2 1221.6,260.1 1219.6,260.0 1217.6,259.9 1215.6,259.9 1213.6,259.8 1211.6,259.7 1209.6,259.7 1207.6,259.6 1205.6,259.5 1203.6,259.5 1201.5,259.4 1199.5,259.4 1197.5,259.3 1195.5,259.3 1193.5,259.2 1191.5,259.2 1189.5,259.1 1187.5,259.1 1185.5,259.0 1183.5,259.0 1181.5,259.0 1179.5,258.9 1177.5,258.9 1175.5,258.9 1173.5,258.9 1171.5,258.8 1169.5,258.8 1167.5,258.8 1165.4,258.8 1163.4,258.7 1161.4,258.7 1159.4,258.7 1157.4,258.7 1155.4,258.7 1153.4,258.7 1151.4,258.7 1149.4,258.6 1147.4,258.6 1145.4,258.6 1143.4,258.6 1141.4,258.6 1139.4,258.6 1137.4,258.6 1135.4,258.6 1133.4,258.6 1131.4,258.6 1129.3,258.5 1127.3,258.5 1125.3,258.5 1123.3,258.5 1121.3,258.5 1119.3,258.5 1117.3,258.5 1115.3,258.5 1113.3,258.5 1111.3,258.5 1109.3,258.5 1107.3,258.5 1105.3,258.5 1103.3,258.4 1101.3,258.4 1099.3,258.4 1097.3,258.4 1095.3,258.4 1093.2,258.4 1091.2,258.4 1089.2,258.4 1087.2,258.4 1085.2,258.4 1083.2,258.4 1081.2,258.4 1079.2,258.4 1077.2,258.4 1075.2,258.3 1073.2,258.3 1071.2,258.3 1069.2,258.3 1067.2,258.3 1065.2,258.3 1063.2,258.3 1061.2,258.3 1059.2,258.3 1057.1,258.3 1055.1,258.3 1053.1,258.3 1051.1,258.3 1049.1,258.3 1047.1,258.3 1045.1,258.2 1043.1,258.2 1041.1,258.2 1039.1,258.2 1037.1,258.2 1035.1,258.2 1033.1,258.2 1031.1,258.2 1029.1,258.2 1027.1,258.2 1025.1,258.2 1023.1,258.2 1021.0,258.2 1019.0,258.2 1017.0,258.2 1015.0,258.1 1013.0,258.1 1011.0,258.1 1009.0,258.1 1007.0,258.1 1005.0,258.1 1003.0,258.1 1001.0,258.1 999.0,258.1 997.0,258.1 995.0,258.1 993.0,258.1 991.0,258.1 989.0,258.1 987.0,258.1 984.9,258.1 982.9,258.0 980.9,258.0 978.9,258.0 976.9,258.0 974.9,258.0 972.9,258.0 970.9,258.0 968.9,258.0 966.9,258.0 Z" fill="url(#gg4)" fill-opacity="0.68" stroke="none"/>
<path d="M966.9,258.0 968.9,258.0 970.9,258.0 972.9,258.0 974.9,258.0 976.9,258.0 978.9,258.0 980.9,258.0 982.9,258.0 984.9,258.1 987.0,258.1 989.0,258.1 991.0,258.1 993.0,258.1 995.0,258.1 997.0,258.1 999.0,258.1 1001.0,258.1 1003.0,258.1 1005.0,258.1 1007.0,258.1 1009.0,258.1 1011.0,258.1 1013.0,258.1 1015.0,258.1 1017.0,258.2 1019.0,258.2 1021.0,258.2 1023.1,258.2 1025.1,258.2 1027.1,258.2 1029.1,258.2 1031.1,258.2 1033.1,258.2 1035.1,258.2 1037.1,258.2 1039.1,258.2 1041.1,258.2 1043.1,258.2 1045.1,258.2 1047.1,258.3 1049.1,258.3 1051.1,258.3 1053.1,258.3 1055.1,258.3 1057.1,258.3 1059.2,258.3 1061.2,258.3 1063.2,258.3 1065.2,258.3 1067.2,258.3 1069.2,258.3 1071.2,258.3 1073.2,258.3 1075.2,258.3 1077.2,258.4 1079.2,258.4 1081.2,258.4 1083.2,258.4 1085.2,258.4 1087.2,258.4 1089.2,258.4 1091.2,258.4 1093.2,258.4 1095.3,258.4 1097.3,258.4 1099.3,258.4 1101.3,258.4 1103.3,258.4 1105.3,258.5 1107.3,258.5 1109.3,258.5 1111.3,258.5 1113.3,258.5 1115.3,258.5 1117.3,258.4 1119.3,258.2 1121.3,258.0 1123.3,257.7 1125.3,257.5 1127.3,257.1 1129.3,256.7 1131.4,256.3 1133.4,255.8 1135.4,255.2 1137.4,254.6 1139.4,253.9 1141.4,253.0 1143.4,252.1 1145.4,251.0 1147.4,249.8 1149.4,248.5 1151.4,247.0 1153.4,245.4 1155.4,243.6 1157.4,241.6 1159.4,239.4 1161.4,237.0 1163.4,234.4 1165.4,231.6 1167.5,228.6 1169.5,225.3 1171.5,221.7 1173.5,217.9 1175.5,213.9 1177.5,209.6 1179.5,205.0 1181.5,200.3 1183.5,195.3 1185.5,190.0 1187.5,184.6 1189.5,178.9 1191.5,173.1 1193.5,167.2 1195.5,161.1 1197.5,154.9 1199.5,148.7 1201.5,142.4 1203.6,136.1 1205.6,129.9 1207.6,123.7 1209.6,117.7 1211.6,111.8 1213.6,106.1 1215.6,100.7 1217.6,96.1 1219.6,92.1 1221.6,88.6 1223.6,85.7 1225.6,83.3 1227.6,81.5 1229.6,80.2 1231.6,79.6 1233.6,79.7 1235.6,80.3 1237.6,81.6 1239.7,83.5 1241.7,86.0 1243.7,89.1 1245.7,92.6 1247.7,96.7 1249.7,101.1 1251.7,106.0 1253.7,111.2 1255.7,116.7 1257.7,122.4 1259.7,128.3 1261.7,134.3 1263.7,140.5 1265.7,146.7 1267.7,152.9 1269.7,159.1 1271.7,165.2 1273.7,171.2 1275.8,177.1 1277.8,182.9 1279.8,188.4 1281.8,193.8 1283.8,199.0 1285.8,203.9 1287.8,208.6 1289.8,213.1 1291.8,217.3 1293.8,221.3 1295.8,225.0 1297.8,228.5 1299.8,231.8 1301.8,234.8 1303.8,237.6 1305.8,240.1 1307.8,242.5 1309.8,244.7 1311.9,246.6 1313.9,248.4 1315.9,250.1 1317.9,251.6 1319.9,252.9 1321.9,254.1 1323.9,255.2 1325.9,256.2 1327.9,257.1 1329.9,257.9 1331.9,258.6 1333.9,259.2 1335.9,259.8 1337.9,260.3 1339.9,260.8 1341.9,261.2 1343.9,261.5 1345.9,261.9 1348.0,262.2 1350.0,262.4 1352.0,262.7 1354.0,262.9 1356.0,263.1 1358.0,263.2 1360.0,263.4 1362.0,263.5 1364.0,263.7 1366.0,263.8 1368.0,263.9 1370.0,264.0 1372.0,264.1 1374.0,264.2 1376.0,264.3 1378.0,264.4 1380.0,264.4 1382.0,264.5 1384.1,264.6 1386.1,264.6 1388.1,264.7 1390.1,264.8 1392.1,264.8 1394.1,264.9 1396.1,264.9 1398.1,265.0 1400.1,265.0 1402.1,265.1 1404.1,265.1 1406.1,265.1 1408.1,265.2 1410.1,265.2 1412.1,265.6 1414.1,265.9 1416.1,266.2 1418.1,266.4 1420.2,266.6 1422.2,266.7 1424.2,266.7 1426.2,266.7 1428.2,266.7 1430.2,266.7 1432.2,266.7 1434.2,266.7 1436.2,266.7 1438.2,266.7 1440.2,266.7 1442.2,266.7 1444.2,266.7 1446.2,266.7 1448.2,266.8 1450.2,266.8 1452.2,266.8 1454.2,266.8 1456.3,266.8 1458.3,266.8 1460.3,266.8 1462.3,266.8 1464.3,266.8 1466.3,266.8 1468.3,266.8 1470.3,266.8 1472.3,266.8 1474.3,266.8 1476.3,266.9 1478.3,266.9 1480.3,266.9 1482.3,266.9 1484.3,266.9 1486.3,266.9 1488.3,266.9 1490.3,266.9 1492.4,266.9 1494.4,266.9 1496.4,266.9 1498.4,266.9 1500.4,266.9 1502.4,266.9 1504.4,266.9 1506.4,267.0 1508.4,267.0 1510.4,267.0 1512.4,267.0 1514.4,267.0 1516.4,267.0 1518.4,267.0 1520.4,267.0 1522.4,267.0 1524.4,267.0 1526.4,267.0 1528.5,267.0 1530.5,267.0 1532.5,267.0 1534.5,267.0 1536.5,267.0 1538.5,267.1 1540.5,267.1 1542.5,267.1 1544.5,267.1 1546.5,267.1 1548.5,267.1 1550.5,267.1 1552.5,267.1 1554.5,267.1 1556.5,267.1 1558.5,267.1 1560.5,267.1 1562.5,267.1 1564.6,267.1 1566.6,267.1 1568.6,267.1 1570.6,267.2 1572.6,267.2 1574.6,267.2 1576.6,267.2 1578.6,267.2 1580.6,267.2 1582.6,267.2 1584.6,267.2 1586.6,267.2 1588.6,267.2 1590.6,267.2 1592.6,267.2 1594.6,267.2 1596.6,267.2 1598.6,267.2 1600.7,267.2 1602.7,267.3 1604.7,267.3 1606.7,267.3 1608.7,267.3 1610.7,267.3 1612.7,267.3 1614.7,267.3 1616.7,267.3 1618.7,267.3" fill="none" stroke="#33f533" stroke-width="3.8" stroke-opacity="0.9" stroke-linejoin="round"/>
<line x1="966.90" y1="260.50" x2="1618.70" y2="265.30" stroke="#5ec93a" stroke-width="2.6"/>
<path d="M966.9,258.0 968.9,258.0 970.9,258.0 972.9,258.0 974.9,258.0 976.9,258.0 978.9,258.0 980.9,258.0 982.9,258.0 984.9,258.1 987.0,258.1 989.0,258.1 991.0,258.1 993.0,258.1 995.0,258.1 997.0,258.1 999.0,258.1 1001.0,258.1 1003.0,258.1 1005.0,258.1 1007.0,258.1 1009.0,258.1 1011.0,258.1 1013.0,258.1 1015.0,258.1 1017.0,258.2 1019.0,258.2 1021.0,258.2 1023.1,258.2 1025.1,258.2 1027.1,258.2 1029.1,258.2 1031.1,258.2 1033.1,258.2 1035.1,258.2 1037.1,258.2 1039.1,258.2 1041.1,258.2 1043.1,258.2 1045.1,258.2 1047.1,258.3 1049.1,258.3 1051.1,258.3 1053.1,258.3 1055.1,258.3 1057.1,258.3 1059.2,258.3 1061.2,258.3 1063.2,258.3 1065.2,258.3 1067.2,258.3 1069.2,258.3 1071.2,258.3 1073.2,258.3 1075.2,258.3 1077.2,258.4 1079.2,258.4 1081.2,258.4 1083.2,258.4 1085.2,258.4 1087.2,258.4 1089.2,258.4 1091.2,258.4 1093.2,258.4 1095.3,258.4 1097.3,258.4 1099.3,258.4 1101.3,258.4 1103.3,258.4 1105.3,258.5 1107.3,258.5 1109.3,258.5 1111.3,258.5 1113.3,258.5 1115.3,258.5 1117.3,258.5 1119.3,258.5 1121.3,258.5 1123.3,258.5 1125.3,258.5 1127.3,258.5 1129.3,258.5 1131.4,258.6 1133.4,258.6 1135.4,258.6 1137.4,258.6 1139.4,258.6 1141.4,258.6 1143.4,258.6 1145.4,258.6 1147.4,258.6 1149.4,258.6 1151.4,258.7 1153.4,258.7 1155.4,258.7 1157.4,258.7 1159.4,258.7 1161.4,258.7 1163.4,258.7 1165.4,258.8 1167.5,258.8 1169.5,258.8 1171.5,258.8 1173.5,258.9 1175.5,258.9 1177.5,258.9 1179.5,258.9 1181.5,259.0 1183.5,259.0 1185.5,259.0 1187.5,259.1 1189.5,259.1 1191.5,259.2 1193.5,259.2 1195.5,259.3 1197.5,259.3 1199.5,259.4 1201.5,259.4 1203.6,259.5 1205.6,259.5 1207.6,259.6 1209.6,259.7 1211.6,259.7 1213.6,259.8 1215.6,259.9 1217.6,259.9 1219.6,260.0 1221.6,260.1 1223.6,260.2 1225.6,260.3 1227.6,260.4 1229.6,260.4 1231.6,260.5 1233.6,260.6 1235.6,260.7 1237.6,260.8 1239.7,260.9 1241.7,261.0 1243.7,261.1 1245.7,261.2 1247.7,261.3 1249.7,261.3 1251.7,261.4 1253.7,261.5 1255.7,261.6 1257.7,261.7 1259.7,261.8 1261.7,261.9 1263.7,262.0 1265.7,262.1 1267.7,262.2 1269.7,262.3 1271.7,262.4 1273.7,262.5 1275.8,262.5 1277.8,262.6 1279.8,262.7 1281.8,262.8 1283.8,262.9 1285.8,263.0 1287.8,263.1 1289.8,263.2 1291.8,263.3 1293.8,263.5 1295.8,263.6 1297.8,263.7 1299.8,263.8 1301.8,263.9 1303.8,264.0 1305.8,264.1 1307.8,264.2 1309.8,264.3 1311.9,264.4 1313.9,264.5 1315.9,264.6 1317.9,264.7 1319.9,264.8 1321.9,264.9 1323.9,265.0 1325.9,265.1 1327.9,265.2 1329.9,265.3 1331.9,265.4 1333.9,265.5 1335.9,265.5 1337.9,265.6 1339.9,265.7 1341.9,265.7 1343.9,265.8 1345.9,265.9 1348.0,265.9 1350.0,266.0 1352.0,266.0 1354.0,266.1 1356.0,266.1 1358.0,266.1 1360.0,266.2 1362.0,266.2 1364.0,266.2 1366.0,266.3 1368.0,266.3 1370.0,266.3 1372.0,266.4 1374.0,266.4 1376.0,266.4 1378.0,266.4 1380.0,266.4 1382.0,266.5 1384.1,266.5 1386.1,266.5 1388.1,266.5 1390.1,266.5 1392.1,266.5 1394.1,266.5 1396.1,266.5 1398.1,266.6 1400.1,266.6 1402.1,266.6 1404.1,266.6 1406.1,266.6 1408.1,266.6 1410.1,266.6 1412.1,266.6 1414.1,266.6 1416.1,266.6 1418.1,266.6 1420.2,266.7 1422.2,266.7 1424.2,266.7 1426.2,266.7 1428.2,266.7 1430.2,266.7 1432.2,266.7 1434.2,266.7 1436.2,266.7 1438.2,266.7 1440.2,266.7 1442.2,266.7 1444.2,266.7 1446.2,266.7 1448.2,266.8 1450.2,266.8 1452.2,266.8 1454.2,266.8 1456.3,266.8 1458.3,266.8 1460.3,266.8 1462.3,266.8 1464.3,266.8 1466.3,266.8 1468.3,266.8 1470.3,266.8 1472.3,266.8 1474.3,266.8 1476.3,266.9 1478.3,266.9 1480.3,266.9 1482.3,266.9 1484.3,266.9 1486.3,266.9 1488.3,266.9 1490.3,266.9 1492.4,266.9 1494.4,266.9 1496.4,266.9 1498.4,266.9 1500.4,266.9 1502.4,266.9 1504.4,266.9 1506.4,267.0 1508.4,267.0 1510.4,267.0 1512.4,267.0 1514.4,267.0 1516.4,267.0 1518.4,267.0 1520.4,267.0 1522.4,267.0 1524.4,267.0 1526.4,267.0 1528.5,267.0 1530.5,267.0 1532.5,267.0 1534.5,267.0 1536.5,267.0 1538.5,267.1 1540.5,267.1 1542.5,267.1 1544.5,267.1 1546.5,267.1 1548.5,267.1 1550.5,267.1 1552.5,267.1 1554.5,267.1 1556.5,267.1 1558.5,267.1 1560.5,267.1 1562.5,267.1 1564.6,267.1 1566.6,267.1 1568.6,267.1 1570.6,267.2 1572.6,267.2 1574.6,267.2 1576.6,267.2 1578.6,267.2 1580.6,267.2 1582.6,267.2 1584.6,267.2 1586.6,267.2 1588.6,267.2 1590.6,267.2 1592.6,267.2 1594.6,267.2 1596.6,267.2 1598.6,267.2 1600.7,267.2 1602.7,267.3 1604.7,267.3 1606.7,267.3 1608.7,267.3 1610.7,267.3 1612.7,267.3 1614.7,267.3 1616.7,267.3 1618.7,267.3" fill="none" stroke="#1515b0" stroke-width="1.3"/>
<path d="M966.9,258.7 971.9,259.3 976.9,259.4 981.9,260.0 987.0,260.8 992.0,261.2 997.0,261.9 1002.0,261.3 1007.0,261.0 1012.0,260.4 1017.0,259.7 1022.1,259.3 1027.1,259.0 1032.1,258.9 1037.1,258.8 1042.1,259.4 1047.1,259.4 1052.1,258.3 1057.1,258.2 1062.2,257.8 1067.2,257.6 1072.2,258.2 1077.2,258.0 1082.2,257.1 1087.2,257.3 1092.2,257.2 1097.3,256.6 1102.3,256.1 1107.3,255.6 1112.3,255.1 1117.3,254.2 1122.3,253.2 1127.3,252.9 1132.4,250.7 1137.4,248.5 1142.4,246.4 1147.4,244.8 1152.4,241.2 1157.4,238.4 1162.4,232.0 1167.5,224.4 1172.5,216.3 1177.5,205.5 1182.5,193.5 1187.5,181.6 1192.5,168.5 1197.5,153.4 1202.6,137.4 1207.6,123.7 1212.6,109.0 1217.6,94.8 1222.6,84.7 1227.6,73.6 1232.6,66.5 1237.6,60.1 1242.7,55.2 1247.7,57.1 1252.7,62.6 1257.7,64.9 1262.7,67.5 1267.7,67.9 1272.7,65.4 1277.8,56.9 1282.8,50.6 1287.8,42.2 1292.8,33.0 1297.8,26.3 1302.8,20.3 1307.8,20.7 1312.9,26.1 1317.9,37.3 1322.9,53.5 1327.9,70.2 1332.9,87.3 1337.9,108.4 1342.9,134.8 1348.0,164.1 1353.0,183.4 1358.0,200.6 1363.0,211.3 1368.0,224.4 1373.0,233.2 1378.0,241.0 1383.0,245.4 1388.1,248.5 1393.1,254.0 1398.1,257.1 1403.1,259.6 1408.1,261.8 1413.1,263.6 1418.1,264.2 1423.2,264.8 1428.2,263.9 1433.2,264.5 1438.2,263.9 1443.2,264.2 1448.2,265.4 1453.2,266.1 1458.3,266.5 1463.3,266.1 1468.3,266.1 1473.3,266.4 1478.3,266.9 1483.3,266.8 1488.3,266.8 1493.4,266.9 1498.4,267.1 1503.4,267.1 1508.4,266.9 1513.4,266.6 1518.4,267.1 1523.4,267.2 1528.5,267.1 1533.5,268.5 1538.5,268.5 1543.5,268.4 1548.5,268.1 1553.5,267.4 1558.5,267.8 1563.5,267.5 1568.6,267.4 1573.6,267.7 1578.6,268.0 1583.6,267.9 1588.6,267.7 1593.6,268.4 1598.6,268.3 1603.7,267.6 1608.7,267.8 1613.7,267.7 1618.7,267.6" fill="none" stroke="#1a1a1a" stroke-width="1.3" stroke-linejoin="round"/>
<path d="M966.9,257.8 968.9,257.8 970.9,257.8 972.9,257.8 974.9,257.8 976.9,257.8 978.9,257.8 980.9,257.8 982.9,257.8 984.9,257.8 987.0,257.8 989.0,257.8 991.0,257.8 993.0,257.8 995.0,257.8 997.0,257.8 999.0,257.8 1001.0,257.8 1003.0,257.8 1005.0,257.9 1007.0,257.9 1009.0,257.9 1011.0,257.9 1013.0,257.9 1015.0,257.9 1017.0,257.9 1019.0,257.9 1021.0,257.9 1023.1,257.9 1025.1,257.9 1027.1,257.9 1029.1,257.9 1031.1,257.9 1033.1,257.9 1035.1,257.9 1037.1,257.9 1039.1,257.9 1041.1,257.9 1043.1,257.9 1045.1,257.9 1047.1,257.9 1049.1,257.9 1051.1,257.9 1053.1,257.9 1055.1,257.9 1057.1,257.9 1059.2,257.9 1061.2,257.9 1063.2,257.9 1065.2,257.9 1067.2,257.8 1069.2,257.8 1071.2,257.8 1073.2,257.8 1075.2,257.8 1077.2,257.8 1079.2,257.8 1081.2,257.8 1083.2,257.8 1085.2,257.8 1087.2,257.8 1089.2,257.8 1091.2,257.7 1093.2,257.7 1095.3,257.7 1097.3,257.6 1099.3,257.6 1101.3,257.6 1103.3,257.5 1105.3,257.5 1107.3,257.4 1109.3,257.3 1111.3,257.2 1113.3,257.1 1115.3,256.9 1117.3,256.8 1119.3,256.6 1121.3,256.4 1123.3,256.1 1125.3,255.9 1127.3,255.5 1129.3,255.1 1131.4,254.7 1133.4,254.2 1135.4,253.6 1137.4,253.0 1139.4,252.3 1141.4,251.4 1143.4,250.5 1145.4,249.4 1147.4,248.2 1149.4,246.9 1151.4,245.4 1153.4,243.8 1155.4,242.0 1157.4,240.0 1159.4,237.8 1161.4,235.4 1163.4,232.8 1165.4,230.0 1167.5,227.0 1169.5,223.7 1171.5,220.1 1173.5,216.3 1175.5,212.3 1177.5,208.0 1179.5,203.4 1181.5,198.7 1183.5,193.7 1185.5,188.4 1187.5,183.0 1189.5,177.3 1191.5,171.5 1193.5,165.6 1195.5,159.5 1197.5,153.3 1199.5,147.1 1201.5,140.8 1203.6,134.5 1205.6,128.3 1207.6,122.1 1209.6,116.1 1211.6,110.2 1213.6,104.5 1215.6,99.1 1217.6,93.9 1219.6,89.0 1221.6,84.5 1223.6,80.3 1225.6,76.5 1227.6,73.1 1229.6,70.2 1231.6,67.7 1233.6,65.6 1235.6,63.9 1237.6,62.7 1239.7,61.8 1241.7,61.3 1243.7,61.1 1245.7,61.3 1247.7,61.6 1249.7,62.1 1251.7,62.8 1253.7,63.5 1255.7,64.2 1257.7,64.8 1259.7,65.3 1261.7,65.7 1263.7,65.8 1265.7,65.6 1267.7,65.0 1269.7,64.2 1271.7,62.9 1273.7,61.3 1275.8,59.2 1277.8,56.8 1279.8,54.1 1281.8,51.1 1283.8,47.9 1285.8,44.4 1287.8,40.9 1289.8,37.4 1291.8,34.0 1293.8,30.8 1295.8,27.9 1297.8,25.3 1299.8,23.3 1301.8,21.8 1303.8,21.0 1305.8,21.0 1307.8,21.7 1309.8,23.2 1311.9,25.6 1313.9,28.9 1315.9,33.0 1317.9,37.9 1319.9,43.4 1321.9,49.5 1323.9,56.0 1325.9,62.5 1327.9,69.0 1329.9,75.4 1331.9,81.8 1333.9,88.5 1335.9,96.0 1337.9,104.8 1339.9,114.8 1341.9,125.8 1343.9,137.3 1345.9,148.6 1348.0,159.2 1350.0,168.9 1352.0,177.7 1354.0,185.7 1356.0,193.0 1358.0,199.7 1360.0,206.0 1362.0,211.7 1364.0,217.1 1366.0,222.0 1368.0,226.5 1370.0,230.7 1372.0,234.5 1374.0,237.9 1376.0,241.0 1378.0,243.9 1380.0,246.4 1382.0,248.8 1384.1,250.8 1386.1,252.7 1388.1,254.3 1390.1,255.8 1392.1,257.1 1394.1,258.2 1396.1,259.3 1398.1,260.2 1400.1,261.0 1402.1,261.6 1404.1,262.3 1406.1,262.8 1408.1,263.2 1410.1,263.6 1412.1,264.0 1414.1,264.3 1416.1,264.6 1418.1,264.8 1420.2,265.0 1422.2,265.1 1424.2,265.3 1426.2,265.4 1428.2,265.5 1430.2,265.6 1432.2,265.7 1434.2,265.8 1436.2,265.8 1438.2,265.9 1440.2,265.9 1442.2,266.0 1444.2,266.0 1446.2,266.1 1448.2,266.1 1450.2,266.1 1452.2,266.2 1454.2,266.2 1456.3,266.2 1458.3,266.2 1460.3,266.2 1462.3,266.3 1464.3,266.3 1466.3,266.3 1468.3,266.3 1470.3,266.3 1472.3,266.4 1474.3,266.4 1476.3,266.4 1478.3,266.4 1480.3,266.4 1482.3,266.4 1484.3,266.5 1486.3,266.5 1488.3,266.5 1490.3,266.5 1492.4,266.5 1494.4,266.5 1496.4,266.5 1498.4,266.6 1500.4,266.6 1502.4,266.6 1504.4,266.6 1506.4,266.6 1508.4,266.6 1510.4,266.6 1512.4,266.6 1514.4,266.7 1516.4,266.7 1518.4,266.7 1520.4,266.7 1522.4,266.7 1524.4,266.7 1526.4,266.7 1528.5,266.7 1530.5,266.8 1532.5,266.8 1534.5,266.8 1536.5,266.8 1538.5,266.8 1540.5,266.8 1542.5,266.8 1544.5,266.8 1546.5,266.8 1548.5,266.8 1550.5,266.9 1552.5,266.9 1554.5,266.9 1556.5,266.9 1558.5,266.9 1560.5,266.9 1562.5,266.9 1564.6,266.9 1566.6,266.9 1568.6,266.9 1570.6,266.9 1572.6,267.0 1574.6,267.0 1576.6,267.0 1578.6,267.0 1580.6,267.0 1582.6,267.0 1584.6,267.0 1586.6,267.0 1588.6,267.0 1590.6,267.0 1592.6,267.0 1594.6,267.1 1596.6,267.1 1598.6,267.1 1600.7,267.1 1602.7,267.1 1604.7,267.1 1606.7,267.1 1608.7,267.1 1610.7,267.1 1612.7,267.1 1614.7,267.1 1616.7,267.1 1618.7,267.1" fill="none" stroke="#00ffff" stroke-width="5" stroke-linejoin="round"/>
<defs><linearGradient id="rg5" x1="0" y1="0" x2="0" y2="1"><stop offset="0" stop-color="#fa6c6c"/><stop offset="0.25" stop-color="#f9a4a4"/><stop offset="0.5" stop-color="#fcd2d2"/><stop offset="0.75" stop-color="#feeaea"/><stop offset="1" stop-color="#fffafa"/></linearGradient><linearGradient id="gg5" x1="0" y1="0" x2="0" y2="1"><stop offset="0" stop-color="#3ef73e"/><stop offset="0.25" stop-color="#80f580"/><stop offset="0.5" stop-color="#b6f8b6"/><stop offset="0.75" stop-color="#e0fce0"/><stop offset="1" stop-color="#ffffff"/></linearGradient></defs>
<path d="M966.9,531.6 968.9,531.6 970.9,531.6 972.9,531.6 974.9,531.6 976.9,531.6 978.9,531.6 980.9,531.6 982.9,531.7 984.9,531.7 987.0,531.7 989.0,531.7 991.0,531.7 993.0,531.7 995.0,531.7 997.0,531.7 999.0,531.7 1001.0,531.7 1003.0,531.7 1005.0,531.7 1007.0,531.7 1009.0,531.7 1011.0,531.7 1013.0,531.8 1015.0,531.8 1017.0,531.8 1019.0,531.8 1021.0,531.8 1023.1,531.8 1025.1,531.8 1027.1,531.8 1029.1,531.8 1031.1,531.8 1033.1,531.8 1035.1,531.8 1037.1,531.8 1039.1,531.8 1041.1,531.9 1043.1,531.9 1045.1,531.9 1047.1,531.9 1049.1,531.9 1051.1,531.9 1053.1,531.9 1055.1,531.9 1057.1,531.9 1059.2,531.9 1061.2,531.9 1063.2,531.9 1065.2,531.9 1067.2,531.9 1069.2,531.9 1071.2,532.0 1073.2,532.0 1075.2,532.0 1077.2,532.0 1079.2,532.0 1081.2,532.0 1083.2,532.0 1085.2,532.0 1087.2,532.0 1089.2,532.0 1091.2,532.0 1093.2,532.0 1095.3,532.0 1097.3,532.1 1099.3,532.1 1101.3,532.1 1103.3,532.0 1105.3,531.9 1107.3,531.7 1109.3,531.5 1111.3,531.3 1113.3,531.0 1115.3,530.8 1117.3,530.4 1119.3,530.4 1121.3,530.4 1123.3,530.4 1125.3,530.3 1127.3,530.3 1129.3,530.3 1131.4,530.2 1133.4,530.2 1135.4,530.2 1137.4,530.1 1139.4,530.1 1141.4,530.1 1143.4,530.0 1145.4,530.0 1147.4,529.9 1149.4,529.9 1151.4,529.8 1153.4,529.8 1155.4,529.7 1157.4,529.7 1159.4,529.6 1161.4,529.5 1163.4,529.4 1165.4,529.4 1167.5,529.3 1169.5,529.2 1171.5,529.0 1173.5,528.9 1175.5,528.8 1177.5,528.6 1179.5,528.5 1181.5,528.3 1183.5,528.1 1185.5,527.8 1187.5,527.5 1189.5,527.2 1191.5,526.9 1193.5,526.5 1195.5,526.1 1197.5,525.7 1199.5,525.1 1201.5,524.5 1203.6,523.9 1205.6,523.2 1207.6,522.4 1209.6,521.5 1211.6,520.5 1213.6,519.4 1215.6,518.2 1217.6,516.9 1219.6,515.5 1221.6,513.9 1223.6,512.1 1225.6,510.3 1227.6,508.2 1229.6,506.0 1231.6,503.6 1233.6,501.1 1235.6,498.3 1237.6,495.4 1239.7,492.2 1241.7,488.8 1243.7,485.3 1245.7,481.5 1247.7,477.5 1249.7,473.3 1251.7,468.9 1253.7,464.3 1255.7,459.5 1257.7,454.5 1259.7,449.4 1261.7,444.1 1263.7,438.6 1265.7,433.1 1267.7,427.4 1269.7,421.6 1271.7,415.8 1273.7,409.9 1275.8,404.1 1277.8,398.2 1279.8,392.4 1281.8,386.7 1283.8,381.1 1285.8,375.7 1287.8,370.4 1289.8,365.4 1291.8,360.6 1293.8,356.1 1295.8,351.9 1297.8,348.2 1299.8,344.8 1301.8,341.8 1303.8,339.3 1305.8,337.3 1307.8,335.8 1309.8,334.8 1311.9,334.3 1313.9,334.4 1315.9,335.0 1317.9,336.1 1319.9,337.8 1321.9,339.9 1323.9,342.6 1325.9,345.7 1327.9,349.2 1329.9,353.1 1331.9,357.4 1333.9,362.1 1335.9,367.0 1337.9,372.2 1339.9,377.6 1341.9,383.2 1343.9,389.0 1345.9,394.8 1348.0,400.8 1350.0,406.8 1352.0,412.9 1354.0,418.9 1356.0,424.9 1358.0,430.8 1360.0,436.6 1362.0,442.4 1364.0,448.0 1366.0,453.5 1368.0,458.8 1370.0,463.9 1372.0,468.9 1374.0,473.6 1376.0,478.2 1378.0,482.5 1380.0,486.7 1382.0,490.6 1384.1,494.3 1386.1,497.8 1388.1,501.1 1390.1,504.2 1392.1,507.1 1394.1,509.8 1396.1,512.3 1398.1,514.6 1400.1,516.8 1402.1,518.8 1404.1,520.6 1406.1,522.3 1408.1,523.8 1410.1,525.6 1412.1,527.4 1414.1,529.0 1416.1,530.5 1418.1,531.9 1420.2,533.2 1422.2,534.3 1424.2,535.4 1426.2,536.3 1428.2,537.1 1430.2,537.8 1432.2,538.5 1434.2,539.0 1436.2,539.5 1438.2,539.9 1440.2,540.2 1442.2,540.5 1444.2,540.8 1446.2,540.9 1448.2,540.9 1450.2,540.9 1452.2,540.9 1454.2,540.9 1456.3,540.9 1458.3,540.9 1460.3,540.9 1462.3,541.0 1464.3,541.0 1466.3,541.0 1468.3,541.0 1470.3,541.0 1472.3,541.0 1474.3,541.0 1476.3,541.0 1478.3,541.0 1480.3,541.0 1482.3,541.0 1484.3,541.0 1486.3,541.0 1488.3,541.1 1490.3,541.1 1492.4,541.1 1494.4,541.1 1496.4,541.1 1498.4,541.1 1500.4,541.1 1502.4,541.1 1504.4,541.1 1506.4,541.1 1508.4,541.1 1510.4,541.1 1512.4,541.1 1514.4,541.1 1516.4,541.2 1518.4,541.2 1520.4,541.2 1522.4,541.2 1524.4,541.2 1526.4,541.2 1528.5,541.2 1530.5,541.2 1532.5,541.2 1534.5,541.2 1536.5,541.2 1538.5,541.2 1540.5,541.2 1542.5,541.2 1544.5,541.3 1546.5,541.3 1548.5,541.3 1550.5,541.3 1552.5,541.3 1554.5,541.3 1556.5,541.3 1558.5,541.3 1560.5,541.3 1562.5,541.3 1564.6,541.3 1566.6,541.3 1568.6,541.3 1570.6,541.3 1572.6,541.3 1574.6,541.4 1576.6,541.4 1578.6,541.4 1580.6,541.4 1582.6,541.4 1584.6,541.4 1586.6,541.4 1588.6,541.4 1590.6,541.4 1592.6,541.4 1594.6,541.4 1596.6,541.4 1598.6,541.4 1600.7,541.4 1602.7,541.4 1604.7,541.5 1606.7,541.5 1608.7,541.5 1610.7,541.5 1612.7,541.5 1614.7,541.5 1616.7,541.5 1618.7,541.5 1618.7,541.5 1616.7,541.5 1614.7,541.5 1612.7,541.5 1610.7,541.5 1608.7,541.5 1606.7,541.5 1604.7,541.5 1602.7,541.4 1600.7,541.4 1598.6,541.4 1596.6,541.4 1594.6,541.4 1592.6,541.4 1590.6,541.4 1588.6,541.4 1586.6,541.4 1584.6,541.4 1582.6,541.4 1580.6,541.4 1578.6,541.4 1576.6,541.4 1574.6,541.4 1572.6,541.3 1570.6,541.3 1568.6,541.3 1566.6,541.3 1564.6,541.3 1562.5,541.3 1560.5,541.3 1558.5,541.3 1556.5,541.3 1554.5,541.3 1552.5,541.3 1550.5,541.3 1548.5,541.3 1546.5,541.3 1544.5,541.3 1542.5,541.2 1540.5,541.2 1538.5,541.2 1536.5,541.2 1534.5,541.2 1532.5,541.2 1530.5,541.2 1528.5,541.2 1526.4,541.2 1524.4,541.2 1522.4,541.2 1520.4,541.2 1518.4,541.2 1516.4,541.2 1514.4,541.1 1512.4,541.1 1510.4,541.1 1508.4,541.1 1506.4,541.1 1504.4,541.1 1502.4,541.1 1500.4,541.1 1498.4,541.1 1496.4,541.1 1494.4,541.1 1492.4,541.1 1490.3,541.1 1488.3,541.1 1486.3,541.0 1484.3,541.0 1482.3,541.0 1480.3,541.0 1478.3,541.0 1476.3,541.0 1474.3,541.0 1472.3,541.0 1470.3,541.0 1468.3,541.0 1466.3,541.0 1464.3,541.0 1462.3,541.0 1460.3,540.9 1458.3,540.9 1456.3,540.9 1454.2,540.9 1452.2,540.9 1450.2,540.9 1448.2,540.9 1446.2,540.9 1444.2,540.9 1442.2,540.9 1440.2,540.9 1438.2,540.9 1436.2,540.8 1434.2,540.8 1432.2,540.8 1430.2,540.8 1428.2,540.8 1426.2,540.8 1424.2,540.8 1422.2,540.8 1420.2,540.8 1418.1,540.8 1416.1,540.7 1414.1,540.7 1412.1,540.7 1410.1,540.7 1408.1,540.7 1406.1,540.7 1404.1,540.7 1402.1,540.6 1400.1,540.6 1398.1,540.6 1396.1,540.6 1394.1,540.6 1392.1,540.5 1390.1,540.5 1388.1,540.5 1386.1,540.5 1384.1,540.4 1382.0,540.4 1380.0,540.4 1378.0,540.4 1376.0,540.3 1374.0,540.3 1372.0,540.2 1370.0,540.2 1368.0,540.2 1366.0,540.1 1364.0,540.1 1362.0,540.0 1360.0,540.0 1358.0,539.9 1356.0,539.9 1354.0,539.8 1352.0,539.7 1350.0,539.7 1348.0,539.6 1345.9,539.5 1343.9,539.4 1341.9,539.4 1339.9,539.3 1337.9,539.2 1335.9,539.1 1333.9,539.0 1331.9,538.9 1329.9,538.8 1327.9,538.8 1325.9,538.7 1323.9,538.6 1321.9,538.5 1319.9,538.4 1317.9,538.3 1315.9,538.1 1313.9,538.0 1311.9,537.9 1309.8,537.8 1307.8,537.7 1305.8,537.6 1303.8,537.5 1301.8,537.4 1299.8,537.3 1297.8,537.2 1295.8,537.1 1293.8,537.0 1291.8,536.9 1289.8,536.8 1287.8,536.7 1285.8,536.6 1283.8,536.5 1281.8,536.4 1279.8,536.2 1277.8,536.1 1275.8,536.0 1273.7,535.9 1271.7,535.9 1269.7,535.8 1267.7,535.7 1265.7,535.6 1263.7,535.5 1261.7,535.4 1259.7,535.3 1257.7,535.2 1255.7,535.1 1253.7,535.0 1251.7,534.9 1249.7,534.8 1247.7,534.7 1245.7,534.6 1243.7,534.6 1241.7,534.5 1239.7,534.4 1237.6,534.3 1235.6,534.2 1233.6,534.1 1231.6,534.1 1229.6,534.0 1227.6,533.9 1225.6,533.8 1223.6,533.7 1221.6,533.7 1219.6,533.6 1217.6,533.5 1215.6,533.5 1213.6,533.4 1211.6,533.3 1209.6,533.3 1207.6,533.2 1205.6,533.2 1203.6,533.1 1201.5,533.1 1199.5,533.0 1197.5,533.0 1195.5,532.9 1193.5,532.9 1191.5,532.8 1189.5,532.8 1187.5,532.7 1185.5,532.7 1183.5,532.7 1181.5,532.6 1179.5,532.6 1177.5,532.6 1175.5,532.6 1173.5,532.5 1171.5,532.5 1169.5,532.5 1167.5,532.5 1165.4,532.4 1163.4,532.4 1161.4,532.4 1159.4,532.4 1157.4,532.4 1155.4,532.3 1153.4,532.3 1151.4,532.3 1149.4,532.3 1147.4,532.3 1145.4,532.3 1143.4,532.3 1141.4,532.3 1139.4,532.2 1137.4,532.2 1135.4,532.2 1133.4,532.2 1131.4,532.2 1129.3,532.2 1127.3,532.2 1125.3,532.2 1123.3,532.2 1121.3,532.2 1119.3,532.1 1117.3,532.1 1115.3,532.1 1113.3,532.1 1111.3,532.1 1109.3,532.1 1107.3,532.1 1105.3,532.1 1103.3,532.1 1101.3,532.1 1099.3,532.1 1097.3,532.1 1095.3,532.0 1093.2,532.0 1091.2,532.0 1089.2,532.0 1087.2,532.0 1085.2,532.0 1083.2,532.0 1081.2,532.0 1079.2,532.0 1077.2,532.0 1075.2,532.0 1073.2,532.0 1071.2,532.0 1069.2,531.9 1067.2,531.9 1065.2,531.9 1063.2,531.9 1061.2,531.9 1059.2,531.9 1057.1,531.9 1055.1,531.9 1053.1,531.9 1051.1,531.9 1049.1,531.9 1047.1,531.9 1045.1,531.9 1043.1,531.9 1041.1,531.9 1039.1,531.8 1037.1,531.8 1035.1,531.8 1033.1,531.8 1031.1,531.8 1029.1,531.8 1027.1,531.8 1025.1,531.8 1023.1,531.8 1021.0,531.8 1019.0,531.8 1017.0,531.8 1015.0,531.8 1013.0,531.8 1011.0,531.7 1009.0,531.7 1007.0,531.7 1005.0,531.7 1003.0,531.7 1001.0,531.7 999.0,531.7 997.0,531.7 995.0,531.7 993.0,531.7 991.0,531.7 989.0,531.7 987.0,531.7 984.9,531.7 982.9,531.7 980.9,531.6 978.9,531.6 976.9,531.6 974.9,531.6 972.9,531.6 970.9,531.6 968.9,531.6 966.9,531.6 Z" fill="url(#rg5)" stroke="none"/>
<path d="M966.9,531.6 968.9,531.6 970.9,531.6 972.9,531.6 974.9,531.6 976.9,531.6 978.9,531.6 980.9,531.6 982.9,531.7 984.9,531.7 987.0,531.7 989.0,531.7 991.0,531.7 993.0,531.7 995.0,531.7 997.0,531.7 999.0,531.7 1001.0,531.7 1003.0,531.7 1005.0,531.7 1007.0,531.7 1009.0,531.7 1011.0,531.7 1013.0,531.8 1015.0,531.8 1017.0,531.8 1019.0,531.8 1021.0,531.8 1023.1,531.8 1025.1,531.8 1027.1,531.8 1029.1,531.8 1031.1,531.8 1033.1,531.8 1035.1,531.8 1037.1,531.8 1039.1,531.8 1041.1,531.9 1043.1,531.9 1045.1,531.9 1047.1,531.9 1049.1,531.9 1051.1,531.9 1053.1,531.9 1055.1,531.9 1057.1,531.9 1059.2,531.9 1061.2,531.9 1063.2,531.9 1065.2,531.9 1067.2,531.9 1069.2,531.9 1071.2,532.0 1073.2,532.0 1075.2,532.0 1077.2,532.0 1079.2,532.0 1081.2,532.0 1083.2,532.0 1085.2,532.0 1087.2,532.0 1089.2,532.0 1091.2,532.0 1093.2,532.0 1095.3,532.0 1097.3,532.1 1099.3,532.1 1101.3,532.1 1103.3,532.0 1105.3,531.9 1107.3,531.7 1109.3,531.5 1111.3,531.3 1113.3,531.0 1115.3,530.8 1117.3,530.4 1119.3,530.4 1121.3,530.4 1123.3,530.4 1125.3,530.3 1127.3,530.3 1129.3,530.3 1131.4,530.2 1133.4,530.2 1135.4,530.2 1137.4,530.1 1139.4,530.1 1141.4,530.1 1143.4,530.0 1145.4,530.0 1147.4,529.9 1149.4,529.9 1151.4,529.8 1153.4,529.8 1155.4,529.7 1157.4,529.7 1159.4,529.6 1161.4,529.5 1163.4,529.4 1165.4,529.4 1167.5,529.3 1169.5,529.2 1171.5,529.0 1173.5,528.9 1175.5,528.8 1177.5,528.6 1179.5,528.5 1181.5,528.3 1183.5,528.1 1185.5,527.8 1187.5,527.5 1189.5,527.2 1191.5,526.9 1193.5,526.5 1195.5,526.1 1197.5,525.7 1199.5,525.1 1201.5,524.5 1203.6,523.9 1205.6,523.2 1207.6,522.4 1209.6,521.5 1211.6,520.5 1213.6,519.4 1215.6,518.2 1217.6,516.9 1219.6,515.5 1221.6,513.9 1223.6,512.1 1225.6,510.3 1227.6,508.2 1229.6,506.0 1231.6,503.6 1233.6,501.1 1235.6,498.3 1237.6,495.4 1239.7,492.2 1241.7,488.8 1243.7,485.3 1245.7,481.5 1247.7,477.5 1249.7,473.3 1251.7,468.9 1253.7,464.3 1255.7,459.5 1257.7,454.5 1259.7,449.4 1261.7,444.1 1263.7,438.6 1265.7,433.1 1267.7,427.4 1269.7,421.6 1271.7,415.8 1273.7,409.9 1275.8,404.1 1277.8,398.2 1279.8,392.4 1281.8,386.7 1283.8,381.1 1285.8,375.7 1287.8,370.4 1289.8,365.4 1291.8,360.6 1293.8,356.1 1295.8,351.9 1297.8,348.2 1299.8,344.8 1301.8,341.8 1303.8,339.3 1305.8,337.3 1307.8,335.8 1309.8,334.8 1311.9,334.3 1313.9,334.4 1315.9,335.0 1317.9,336.1 1319.9,337.8 1321.9,339.9 1323.9,342.6 1325.9,345.7 1327.9,349.2 1329.9,353.1 1331.9,357.4 1333.9,362.1 1335.9,367.0 1337.9,372.2 1339.9,377.6 1341.9,383.2 1343.9,389.0 1345.9,394.8 1348.0,400.8 1350.0,406.8 1352.0,412.9 1354.0,418.9 1356.0,424.9 1358.0,430.8 1360.0,436.6 1362.0,442.4 1364.0,448.0 1366.0,453.5 1368.0,458.8 1370.0,463.9 1372.0,468.9 1374.0,473.6 1376.0,478.2 1378.0,482.5 1380.0,486.7 1382.0,490.6 1384.1,494.3 1386.1,497.8 1388.1,501.1 1390.1,504.2 1392.1,507.1 1394.1,509.8 1396.1,512.3 1398.1,514.6 1400.1,516.8 1402.1,518.8 1404.1,520.6 1406.1,522.3 1408.1,523.8 1410.1,525.6 1412.1,527.4 1414.1,529.0 1416.1,530.5 1418.1,531.9 1420.2,533.2 1422.2,534.3 1424.2,535.4 1426.2,536.3 1428.2,537.1 1430.2,537.8 1432.2,538.5 1434.2,539.0 1436.2,539.5 1438.2,539.9 1440.2,540.2 1442.2,540.5 1444.2,540.8 1446.2,540.9 1448.2,540.9 1450.2,540.9 1452.2,540.9 1454.2,540.9 1456.3,540.9 1458.3,540.9 1460.3,540.9 1462.3,541.0 1464.3,541.0 1466.3,541.0 1468.3,541.0 1470.3,541.0 1472.3,541.0 1474.3,541.0 1476.3,541.0 1478.3,541.0 1480.3,541.0 1482.3,541.0 1484.3,541.0 1486.3,541.0 1488.3,541.1 1490.3,541.1 1492.4,541.1 1494.4,541.1 1496.4,541.1 1498.4,541.1 1500.4,541.1 1502.4,541.1 1504.4,541.1 1506.4,541.1 1508.4,541.1 1510.4,541.1 1512.4,541.1 1514.4,541.1 1516.4,541.2 1518.4,541.2 1520.4,541.2 1522.4,541.2 1524.4,541.2 1526.4,541.2 1528.5,541.2 1530.5,541.2 1532.5,541.2 1534.5,541.2 1536.5,541.2 1538.5,541.2 1540.5,541.2 1542.5,541.2 1544.5,541.3 1546.5,541.3 1548.5,541.3 1550.5,541.3 1552.5,541.3 1554.5,541.3 1556.5,541.3 1558.5,541.3 1560.5,541.3 1562.5,541.3 1564.6,541.3 1566.6,541.3 1568.6,541.3 1570.6,541.3 1572.6,541.3 1574.6,541.4 1576.6,541.4 1578.6,541.4 1580.6,541.4 1582.6,541.4 1584.6,541.4 1586.6,541.4 1588.6,541.4 1590.6,541.4 1592.6,541.4 1594.6,541.4 1596.6,541.4 1598.6,541.4 1600.7,541.4 1602.7,541.4 1604.7,541.5 1606.7,541.5 1608.7,541.5 1610.7,541.5 1612.7,541.5 1614.7,541.5 1616.7,541.5 1618.7,541.5" fill="none" stroke="#ff3333" stroke-width="3.6" stroke-opacity="0.9" stroke-linejoin="round"/>
<path d="M966.9,531.6 968.9,531.6 970.9,531.6 972.9,531.6 974.9,531.6 976.9,531.6 978.9,531.6 980.9,531.6 982.9,531.7 984.9,531.7 987.0,531.7 989.0,531.7 991.0,531.7 993.0,531.7 995.0,531.7 997.0,531.7 999.0,531.7 1001.0,531.7 1003.0,531.7 1005.0,531.7 1007.0,531.7 1009.0,531.7 1011.0,531.7 1013.0,531.8 1015.0,531.8 1017.0,531.8 1019.0,531.8 1021.0,531.8 1023.1,531.8 1025.1,531.8 1027.1,531.8 1029.1,531.8 1031.1,531.8 1033.1,531.8 1035.1,531.8 1037.1,531.8 1039.1,531.8 1041.1,531.9 1043.1,531.9 1045.1,531.9 1047.1,531.9 1049.1,531.9 1051.1,531.9 1053.1,531.9 1055.1,531.9 1057.1,531.9 1059.2,531.9 1061.2,531.9 1063.2,531.9 1065.2,531.9 1067.2,531.9 1069.2,531.9 1071.2,532.0 1073.2,532.0 1075.2,532.0 1077.2,532.0 1079.2,532.0 1081.2,532.0 1083.2,532.0 1085.2,532.0 1087.2,532.0 1089.2,532.0 1091.2,532.0 1093.2,532.0 1095.3,532.0 1097.3,532.1 1099.3,532.1 1101.3,532.1 1103.3,532.0 1105.3,531.9 1107.3,531.7 1109.3,531.5 1111.3,531.3 1113.3,531.0 1115.3,530.8 1117.3,530.4 1119.3,530.1 1121.3,529.7 1123.3,529.3 1125.3,528.8 1127.3,528.2 1129.3,527.6 1131.4,526.9 1133.4,526.2 1135.4,525.4 1137.4,524.5 1139.4,523.5 1141.4,522.4 1143.4,521.3 1145.4,520.0 1147.4,518.6 1149.4,517.1 1151.4,515.5 1153.4,513.7 1155.4,512.0 1157.4,510.2 1159.4,508.2 1161.4,506.1 1163.4,503.9 1165.4,501.5 1167.5,498.9 1169.5,496.2 1171.5,493.4 1173.5,490.4 1175.5,487.2 1177.5,483.9 1179.5,480.5 1181.5,477.0 1183.5,473.3 1185.5,469.5 1187.5,465.6 1189.5,461.6 1191.5,457.6 1193.5,453.5 1195.5,449.4 1197.5,445.2 1199.5,441.1 1201.5,436.9 1203.6,432.9 1205.6,428.9 1207.6,424.9 1209.6,421.2 1211.6,417.6 1213.6,414.1 1215.6,410.9 1217.6,407.9 1219.6,405.1 1221.6,402.7 1223.6,400.5 1225.6,398.7 1227.6,397.2 1229.6,396.1 1231.6,395.4 1233.6,395.1 1235.6,395.1 1237.6,395.5 1239.7,396.4 1241.7,397.6 1243.7,399.1 1245.7,401.1 1247.7,403.3 1249.7,405.9 1251.7,408.7 1253.7,411.8 1255.7,415.2 1257.7,418.8 1259.7,422.5 1261.7,426.4 1263.7,430.4 1265.7,434.6 1267.7,438.8 1269.7,443.0 1271.7,447.3 1273.7,451.6 1275.8,455.9 1277.8,460.2 1279.8,464.4 1281.8,468.5 1283.8,472.5 1285.8,476.5 1287.8,480.3 1289.8,484.0 1291.8,487.6 1293.8,491.1 1295.8,494.4 1297.8,497.5 1299.8,500.5 1301.8,503.4 1303.8,506.1 1305.8,508.6 1307.8,511.0 1309.8,513.3 1311.9,515.4 1313.9,517.4 1315.9,519.2 1317.9,520.9 1319.9,522.5 1321.9,523.9 1323.9,525.3 1325.9,526.5 1327.9,527.6 1329.9,528.7 1331.9,529.6 1333.9,530.5 1335.9,531.3 1337.9,532.0 1339.9,532.7 1341.9,533.3 1343.9,533.9 1345.9,534.4 1348.0,534.8 1350.0,535.2 1352.0,535.6 1354.0,535.9 1356.0,536.2 1358.0,536.5 1360.0,536.8 1362.0,537.0 1364.0,537.2 1366.0,537.4 1368.0,537.6 1370.0,537.7 1372.0,537.9 1374.0,538.0 1376.0,538.1 1378.0,538.3 1380.0,538.4 1382.0,538.5 1384.1,538.5 1386.1,538.6 1388.1,538.7 1390.1,538.8 1392.1,538.9 1394.1,538.9 1396.1,539.0 1398.1,539.1 1400.1,539.1 1402.1,539.2 1404.1,539.2 1406.1,539.3 1408.1,539.3 1410.1,539.4 1412.1,539.4 1414.1,539.4 1416.1,539.5 1418.1,539.5 1420.2,539.6 1422.2,539.6 1424.2,539.6 1426.2,539.7 1428.2,539.7 1430.2,539.7 1432.2,539.8 1434.2,539.8 1436.2,539.8 1438.2,539.9 1440.2,540.2 1442.2,540.5 1444.2,540.8 1446.2,540.9 1448.2,540.9 1450.2,540.9 1452.2,540.9 1454.2,540.9 1456.3,540.9 1458.3,540.9 1460.3,540.9 1462.3,541.0 1464.3,541.0 1466.3,541.0 1468.3,541.0 1470.3,541.0 1472.3,541.0 1474.3,541.0 1476.3,541.0 1478.3,541.0 1480.3,541.0 1482.3,541.0 1484.3,541.0 1486.3,541.0 1488.3,541.1 1490.3,541.1 1492.4,541.1 1494.4,541.1 1496.4,541.1 1498.4,541.1 1500.4,541.1 1502.4,541.1 1504.4,541.1 1506.4,541.1 1508.4,541.1 1510.4,541.1 1512.4,541.1 1514.4,541.1 1516.4,541.2 1518.4,541.2 1520.4,541.2 1522.4,541.2 1524.4,541.2 1526.4,541.2 1528.5,541.2 1530.5,541.2 1532.5,541.2 1534.5,541.2 1536.5,541.2 1538.5,541.2 1540.5,541.2 1542.5,541.2 1544.5,541.3 1546.5,541.3 1548.5,541.3 1550.5,541.3 1552.5,541.3 1554.5,541.3 1556.5,541.3 1558.5,541.3 1560.5,541.3 1562.5,541.3 1564.6,541.3 1566.6,541.3 1568.6,541.3 1570.6,541.3 1572.6,541.3 1574.6,541.4 1576.6,541.4 1578.6,541.4 1580.6,541.4 1582.6,541.4 1584.6,541.4 1586.6,541.4 1588.6,541.4 1590.6,541.4 1592.6,541.4 1594.6,541.4 1596.6,541.4 1598.6,541.4 1600.7,541.4 1602.7,541.4 1604.7,541.5 1606.7,541.5 1608.7,541.5 1610.7,541.5 1612.7,541.5 1614.7,541.5 1616.7,541.5 1618.7,541.5 1618.7,541.5 1616.7,541.5 1614.7,541.5 1612.7,541.5 1610.7,541.5 1608.7,541.5 1606.7,541.5 1604.7,541.5 1602.7,541.4 1600.7,541.4 1598.6,541.4 1596.6,541.4 1594.6,541.4 1592.6,541.4 1590.6,541.4 1588.6,541.4 1586.6,541.4 1584.6,541.4 1582.6,541.4 1580.6,541.4 1578.6,541.4 1576.6,541.4 1574.6,541.4 1572.6,541.3 1570.6,541.3 1568.6,541.3 1566.6,541.3 1564.6,541.3 1562.5,541.3 1560.5,541.3 1558.5,541.3 1556.5,541.3 1554.5,541.3 1552.5,541.3 1550.5,541.3 1548.5,541.3 1546.5,541.3 1544.5,541.3 1542.5,541.2 1540.5,541.2 1538.5,541.2 1536.5,541.2 1534.5,541.2 1532.5,541.2 1530.5,541.2 1528.5,541.2 1526.4,541.2 1524.4,541.2 1522.4,541.2 1520.4,541.2 1518.4,541.2 1516.4,541.2 1514.4,541.1 1512.4,541.1 1510.4,541.1 1508.4,541.1 1506.4,541.1 1504.4,541.1 1502.4,541.1 1500.4,541.1 1498.4,541.1 1496.4,541.1 1494.4,541.1 1492.4,541.1 1490.3,541.1 1488.3,541.1 1486.3,541.0 1484.3,541.0 1482.3,541.0 1480.3,541.0 1478.3,541.0 1476.3,541.0 1474.3,541.0 1472.3,541.0 1470.3,541.0 1468.3,541.0 1466.3,541.0 1464.3,541.0 1462.3,541.0 1460.3,540.9 1458.3,540.9 1456.3,540.9 1454.2,540.9 1452.2,540.9 1450.2,540.9 1448.2,540.9 1446.2,540.9 1444.2,540.9 1442.2,540.9 1440.2,540.9 1438.2,540.9 1436.2,540.8 1434.2,540.8 1432.2,540.8 1430.2,540.8 1428.2,540.8 1426.2,540.8 1424.2,540.8 1422.2,540.8 1420.2,540.8 1418.1,540.8 1416.1,540.7 1414.1,540.7 1412.1,540.7 1410.1,540.7 1408.1,540.7 1406.1,540.7 1404.1,540.7 1402.1,540.6 1400.1,540.6 1398.1,540.6 1396.1,540.6 1394.1,540.6 1392.1,540.5 1390.1,540.5 1388.1,540.5 1386.1,540.5 1384.1,540.4 1382.0,540.4 1380.0,540.4 1378.0,540.4 1376.0,540.3 1374.0,540.3 1372.0,540.2 1370.0,540.2 1368.0,540.2 1366.0,540.1 1364.0,540.1 1362.0,540.0 1360.0,540.0 1358.0,539.9 1356.0,539.9 1354.0,539.8 1352.0,539.7 1350.0,539.7 1348.0,539.6 1345.9,539.5 1343.9,539.4 1341.9,539.4 1339.9,539.3 1337.9,539.2 1335.9,539.1 1333.9,539.0 1331.9,538.9 1329.9,538.8 1327.9,538.8 1325.9,538.7 1323.9,538.6 1321.9,538.5 1319.9,538.4 1317.9,538.3 1315.9,538.1 1313.9,538.0 1311.9,537.9 1309.8,537.8 1307.8,537.7 1305.8,537.6 1303.8,537.5 1301.8,537.4 1299.8,537.3 1297.8,537.2 1295.8,537.1 1293.8,537.0 1291.8,536.9 1289.8,536.8 1287.8,536.7 1285.8,536.6 1283.8,536.5 1281.8,536.4 1279.8,536.2 1277.8,536.1 1275.8,536.0 1273.7,535.9 1271.7,535.9 1269.7,535.8 1267.7,535.7 1265.7,535.6 1263.7,535.5 1261.7,535.4 1259.7,535.3 1257.7,535.2 1255.7,535.1 1253.7,535.0 1251.7,534.9 1249.7,534.8 1247.7,534.7 1245.7,534.6 1243.7,534.6 1241.7,534.5 1239.7,534.4 1237.6,534.3 1235.6,534.2 1233.6,534.1 1231.6,534.1 1229.6,534.0 1227.6,533.9 1225.6,533.8 1223.6,533.7 1221.6,533.7 1219.6,533.6 1217.6,533.5 1215.6,533.5 1213.6,533.4 1211.6,533.3 1209.6,533.3 1207.6,533.2 1205.6,533.2 1203.6,533.1 1201.5,533.1 1199.5,533.0 1197.5,533.0 1195.5,532.9 1193.5,532.9 1191.5,532.8 1189.5,532.8 1187.5,532.7 1185.5,532.7 1183.5,532.7 1181.5,532.6 1179.5,532.6 1177.5,532.6 1175.5,532.6 1173.5,532.5 1171.5,532.5 1169.5,532.5 1167.5,532.5 1165.4,532.4 1163.4,532.4 1161.4,532.4 1159.4,532.4 1157.4,532.4 1155.4,532.3 1153.4,532.3 1151.4,532.3 1149.4,532.3 1147.4,532.3 1145.4,532.3 1143.4,532.3 1141.4,532.3 1139.4,532.2 1137.4,532.2 1135.4,532.2 1133.4,532.2 1131.4,532.2 1129.3,532.2 1127.3,532.2 1125.3,532.2 1123.3,532.2 1121.3,532.2 1119.3,532.1 1117.3,532.1 1115.3,532.1 1113.3,532.1 1111.3,532.1 1109.3,532.1 1107.3,532.1 1105.3,532.1 1103.3,532.1 1101.3,532.1 1099.3,532.1 1097.3,532.1 1095.3,532.0 1093.2,532.0 1091.2,532.0 1089.2,532.0 1087.2,532.0 1085.2,532.0 1083.2,532.0 1081.2,532.0 1079.2,532.0 1077.2,532.0 1075.2,532.0 1073.2,532.0 1071.2,532.0 1069.2,531.9 1067.2,531.9 1065.2,531.9 1063.2,531.9 1061.2,531.9 1059.2,531.9 1057.1,531.9 1055.1,531.9 1053.1,531.9 1051.1,531.9 1049.1,531.9 1047.1,531.9 1045.1,531.9 1043.1,531.9 1041.1,531.9 1039.1,531.8 1037.1,531.8 1035.1,531.8 1033.1,531.8 1031.1,531.8 1029.1,531.8 1027.1,531.8 1025.1,531.8 1023.1,531.8 1021.0,531.8 1019.0,531.8 1017.0,531.8 1015.0,531.8 1013.0,531.8 1011.0,531.7 1009.0,531.7 1007.0,531.7 1005.0,531.7 1003.0,531.7 1001.0,531.7 999.0,531.7 997.0,531.7 995.0,531.7 993.0,531.7 991.0,531.7 989.0,531.7 987.0,531.7 984.9,531.7 982.9,531.7 980.9,531.6 978.9,531.6 976.9,531.6 974.9,531.6 972.9,531.6 970.9,531.6 968.9,531.6 966.9,531.6 Z" fill="url(#gg5)" fill-opacity="0.68" stroke="none"/>
<path d="M966.9,531.6 968.9,531.6 970.9,531.6 972.9,531.6 974.9,531.6 976.9,531.6 978.9,531.6 980.9,531.6 982.9,531.7 984.9,531.7 987.0,531.7 989.0,531.7 991.0,531.7 993.0,531.7 995.0,531.7 997.0,531.7 999.0,531.7 1001.0,531.7 1003.0,531.7 1005.0,531.7 1007.0,531.7 1009.0,531.7 1011.0,531.7 1013.0,531.8 1015.0,531.8 1017.0,531.8 1019.0,531.8 1021.0,531.8 1023.1,531.8 1025.1,531.8 1027.1,531.8 1029.1,531.8 1031.1,531.8 1033.1,531.8 1035.1,531.8 1037.1,531.8 1039.1,531.8 1041.1,531.9 1043.1,531.9 1045.1,531.9 1047.1,531.9 1049.1,531.9 1051.1,531.9 1053.1,531.9 1055.1,531.9 1057.1,531.9 1059.2,531.9 1061.2,531.9 1063.2,531.9 1065.2,531.9 1067.2,531.9 1069.2,531.9 1071.2,532.0 1073.2,532.0 1075.2,532.0 1077.2,532.0 1079.2,532.0 1081.2,532.0 1083.2,532.0 1085.2,532.0 1087.2,532.0 1089.2,532.0 1091.2,532.0 1093.2,532.0 1095.3,532.0 1097.3,532.1 1099.3,532.1 1101.3,532.1 1103.3,532.0 1105.3,531.9 1107.3,531.7 1109.3,531.5 1111.3,531.3 1113.3,531.0 1115.3,530.8 1117.3,530.4 1119.3,530.1 1121.3,529.7 1123.3,529.3 1125.3,528.8 1127.3,528.2 1129.3,527.6 1131.4,526.9 1133.4,526.2 1135.4,525.4 1137.4,524.5 1139.4,523.5 1141.4,522.4 1143.4,521.3 1145.4,520.0 1147.4,518.6 1149.4,517.1 1151.4,515.5 1153.4,513.7 1155.4,512.0 1157.4,510.2 1159.4,508.2 1161.4,506.1 1163.4,503.9 1165.4,501.5 1167.5,498.9 1169.5,496.2 1171.5,493.4 1173.5,490.4 1175.5,487.2 1177.5,483.9 1179.5,480.5 1181.5,477.0 1183.5,473.3 1185.5,469.5 1187.5,465.6 1189.5,461.6 1191.5,457.6 1193.5,453.5 1195.5,449.4 1197.5,445.2 1199.5,441.1 1201.5,436.9 1203.6,432.9 1205.6,428.9 1207.6,424.9 1209.6,421.2 1211.6,417.6 1213.6,414.1 1215.6,410.9 1217.6,407.9 1219.6,405.1 1221.6,402.7 1223.6,400.5 1225.6,398.7 1227.6,397.2 1229.6,396.1 1231.6,395.4 1233.6,395.1 1235.6,395.1 1237.6,395.5 1239.7,396.4 1241.7,397.6 1243.7,399.1 1245.7,401.1 1247.7,403.3 1249.7,405.9 1251.7,408.7 1253.7,411.8 1255.7,415.2 1257.7,418.8 1259.7,422.5 1261.7,426.4 1263.7,430.4 1265.7,434.6 1267.7,438.8 1269.7,443.0 1271.7,447.3 1273.7,451.6 1275.8,455.9 1277.8,460.2 1279.8,464.4 1281.8,468.5 1283.8,472.5 1285.8,476.5 1287.8,480.3 1289.8,484.0 1291.8,487.6 1293.8,491.1 1295.8,494.4 1297.8,497.5 1299.8,500.5 1301.8,503.4 1303.8,506.1 1305.8,508.6 1307.8,511.0 1309.8,513.3 1311.9,515.4 1313.9,517.4 1315.9,519.2 1317.9,520.9 1319.9,522.5 1321.9,523.9 1323.9,525.3 1325.9,526.5 1327.9,527.6 1329.9,528.7 1331.9,529.6 1333.9,530.5 1335.9,531.3 1337.9,532.0 1339.9,532.7 1341.9,533.3 1343.9,533.9 1345.9,534.4 1348.0,534.8 1350.0,535.2 1352.0,535.6 1354.0,535.9 1356.0,536.2 1358.0,536.5 1360.0,536.8 1362.0,537.0 1364.0,537.2 1366.0,537.4 1368.0,537.6 1370.0,537.7 1372.0,537.9 1374.0,538.0 1376.0,538.1 1378.0,538.3 1380.0,538.4 1382.0,538.5 1384.1,538.5 1386.1,538.6 1388.1,538.7 1390.1,538.8 1392.1,538.9 1394.1,538.9 1396.1,539.0 1398.1,539.1 1400.1,539.1 1402.1,539.2 1404.1,539.2 1406.1,539.3 1408.1,539.3 1410.1,539.4 1412.1,539.4 1414.1,539.4 1416.1,539.5 1418.1,539.5 1420.2,539.6 1422.2,539.6 1424.2,539.6 1426.2,539.7 1428.2,539.7 1430.2,539.7 1432.2,539.8 1434.2,539.8 1436.2,539.8 1438.2,539.9 1440.2,540.2 1442.2,540.5 1444.2,540.8 1446.2,540.9 1448.2,540.9 1450.2,540.9 1452.2,540.9 1454.2,540.9 1456.3,540.9 1458.3,540.9 1460.3,540.9 1462.3,541.0 1464.3,541.0 1466.3,541.0 1468.3,541.0 1470.3,541.0 1472.3,541.0 1474.3,541.0 1476.3,541.0 1478.3,541.0 1480.3,541.0 1482.3,541.0 1484.3,541.0 1486.3,541.0 1488.3,541.1 1490.3,541.1 1492.4,541.1 1494.4,541.1 1496.4,541.1 1498.4,541.1 1500.4,541.1 1502.4,541.1 1504.4,541.1 1506.4,541.1 1508.4,541.1 1510.4,541.1 1512.4,541.1 1514.4,541.1 1516.4,541.2 1518.4,541.2 1520.4,541.2 1522.4,541.2 1524.4,541.2 1526.4,541.2 1528.5,541.2 1530.5,541.2 1532.5,541.2 1534.5,541.2 1536.5,541.2 1538.5,541.2 1540.5,541.2 1542.5,541.2 1544.5,541.3 1546.5,541.3 1548.5,541.3 1550.5,541.3 1552.5,541.3 1554.5,541.3 1556.5,541.3 1558.5,541.3 1560.5,541.3 1562.5,541.3 1564.6,541.3 1566.6,541.3 1568.6,541.3 1570.6,541.3 1572.6,541.3 1574.6,541.4 1576.6,541.4 1578.6,541.4 1580.6,541.4 1582.6,541.4 1584.6,541.4 1586.6,541.4 1588.6,541.4 1590.6,541.4 1592.6,541.4 1594.6,541.4 1596.6,541.4 1598.6,541.4 1600.7,541.4 1602.7,541.4 1604.7,541.5 1606.7,541.5 1608.7,541.5 1610.7,541.5 1612.7,541.5 1614.7,541.5 1616.7,541.5 1618.7,541.5" fill="none" stroke="#33f533" stroke-width="3.8" stroke-opacity="0.9" stroke-linejoin="round"/>
<line x1="966.90" y1="534.10" x2="1618.70" y2="539.50" stroke="#5ec93a" stroke-width="2.6"/>
<path d="M966.9,531.6 968.9,531.6 970.9,531.6 972.9,531.6 974.9,531.6 976.9,531.6 978.9,531.6 980.9,531.6 982.9,531.7 984.9,531.7 987.0,531.7 989.0,531.7 991.0,531.7 993.0,531.7 995.0,531.7 997.0,531.7 999.0,531.7 1001.0,531.7 1003.0,531.7 1005.0,531.7 1007.0,531.7 1009.0,531.7 1011.0,531.7 1013.0,531.8 1015.0,531.8 1017.0,531.8 1019.0,531.8 1021.0,531.8 1023.1,531.8 1025.1,531.8 1027.1,531.8 1029.1,531.8 1031.1,531.8 1033.1,531.8 1035.1,531.8 1037.1,531.8 1039.1,531.8 1041.1,531.9 1043.1,531.9 1045.1,531.9 1047.1,531.9 1049.1,531.9 1051.1,531.9 1053.1,531.9 1055.1,531.9 1057.1,531.9 1059.2,531.9 1061.2,531.9 1063.2,531.9 1065.2,531.9 1067.2,531.9 1069.2,531.9 1071.2,532.0 1073.2,532.0 1075.2,532.0 1077.2,532.0 1079.2,532.0 1081.2,532.0 1083.2,532.0 1085.2,532.0 1087.2,532.0 1089.2,532.0 1091.2,532.0 1093.2,532.0 1095.3,532.0 1097.3,532.1 1099.3,532.1 1101.3,532.1 1103.3,532.1 1105.3,532.1 1107.3,532.1 1109.3,532.1 1111.3,532.1 1113.3,532.1 1115.3,532.1 1117.3,532.1 1119.3,532.1 1121.3,532.2 1123.3,532.2 1125.3,532.2 1127.3,532.2 1129.3,532.2 1131.4,532.2 1133.4,532.2 1135.4,532.2 1137.4,532.2 1139.4,532.2 1141.4,532.3 1143.4,532.3 1145.4,532.3 1147.4,532.3 1149.4,532.3 1151.4,532.3 1153.4,532.3 1155.4,532.3 1157.4,532.4 1159.4,532.4 1161.4,532.4 1163.4,532.4 1165.4,532.4 1167.5,532.5 1169.5,532.5 1171.5,532.5 1173.5,532.5 1175.5,532.6 1177.5,532.6 1179.5,532.6 1181.5,532.6 1183.5,532.7 1185.5,532.7 1187.5,532.7 1189.5,532.8 1191.5,532.8 1193.5,532.9 1195.5,532.9 1197.5,533.0 1199.5,533.0 1201.5,533.1 1203.6,533.1 1205.6,533.2 1207.6,533.2 1209.6,533.3 1211.6,533.3 1213.6,533.4 1215.6,533.5 1217.6,533.5 1219.6,533.6 1221.6,533.7 1223.6,533.7 1225.6,533.8 1227.6,533.9 1229.6,534.0 1231.6,534.1 1233.6,534.1 1235.6,534.2 1237.6,534.3 1239.7,534.4 1241.7,534.5 1243.7,534.6 1245.7,534.6 1247.7,534.7 1249.7,534.8 1251.7,534.9 1253.7,535.0 1255.7,535.1 1257.7,535.2 1259.7,535.3 1261.7,535.4 1263.7,535.5 1265.7,535.6 1267.7,535.7 1269.7,535.8 1271.7,535.9 1273.7,535.9 1275.8,536.0 1277.8,536.1 1279.8,536.2 1281.8,536.4 1283.8,536.5 1285.8,536.6 1287.8,536.7 1289.8,536.8 1291.8,536.9 1293.8,537.0 1295.8,537.1 1297.8,537.2 1299.8,537.3 1301.8,537.4 1303.8,537.5 1305.8,537.6 1307.8,537.7 1309.8,537.8 1311.9,537.9 1313.9,538.0 1315.9,538.1 1317.9,538.3 1319.9,538.4 1321.9,538.5 1323.9,538.6 1325.9,538.7 1327.9,538.8 1329.9,538.8 1331.9,538.9 1333.9,539.0 1335.9,539.1 1337.9,539.2 1339.9,539.3 1341.9,539.4 1343.9,539.4 1345.9,539.5 1348.0,539.6 1350.0,539.7 1352.0,539.7 1354.0,539.8 1356.0,539.9 1358.0,539.9 1360.0,540.0 1362.0,540.0 1364.0,540.1 1366.0,540.1 1368.0,540.2 1370.0,540.2 1372.0,540.2 1374.0,540.3 1376.0,540.3 1378.0,540.4 1380.0,540.4 1382.0,540.4 1384.1,540.4 1386.1,540.5 1388.1,540.5 1390.1,540.5 1392.1,540.5 1394.1,540.6 1396.1,540.6 1398.1,540.6 1400.1,540.6 1402.1,540.6 1404.1,540.7 1406.1,540.7 1408.1,540.7 1410.1,540.7 1412.1,540.7 1414.1,540.7 1416.1,540.7 1418.1,540.8 1420.2,540.8 1422.2,540.8 1424.2,540.8 1426.2,540.8 1428.2,540.8 1430.2,540.8 1432.2,540.8 1434.2,540.8 1436.2,540.8 1438.2,540.9 1440.2,540.9 1442.2,540.9 1444.2,540.9 1446.2,540.9 1448.2,540.9 1450.2,540.9 1452.2,540.9 1454.2,540.9 1456.3,540.9 1458.3,540.9 1460.3,540.9 1462.3,541.0 1464.3,541.0 1466.3,541.0 1468.3,541.0 1470.3,541.0 1472.3,541.0 1474.3,541.0 1476.3,541.0 1478.3,541.0 1480.3,541.0 1482.3,541.0 1484.3,541.0 1486.3,541.0 1488.3,541.1 1490.3,541.1 1492.4,541.1 1494.4,541.1 1496.4,541.1 1498.4,541.1 1500.4,541.1 1502.4,541.1 1504.4,541.1 1506.4,541.1 1508.4,541.1 1510.4,541.1 1512.4,541.1 1514.4,541.1 1516.4,541.2 1518.4,541.2 1520.4,541.2 1522.4,541.2 1524.4,541.2 1526.4,541.2 1528.5,541.2 1530.5,541.2 1532.5,541.2 1534.5,541.2 1536.5,541.2 1538.5,541.2 1540.5,541.2 1542.5,541.2 1544.5,541.3 1546.5,541.3 1548.5,541.3 1550.5,541.3 1552.5,541.3 1554.5,541.3 1556.5,541.3 1558.5,541.3 1560.5,541.3 1562.5,541.3 1564.6,541.3 1566.6,541.3 1568.6,541.3 1570.6,541.3 1572.6,541.3 1574.6,541.4 1576.6,541.4 1578.6,541.4 1580.6,541.4 1582.6,541.4 1584.6,541.4 1586.6,541.4 1588.6,541.4 1590.6,541.4 1592.6,541.4 1594.6,541.4 1596.6,541.4 1598.6,541.4 1600.7,541.4 1602.7,541.4 1604.7,541.5 1606.7,541.5 1608.7,541.5 1610.7,541.5 1612.7,541.5 1614.7,541.5 1616.7,541.5 1618.7,541.5" fill="none" stroke="#1515b0" stroke-width="1.3"/>
<path d="M966.9,530.9 971.9,530.5 976.9,531.0 981.9,530.2 987.0,530.4 992.0,529.7 997.0,530.6 1002.0,530.9 1007.0,531.6 1012.0,531.4 1017.0,531.5 1022.1,531.4 1027.1,531.1 1032.1,531.2 1037.1,530.8 1042.1,530.8 1047.1,531.2 1052.1,531.3 1057.1,531.1 1062.2,532.2 1067.2,532.0 1072.2,531.5 1077.2,531.5 1082.2,531.2 1087.2,530.9 1092.2,530.6 1097.3,531.4 1102.3,531.0 1107.3,530.5 1112.3,530.2 1117.3,530.1 1122.3,528.5 1127.3,526.3 1132.4,525.3 1137.4,521.4 1142.4,517.9 1147.4,514.7 1152.4,512.1 1157.4,506.6 1162.4,499.1 1167.5,493.9 1172.5,486.3 1177.5,477.7 1182.5,469.0 1187.5,459.0 1192.5,448.0 1197.5,435.5 1202.6,424.6 1207.6,411.9 1212.6,397.5 1217.6,387.1 1222.6,378.7 1227.6,369.5 1232.6,359.6 1237.6,352.2 1242.7,347.9 1247.7,341.6 1252.7,338.1 1257.7,337.7 1262.7,335.6 1267.7,332.8 1272.7,326.8 1277.8,325.7 1282.8,323.0 1287.8,319.2 1292.8,314.8 1297.8,309.3 1302.8,305.8 1307.8,309.7 1312.9,316.0 1317.9,318.6 1322.9,325.3 1327.9,338.0 1332.9,347.4 1337.9,359.0 1342.9,374.8 1348.0,388.9 1353.0,406.5 1358.0,426.0 1363.0,443.6 1368.0,458.5 1373.0,467.8 1378.0,481.3 1383.0,489.6 1388.1,496.8 1393.1,502.9 1398.1,507.0 1403.1,511.9 1408.1,517.1 1413.1,524.1 1418.1,528.2 1423.2,531.8 1428.2,534.5 1433.2,536.9 1438.2,538.4 1443.2,539.3 1448.2,539.2 1453.2,538.1 1458.3,538.9 1463.3,539.4 1468.3,540.3 1473.3,540.3 1478.3,540.1 1483.3,540.5 1488.3,539.8 1493.4,539.6 1498.4,539.5 1503.4,539.9 1508.4,541.1 1513.4,541.3 1518.4,541.7 1523.4,541.6 1528.5,541.6 1533.5,541.2 1538.5,541.1 1543.5,540.0 1548.5,539.8 1553.5,539.6 1558.5,540.3 1563.5,540.8 1568.6,541.4 1573.6,542.0 1578.6,541.7 1583.6,542.0 1588.6,542.6 1593.6,542.3 1598.6,542.5 1603.7,542.1 1608.7,541.3 1613.7,541.3 1618.7,541.0" fill="none" stroke="#1a1a1a" stroke-width="1.3" stroke-linejoin="round"/>
<path d="M966.9,531.4 968.9,531.4 970.9,531.4 972.9,531.4 974.9,531.4 976.9,531.4 978.9,531.4 980.9,531.4 982.9,531.4 984.9,531.4 987.0,531.4 989.0,531.4 991.0,531.4 993.0,531.4 995.0,531.4 997.0,531.4 999.0,531.4 1001.0,531.4 1003.0,531.4 1005.0,531.4 1007.0,531.4 1009.0,531.4 1011.0,531.4 1013.0,531.4 1015.0,531.4 1017.0,531.4 1019.0,531.4 1021.0,531.4 1023.1,531.4 1025.1,531.4 1027.1,531.4 1029.1,531.4 1031.1,531.4 1033.1,531.4 1035.1,531.4 1037.1,531.4 1039.1,531.4 1041.1,531.4 1043.1,531.4 1045.1,531.4 1047.1,531.4 1049.1,531.4 1051.1,531.4 1053.1,531.4 1055.1,531.4 1057.1,531.4 1059.2,531.4 1061.2,531.4 1063.2,531.4 1065.2,531.4 1067.2,531.4 1069.2,531.4 1071.2,531.4 1073.2,531.3 1075.2,531.3 1077.2,531.3 1079.2,531.3 1081.2,531.2 1083.2,531.2 1085.2,531.2 1087.2,531.1 1089.2,531.1 1091.2,531.0 1093.2,530.9 1095.3,530.9 1097.3,530.8 1099.3,530.7 1101.3,530.6 1103.3,530.4 1105.3,530.3 1107.3,530.1 1109.3,529.9 1111.3,529.7 1113.3,529.4 1115.3,529.2 1117.3,528.8 1119.3,528.5 1121.3,528.1 1123.3,527.7 1125.3,527.2 1127.3,526.6 1129.3,526.0 1131.4,525.3 1133.4,524.6 1135.4,523.8 1137.4,522.9 1139.4,521.9 1141.4,520.8 1143.4,519.7 1145.4,518.4 1147.4,517.0 1149.4,515.5 1151.4,513.9 1153.4,512.1 1155.4,510.2 1157.4,508.2 1159.4,506.0 1161.4,503.7 1163.4,501.2 1165.4,498.6 1167.5,495.8 1169.5,492.8 1171.5,489.7 1173.5,486.4 1175.5,482.9 1177.5,479.3 1179.5,475.6 1181.5,471.7 1183.5,467.6 1185.5,463.4 1187.5,459.1 1189.5,454.6 1191.5,450.0 1193.5,445.4 1195.5,440.6 1197.5,435.8 1199.5,430.9 1201.5,426.0 1203.6,421.0 1205.6,416.1 1207.6,411.2 1209.6,406.3 1211.6,401.5 1213.6,396.8 1215.6,392.1 1217.6,387.6 1219.6,383.3 1221.6,379.0 1223.6,375.0 1225.6,371.2 1227.6,367.5 1229.6,364.1 1231.6,360.9 1233.6,358.0 1235.6,355.2 1237.6,352.8 1239.7,350.5 1241.7,348.5 1243.7,346.6 1245.7,345.0 1247.7,343.5 1249.7,342.2 1251.7,341.0 1253.7,339.9 1255.7,338.9 1257.7,337.9 1259.7,337.0 1261.7,336.0 1263.7,334.9 1265.7,333.8 1267.7,332.6 1269.7,331.3 1271.7,329.9 1273.7,328.4 1275.8,326.8 1277.8,325.1 1279.8,323.3 1281.8,321.4 1283.8,319.6 1285.8,317.7 1287.8,315.9 1289.8,314.2 1291.8,312.6 1293.8,311.2 1295.8,310.1 1297.8,309.1 1299.8,308.5 1301.8,308.1 1303.8,308.1 1305.8,308.4 1307.8,309.0 1309.8,310.0 1311.9,311.3 1313.9,312.9 1315.9,314.8 1317.9,317.1 1319.9,319.7 1321.9,322.5 1323.9,325.7 1325.9,329.2 1327.9,332.9 1329.9,337.1 1331.9,341.5 1333.9,346.3 1335.9,351.4 1337.9,357.0 1339.9,362.8 1341.9,369.0 1343.9,375.5 1345.9,382.3 1348.0,389.2 1350.0,396.3 1352.0,403.5 1354.0,410.7 1356.0,417.8 1358.0,424.8 1360.0,431.7 1362.0,438.3 1364.0,444.6 1366.0,450.6 1368.0,456.3 1370.0,461.7 1372.0,466.7 1374.0,471.4 1376.0,475.8 1378.0,479.9 1380.0,483.8 1382.0,487.5 1384.1,490.9 1386.1,494.2 1388.1,497.3 1390.1,500.2 1392.1,503.1 1394.1,505.8 1396.1,508.4 1398.1,511.0 1400.1,513.4 1402.1,515.7 1404.1,518.0 1406.1,520.1 1408.1,522.1 1410.1,524.0 1412.1,525.8 1414.1,527.4 1416.1,528.9 1418.1,530.3 1420.2,531.6 1422.2,532.7 1424.2,533.8 1426.2,534.7 1428.2,535.5 1430.2,536.2 1432.2,536.9 1434.2,537.4 1436.2,537.9 1438.2,538.3 1440.2,538.6 1442.2,538.9 1444.2,539.2 1446.2,539.4 1448.2,539.6 1450.2,539.7 1452.2,539.8 1454.2,539.9 1456.3,540.0 1458.3,540.1 1460.3,540.2 1462.3,540.2 1464.3,540.3 1466.3,540.3 1468.3,540.3 1470.3,540.4 1472.3,540.4 1474.3,540.4 1476.3,540.4 1478.3,540.5 1480.3,540.5 1482.3,540.5 1484.3,540.5 1486.3,540.5 1488.3,540.6 1490.3,540.6 1492.4,540.6 1494.4,540.6 1496.4,540.6 1498.4,540.7 1500.4,540.7 1502.4,540.7 1504.4,540.7 1506.4,540.7 1508.4,540.7 1510.4,540.7 1512.4,540.8 1514.4,540.8 1516.4,540.8 1518.4,540.8 1520.4,540.8 1522.4,540.8 1524.4,540.8 1526.4,540.8 1528.5,540.9 1530.5,540.9 1532.5,540.9 1534.5,540.9 1536.5,540.9 1538.5,540.9 1540.5,540.9 1542.5,540.9 1544.5,541.0 1546.5,541.0 1548.5,541.0 1550.5,541.0 1552.5,541.0 1554.5,541.0 1556.5,541.0 1558.5,541.0 1560.5,541.0 1562.5,541.1 1564.6,541.1 1566.6,541.1 1568.6,541.1 1570.6,541.1 1572.6,541.1 1574.6,541.1 1576.6,541.1 1578.6,541.1 1580.6,541.1 1582.6,541.2 1584.6,541.2 1586.6,541.2 1588.6,541.2 1590.6,541.2 1592.6,541.2 1594.6,541.2 1596.6,541.2 1598.6,541.2 1600.7,541.2 1602.7,541.3 1604.7,541.3 1606.7,541.3 1608.7,541.3 1610.7,541.3 1612.7,541.3 1614.7,541.3 1616.7,541.3 1618.7,541.3" fill="none" stroke="#00ffff" stroke-width="5" stroke-linejoin="round"/>
<defs><linearGradient id="rg6" x1="0" y1="0" x2="0" y2="1"><stop offset="0" stop-color="#fa6c6c"/><stop offset="0.25" stop-color="#f9a4a4"/><stop offset="0.5" stop-color="#fcd2d2"/><stop offset="0.75" stop-color="#feeaea"/><stop offset="1" stop-color="#fffafa"/></linearGradient><linearGradient id="gg6" x1="0" y1="0" x2="0" y2="1"><stop offset="0" stop-color="#3ef73e"/><stop offset="0.25" stop-color="#80f580"/><stop offset="0.5" stop-color="#b6f8b6"/><stop offset="0.75" stop-color="#e0fce0"/><stop offset="1" stop-color="#ffffff"/></linearGradient></defs>
<path d="M966.9,801.6 968.9,801.6 970.9,801.6 972.9,801.6 974.9,801.6 976.9,801.6 978.9,801.6 980.9,801.6 982.9,801.6 984.9,801.6 987.0,801.7 989.0,801.7 991.0,801.7 993.0,801.7 995.0,801.7 997.0,801.7 999.0,801.7 1001.0,801.7 1003.0,801.7 1005.0,801.7 1007.0,801.7 1009.0,801.7 1011.0,801.7 1013.0,801.7 1015.0,801.7 1017.0,801.7 1019.0,801.7 1021.0,801.7 1023.1,801.7 1025.1,801.8 1027.1,801.8 1029.1,801.8 1031.1,801.8 1033.1,801.8 1035.1,801.8 1037.1,801.8 1039.1,801.8 1041.1,801.8 1043.1,801.8 1045.1,801.8 1047.1,801.8 1049.1,801.8 1051.1,801.8 1053.1,801.8 1055.1,801.8 1057.1,801.8 1059.2,801.8 1061.2,801.9 1063.2,801.9 1065.2,801.9 1067.2,801.9 1069.2,801.9 1071.2,801.9 1073.2,801.9 1075.2,801.9 1077.2,801.9 1079.2,801.9 1081.2,801.9 1083.2,801.9 1085.2,801.9 1087.2,801.9 1089.2,801.9 1091.2,801.9 1093.2,801.9 1095.3,802.0 1097.3,802.0 1099.3,802.0 1101.3,802.0 1103.3,802.0 1105.3,802.0 1107.3,802.0 1109.3,802.0 1111.3,801.8 1113.3,801.6 1115.3,801.4 1117.3,801.1 1119.3,800.8 1121.3,800.5 1123.3,800.2 1125.3,800.0 1127.3,799.9 1129.3,799.9 1131.4,799.8 1133.4,799.8 1135.4,799.8 1137.4,799.7 1139.4,799.7 1141.4,799.6 1143.4,799.6 1145.4,799.5 1147.4,799.4 1149.4,799.4 1151.4,799.3 1153.4,799.2 1155.4,799.1 1157.4,799.0 1159.4,798.9 1161.4,798.8 1163.4,798.7 1165.4,798.6 1167.5,798.4 1169.5,798.2 1171.5,798.1 1173.5,797.9 1175.5,797.6 1177.5,797.4 1179.5,797.1 1181.5,796.8 1183.5,796.4 1185.5,796.0 1187.5,795.6 1189.5,795.1 1191.5,794.6 1193.5,794.0 1195.5,793.3 1197.5,792.6 1199.5,791.8 1201.5,790.9 1203.6,789.9 1205.6,788.7 1207.6,787.5 1209.6,786.2 1211.6,784.7 1213.6,783.1 1215.6,781.4 1217.6,779.5 1219.6,777.4 1221.6,775.2 1223.6,772.8 1225.6,770.2 1227.6,767.4 1229.6,764.4 1231.6,761.3 1233.6,757.9 1235.6,754.3 1237.6,750.5 1239.7,746.4 1241.7,742.2 1243.7,737.8 1245.7,733.1 1247.7,728.3 1249.7,723.2 1251.7,718.0 1253.7,712.6 1255.7,707.1 1257.7,701.4 1259.7,695.6 1261.7,689.7 1263.7,683.7 1265.7,677.7 1267.7,671.6 1269.7,665.6 1271.7,659.6 1273.7,653.6 1275.8,647.8 1277.8,642.0 1279.8,636.5 1281.8,631.1 1283.8,626.0 1285.8,621.2 1287.8,616.6 1289.8,612.4 1291.8,608.6 1293.8,605.3 1295.8,602.3 1297.8,599.8 1299.8,597.9 1301.8,596.4 1303.8,595.5 1305.8,595.1 1307.8,595.2 1309.8,595.9 1311.9,597.2 1313.9,598.9 1315.9,601.2 1317.9,603.9 1319.9,607.2 1321.9,610.8 1323.9,614.9 1325.9,619.3 1327.9,624.1 1329.9,629.1 1331.9,634.5 1333.9,640.0 1335.9,645.8 1337.9,651.7 1339.9,657.7 1341.9,663.8 1343.9,670.0 1345.9,676.2 1348.0,682.4 1350.0,688.5 1352.0,694.6 1354.0,700.6 1356.0,706.5 1358.0,712.2 1360.0,717.8 1362.0,723.3 1364.0,728.6 1366.0,733.7 1368.0,738.6 1370.0,743.5 1372.0,748.2 1374.0,752.6 1376.0,756.7 1378.0,760.5 1380.0,764.1 1382.0,767.4 1384.1,770.5 1386.1,773.5 1388.1,776.2 1390.1,778.8 1392.1,781.3 1394.1,783.5 1396.1,785.6 1398.1,787.6 1400.1,789.5 1402.1,791.2 1404.1,792.8 1406.1,794.3 1408.1,795.6 1410.1,796.9 1412.1,798.1 1414.1,799.2 1416.1,800.2 1418.1,801.1 1420.2,801.9 1422.2,802.7 1424.2,803.4 1426.2,804.0 1428.2,804.6 1430.2,805.2 1432.2,805.7 1434.2,806.1 1436.2,806.5 1438.2,806.9 1440.2,807.2 1442.2,807.5 1444.2,807.8 1446.2,808.0 1448.2,808.2 1450.2,808.4 1452.2,808.6 1454.2,808.8 1456.3,808.9 1458.3,809.0 1460.3,809.0 1462.3,809.0 1464.3,809.0 1466.3,809.0 1468.3,809.0 1470.3,809.0 1472.3,809.0 1474.3,809.0 1476.3,809.0 1478.3,809.0 1480.3,809.0 1482.3,809.0 1484.3,809.0 1486.3,809.0 1488.3,809.1 1490.3,809.1 1492.4,809.1 1494.4,809.1 1496.4,809.1 1498.4,809.1 1500.4,809.1 1502.4,809.1 1504.4,809.1 1506.4,809.1 1508.4,809.1 1510.4,809.1 1512.4,809.1 1514.4,809.1 1516.4,809.1 1518.4,809.1 1520.4,809.1 1522.4,809.1 1524.4,809.2 1526.4,809.2 1528.5,809.2 1530.5,809.2 1532.5,809.2 1534.5,809.2 1536.5,809.2 1538.5,809.2 1540.5,809.2 1542.5,809.2 1544.5,809.2 1546.5,809.2 1548.5,809.2 1550.5,809.2 1552.5,809.2 1554.5,809.2 1556.5,809.2 1558.5,809.2 1560.5,809.2 1562.5,809.3 1564.6,809.3 1566.6,809.3 1568.6,809.3 1570.6,809.3 1572.6,809.3 1574.6,809.3 1576.6,809.3 1578.6,809.3 1580.6,809.3 1582.6,809.3 1584.6,809.3 1586.6,809.3 1588.6,809.3 1590.6,809.3 1592.6,809.3 1594.6,809.3 1596.6,809.3 1598.6,809.3 1600.7,809.4 1602.7,809.4 1604.7,809.4 1606.7,809.4 1608.7,809.4 1610.7,809.4 1612.7,809.4 1614.7,809.4 1616.7,809.4 1618.7,809.4 1618.7,809.4 1616.7,809.4 1614.7,809.4 1612.7,809.4 1610.7,809.4 1608.7,809.4 1606.7,809.4 1604.7,809.4 1602.7,809.4 1600.7,809.4 1598.6,809.3 1596.6,809.3 1594.6,809.3 1592.6,809.3 1590.6,809.3 1588.6,809.3 1586.6,809.3 1584.6,809.3 1582.6,809.3 1580.6,809.3 1578.6,809.3 1576.6,809.3 1574.6,809.3 1572.6,809.3 1570.6,809.3 1568.6,809.3 1566.6,809.3 1564.6,809.3 1562.5,809.3 1560.5,809.2 1558.5,809.2 1556.5,809.2 1554.5,809.2 1552.5,809.2 1550.5,809.2 1548.5,809.2 1546.5,809.2 1544.5,809.2 1542.5,809.2 1540.5,809.2 1538.5,809.2 1536.5,809.2 1534.5,809.2 1532.5,809.2 1530.5,809.2 1528.5,809.2 1526.4,809.2 1524.4,809.2 1522.4,809.1 1520.4,809.1 1518.4,809.1 1516.4,809.1 1514.4,809.1 1512.4,809.1 1510.4,809.1 1508.4,809.1 1506.4,809.1 1504.4,809.1 1502.4,809.1 1500.4,809.1 1498.4,809.1 1496.4,809.1 1494.4,809.1 1492.4,809.1 1490.3,809.1 1488.3,809.1 1486.3,809.0 1484.3,809.0 1482.3,809.0 1480.3,809.0 1478.3,809.0 1476.3,809.0 1474.3,809.0 1472.3,809.0 1470.3,809.0 1468.3,809.0 1466.3,809.0 1464.3,809.0 1462.3,809.0 1460.3,809.0 1458.3,809.0 1456.3,809.0 1454.2,808.9 1452.2,808.9 1450.2,808.9 1448.2,808.9 1446.2,808.9 1444.2,808.9 1442.2,808.9 1440.2,808.9 1438.2,808.9 1436.2,808.9 1434.2,808.9 1432.2,808.9 1430.2,808.9 1428.2,808.9 1426.2,808.9 1424.2,808.8 1422.2,808.8 1420.2,808.8 1418.1,808.8 1416.1,808.8 1414.1,808.8 1412.1,808.8 1410.1,808.8 1408.1,808.8 1406.1,808.8 1404.1,808.8 1402.1,808.7 1400.1,808.7 1398.1,808.7 1396.1,808.7 1394.1,808.7 1392.1,808.7 1390.1,808.7 1388.1,808.6 1386.1,808.6 1384.1,808.6 1382.0,808.6 1380.0,808.6 1378.0,808.5 1376.0,808.5 1374.0,808.5 1372.0,808.5 1370.0,808.4 1368.0,808.4 1366.0,808.4 1364.0,808.3 1362.0,808.3 1360.0,808.3 1358.0,808.2 1356.0,808.2 1354.0,808.1 1352.0,808.1 1350.0,808.0 1348.0,808.0 1345.9,807.9 1343.9,807.9 1341.9,807.8 1339.9,807.8 1337.9,807.7 1335.9,807.6 1333.9,807.6 1331.9,807.5 1329.9,807.4 1327.9,807.3 1325.9,807.3 1323.9,807.2 1321.9,807.1 1319.9,807.0 1317.9,806.9 1315.9,806.9 1313.9,806.8 1311.9,806.7 1309.8,806.6 1307.8,806.5 1305.8,806.4 1303.8,806.3 1301.8,806.3 1299.8,806.2 1297.8,806.1 1295.8,806.0 1293.8,805.9 1291.8,805.8 1289.8,805.7 1287.8,805.7 1285.8,805.6 1283.8,805.5 1281.8,805.4 1279.8,805.3 1277.8,805.2 1275.8,805.2 1273.7,805.1 1271.7,805.0 1269.7,804.9 1267.7,804.8 1265.7,804.8 1263.7,804.7 1261.7,804.6 1259.7,804.5 1257.7,804.5 1255.7,804.4 1253.7,804.3 1251.7,804.3 1249.7,804.2 1247.7,804.1 1245.7,804.1 1243.7,804.0 1241.7,803.9 1239.7,803.9 1237.6,803.8 1235.6,803.7 1233.6,803.7 1231.6,803.6 1229.6,803.6 1227.6,803.5 1225.6,803.4 1223.6,803.4 1221.6,803.3 1219.6,803.3 1217.6,803.2 1215.6,803.2 1213.6,803.1 1211.6,803.1 1209.6,803.0 1207.6,803.0 1205.6,802.9 1203.6,802.9 1201.5,802.8 1199.5,802.8 1197.5,802.7 1195.5,802.7 1193.5,802.7 1191.5,802.6 1189.5,802.6 1187.5,802.6 1185.5,802.5 1183.5,802.5 1181.5,802.5 1179.5,802.5 1177.5,802.4 1175.5,802.4 1173.5,802.4 1171.5,802.4 1169.5,802.3 1167.5,802.3 1165.4,802.3 1163.4,802.3 1161.4,802.3 1159.4,802.2 1157.4,802.2 1155.4,802.2 1153.4,802.2 1151.4,802.2 1149.4,802.2 1147.4,802.2 1145.4,802.1 1143.4,802.1 1141.4,802.1 1139.4,802.1 1137.4,802.1 1135.4,802.1 1133.4,802.1 1131.4,802.1 1129.3,802.1 1127.3,802.1 1125.3,802.1 1123.3,802.0 1121.3,802.0 1119.3,802.0 1117.3,802.0 1115.3,802.0 1113.3,802.0 1111.3,802.0 1109.3,802.0 1107.3,802.0 1105.3,802.0 1103.3,802.0 1101.3,802.0 1099.3,802.0 1097.3,802.0 1095.3,802.0 1093.2,801.9 1091.2,801.9 1089.2,801.9 1087.2,801.9 1085.2,801.9 1083.2,801.9 1081.2,801.9 1079.2,801.9 1077.2,801.9 1075.2,801.9 1073.2,801.9 1071.2,801.9 1069.2,801.9 1067.2,801.9 1065.2,801.9 1063.2,801.9 1061.2,801.9 1059.2,801.8 1057.1,801.8 1055.1,801.8 1053.1,801.8 1051.1,801.8 1049.1,801.8 1047.1,801.8 1045.1,801.8 1043.1,801.8 1041.1,801.8 1039.1,801.8 1037.1,801.8 1035.1,801.8 1033.1,801.8 1031.1,801.8 1029.1,801.8 1027.1,801.8 1025.1,801.8 1023.1,801.7 1021.0,801.7 1019.0,801.7 1017.0,801.7 1015.0,801.7 1013.0,801.7 1011.0,801.7 1009.0,801.7 1007.0,801.7 1005.0,801.7 1003.0,801.7 1001.0,801.7 999.0,801.7 997.0,801.7 995.0,801.7 993.0,801.7 991.0,801.7 989.0,801.7 987.0,801.7 984.9,801.6 982.9,801.6 980.9,801.6 978.9,801.6 976.9,801.6 974.9,801.6 972.9,801.6 970.9,801.6 968.9,801.6 966.9,801.6 Z" fill="url(#rg6)" stroke="none"/>
<path d="M966.9,801.6 968.9,801.6 970.9,801.6 972.9,801.6 974.9,801.6 976.9,801.6 978.9,801.6 980.9,801.6 982.9,801.6 984.9,801.6 987.0,801.7 989.0,801.7 991.0,801.7 993.0,801.7 995.0,801.7 997.0,801.7 999.0,801.7 1001.0,801.7 1003.0,801.7 1005.0,801.7 1007.0,801.7 1009.0,801.7 1011.0,801.7 1013.0,801.7 1015.0,801.7 1017.0,801.7 1019.0,801.7 1021.0,801.7 1023.1,801.7 1025.1,801.8 1027.1,801.8 1029.1,801.8 1031.1,801.8 1033.1,801.8 1035.1,801.8 1037.1,801.8 1039.1,801.8 1041.1,801.8 1043.1,801.8 1045.1,801.8 1047.1,801.8 1049.1,801.8 1051.1,801.8 1053.1,801.8 1055.1,801.8 1057.1,801.8 1059.2,801.8 1061.2,801.9 1063.2,801.9 1065.2,801.9 1067.2,801.9 1069.2,801.9 1071.2,801.9 1073.2,801.9 1075.2,801.9 1077.2,801.9 1079.2,801.9 1081.2,801.9 1083.2,801.9 1085.2,801.9 1087.2,801.9 1089.2,801.9 1091.2,801.9 1093.2,801.9 1095.3,802.0 1097.3,802.0 1099.3,802.0 1101.3,802.0 1103.3,802.0 1105.3,802.0 1107.3,802.0 1109.3,802.0 1111.3,801.8 1113.3,801.6 1115.3,801.4 1117.3,801.1 1119.3,800.8 1121.3,800.5 1123.3,800.2 1125.3,800.0 1127.3,799.9 1129.3,799.9 1131.4,799.8 1133.4,799.8 1135.4,799.8 1137.4,799.7 1139.4,799.7 1141.4,799.6 1143.4,799.6 1145.4,799.5 1147.4,799.4 1149.4,799.4 1151.4,799.3 1153.4,799.2 1155.4,799.1 1157.4,799.0 1159.4,798.9 1161.4,798.8 1163.4,798.7 1165.4,798.6 1167.5,798.4 1169.5,798.2 1171.5,798.1 1173.5,797.9 1175.5,797.6 1177.5,797.4 1179.5,797.1 1181.5,796.8 1183.5,796.4 1185.5,796.0 1187.5,795.6 1189.5,795.1 1191.5,794.6 1193.5,794.0 1195.5,793.3 1197.5,792.6 1199.5,791.8 1201.5,790.9 1203.6,789.9 1205.6,788.7 1207.6,787.5 1209.6,786.2 1211.6,784.7 1213.6,783.1 1215.6,781.4 1217.6,779.5 1219.6,777.4 1221.6,775.2 1223.6,772.8 1225.6,770.2 1227.6,767.4 1229.6,764.4 1231.6,761.3 1233.6,757.9 1235.6,754.3 1237.6,750.5 1239.7,746.4 1241.7,742.2 1243.7,737.8 1245.7,733.1 1247.7,728.3 1249.7,723.2 1251.7,718.0 1253.7,712.6 1255.7,707.1 1257.7,701.4 1259.7,695.6 1261.7,689.7 1263.7,683.7 1265.7,677.7 1267.7,671.6 1269.7,665.6 1271.7,659.6 1273.7,653.6 1275.8,647.8 1277.8,642.0 1279.8,636.5 1281.8,631.1 1283.8,626.0 1285.8,621.2 1287.8,616.6 1289.8,612.4 1291.8,608.6 1293.8,605.3 1295.8,602.3 1297.8,599.8 1299.8,597.9 1301.8,596.4 1303.8,595.5 1305.8,595.1 1307.8,595.2 1309.8,595.9 1311.9,597.2 1313.9,598.9 1315.9,601.2 1317.9,603.9 1319.9,607.2 1321.9,610.8 1323.9,614.9 1325.9,619.3 1327.9,624.1 1329.9,629.1 1331.9,634.5 1333.9,640.0 1335.9,645.8 1337.9,651.7 1339.9,657.7 1341.9,663.8 1343.9,670.0 1345.9,676.2 1348.0,682.4 1350.0,688.5 1352.0,694.6 1354.0,700.6 1356.0,706.5 1358.0,712.2 1360.0,717.8 1362.0,723.3 1364.0,728.6 1366.0,733.7 1368.0,738.6 1370.0,743.5 1372.0,748.2 1374.0,752.6 1376.0,756.7 1378.0,760.5 1380.0,764.1 1382.0,767.4 1384.1,770.5 1386.1,773.5 1388.1,776.2 1390.1,778.8 1392.1,781.3 1394.1,783.5 1396.1,785.6 1398.1,787.6 1400.1,789.5 1402.1,791.2 1404.1,792.8 1406.1,794.3 1408.1,795.6 1410.1,796.9 1412.1,798.1 1414.1,799.2 1416.1,800.2 1418.1,801.1 1420.2,801.9 1422.2,802.7 1424.2,803.4 1426.2,804.0 1428.2,804.6 1430.2,805.2 1432.2,805.7 1434.2,806.1 1436.2,806.5 1438.2,806.9 1440.2,807.2 1442.2,807.5 1444.2,807.8 1446.2,808.0 1448.2,808.2 1450.2,808.4 1452.2,808.6 1454.2,808.8 1456.3,808.9 1458.3,809.0 1460.3,809.0 1462.3,809.0 1464.3,809.0 1466.3,809.0 1468.3,809.0 1470.3,809.0 1472.3,809.0 1474.3,809.0 1476.3,809.0 1478.3,809.0 1480.3,809.0 1482.3,809.0 1484.3,809.0 1486.3,809.0 1488.3,809.1 1490.3,809.1 1492.4,809.1 1494.4,809.1 1496.4,809.1 1498.4,809.1 1500.4,809.1 1502.4,809.1 1504.4,809.1 1506.4,809.1 1508.4,809.1 1510.4,809.1 1512.4,809.1 1514.4,809.1 1516.4,809.1 1518.4,809.1 1520.4,809.1 1522.4,809.1 1524.4,809.2 1526.4,809.2 1528.5,809.2 1530.5,809.2 1532.5,809.2 1534.5,809.2 1536.5,809.2 1538.5,809.2 1540.5,809.2 1542.5,809.2 1544.5,809.2 1546.5,809.2 1548.5,809.2 1550.5,809.2 1552.5,809.2 1554.5,809.2 1556.5,809.2 1558.5,809.2 1560.5,809.2 1562.5,809.3 1564.6,809.3 1566.6,809.3 1568.6,809.3 1570.6,809.3 1572.6,809.3 1574.6,809.3 1576.6,809.3 1578.6,809.3 1580.6,809.3 1582.6,809.3 1584.6,809.3 1586.6,809.3 1588.6,809.3 1590.6,809.3 1592.6,809.3 1594.6,809.3 1596.6,809.3 1598.6,809.3 1600.7,809.4 1602.7,809.4 1604.7,809.4 1606.7,809.4 1608.7,809.4 1610.7,809.4 1612.7,809.4 1614.7,809.4 1616.7,809.4 1618.7,809.4" fill="none" stroke="#ff3333" stroke-width="3.6" stroke-opacity="0.9" stroke-linejoin="round"/>
<path d="M966.9,801.6 968.9,801.6 970.9,801.6 972.9,801.6 974.9,801.6 976.9,801.6 978.9,801.6 980.9,801.6 982.9,801.6 984.9,801.6 987.0,801.7 989.0,801.7 991.0,801.7 993.0,801.7 995.0,801.7 997.0,801.7 999.0,801.7 1001.0,801.7 1003.0,801.7 1005.0,801.7 1007.0,801.7 1009.0,801.7 1011.0,801.7 1013.0,801.7 1015.0,801.7 1017.0,801.7 1019.0,801.7 1021.0,801.7 1023.1,801.7 1025.1,801.8 1027.1,801.8 1029.1,801.8 1031.1,801.8 1033.1,801.8 1035.1,801.8 1037.1,801.8 1039.1,801.8 1041.1,801.8 1043.1,801.8 1045.1,801.8 1047.1,801.8 1049.1,801.8 1051.1,801.8 1053.1,801.8 1055.1,801.8 1057.1,801.8 1059.2,801.8 1061.2,801.9 1063.2,801.9 1065.2,801.9 1067.2,801.9 1069.2,801.9 1071.2,801.9 1073.2,801.9 1075.2,801.9 1077.2,801.9 1079.2,801.9 1081.2,801.9 1083.2,801.9 1085.2,801.9 1087.2,801.9 1089.2,801.9 1091.2,801.9 1093.2,801.9 1095.3,802.0 1097.3,802.0 1099.3,802.0 1101.3,802.0 1103.3,802.0 1105.3,802.0 1107.3,802.0 1109.3,802.0 1111.3,801.8 1113.3,801.6 1115.3,801.4 1117.3,801.1 1119.3,800.8 1121.3,800.5 1123.3,800.2 1125.3,799.7 1127.3,799.3 1129.3,798.7 1131.4,798.1 1133.4,797.4 1135.4,796.7 1137.4,795.8 1139.4,794.9 1141.4,793.9 1143.4,792.7 1145.4,791.5 1147.4,790.1 1149.4,788.6 1151.4,787.0 1153.4,785.2 1155.4,783.3 1157.4,781.2 1159.4,779.0 1161.4,776.6 1163.4,774.1 1165.4,771.4 1167.5,768.6 1169.5,765.6 1171.5,762.5 1173.5,759.2 1175.5,755.8 1177.5,752.2 1179.5,748.5 1181.5,744.7 1183.5,740.8 1185.5,736.7 1187.5,732.6 1189.5,729.0 1191.5,725.6 1193.5,722.2 1195.5,718.8 1197.5,715.5 1199.5,712.3 1201.5,709.3 1203.6,706.3 1205.6,703.5 1207.6,700.9 1209.6,698.5 1211.6,696.3 1213.6,694.4 1215.6,692.7 1217.6,691.3 1219.6,690.2 1221.6,689.4 1223.6,688.9 1225.6,688.7 1227.6,688.9 1229.6,689.4 1231.6,690.2 1233.6,691.3 1235.6,692.7 1237.6,694.4 1239.7,696.3 1241.7,698.5 1243.7,701.0 1245.7,703.6 1247.7,706.5 1249.7,709.5 1251.7,712.6 1253.7,715.9 1255.7,719.2 1257.7,722.7 1259.7,726.2 1261.7,729.7 1263.7,733.2 1265.7,736.8 1267.7,740.3 1269.7,743.8 1271.7,747.2 1273.7,750.6 1275.8,753.9 1277.8,757.1 1279.8,760.2 1281.8,763.2 1283.8,766.1 1285.8,768.9 1287.8,771.6 1289.8,774.1 1291.8,776.6 1293.8,778.9 1295.8,781.0 1297.8,783.1 1299.8,785.0 1301.8,786.8 1303.8,788.5 1305.8,790.1 1307.8,791.5 1309.8,792.9 1311.9,794.1 1313.9,795.3 1315.9,796.4 1317.9,797.4 1319.9,798.3 1321.9,799.1 1323.9,799.9 1325.9,800.5 1327.9,801.2 1329.9,801.8 1331.9,802.3 1333.9,802.8 1335.9,803.2 1337.9,803.6 1339.9,804.0 1341.9,804.3 1343.9,804.6 1345.9,804.8 1348.0,805.1 1350.0,805.3 1352.0,805.5 1354.0,805.7 1356.0,805.9 1358.0,806.0 1360.0,806.2 1362.0,806.3 1364.0,806.4 1366.0,806.5 1368.0,806.6 1370.0,806.7 1372.0,806.8 1374.0,806.9 1376.0,807.0 1378.0,807.0 1380.0,807.1 1382.0,807.2 1384.1,807.2 1386.1,807.3 1388.1,807.3 1390.1,807.4 1392.1,807.4 1394.1,807.5 1396.1,807.5 1398.1,807.6 1400.1,807.6 1402.1,807.6 1404.1,807.7 1406.1,807.7 1408.1,807.7 1410.1,807.8 1412.1,807.8 1414.1,807.8 1416.1,807.9 1418.1,807.9 1420.2,807.9 1422.2,807.9 1424.2,808.0 1426.2,808.0 1428.2,808.0 1430.2,808.0 1432.2,808.1 1434.2,808.1 1436.2,808.1 1438.2,808.1 1440.2,808.1 1442.2,808.2 1444.2,808.2 1446.2,808.2 1448.2,808.2 1450.2,808.4 1452.2,808.6 1454.2,808.8 1456.3,808.9 1458.3,809.0 1460.3,809.0 1462.3,809.0 1464.3,809.0 1466.3,809.0 1468.3,809.0 1470.3,809.0 1472.3,809.0 1474.3,809.0 1476.3,809.0 1478.3,809.0 1480.3,809.0 1482.3,809.0 1484.3,809.0 1486.3,809.0 1488.3,809.1 1490.3,809.1 1492.4,809.1 1494.4,809.1 1496.4,809.1 1498.4,809.1 1500.4,809.1 1502.4,809.1 1504.4,809.1 1506.4,809.1 1508.4,809.1 1510.4,809.1 1512.4,809.1 1514.4,809.1 1516.4,809.1 1518.4,809.1 1520.4,809.1 1522.4,809.1 1524.4,809.2 1526.4,809.2 1528.5,809.2 1530.5,809.2 1532.5,809.2 1534.5,809.2 1536.5,809.2 1538.5,809.2 1540.5,809.2 1542.5,809.2 1544.5,809.2 1546.5,809.2 1548.5,809.2 1550.5,809.2 1552.5,809.2 1554.5,809.2 1556.5,809.2 1558.5,809.2 1560.5,809.2 1562.5,809.3 1564.6,809.3 1566.6,809.3 1568.6,809.3 1570.6,809.3 1572.6,809.3 1574.6,809.3 1576.6,809.3 1578.6,809.3 1580.6,809.3 1582.6,809.3 1584.6,809.3 1586.6,809.3 1588.6,809.3 1590.6,809.3 1592.6,809.3 1594.6,809.3 1596.6,809.3 1598.6,809.3 1600.7,809.4 1602.7,809.4 1604.7,809.4 1606.7,809.4 1608.7,809.4 1610.7,809.4 1612.7,809.4 1614.7,809.4 1616.7,809.4 1618.7,809.4 1618.7,809.4 1616.7,809.4 1614.7,809.4 1612.7,809.4 1610.7,809.4 1608.7,809.4 1606.7,809.4 1604.7,809.4 1602.7,809.4 1600.7,809.4 1598.6,809.3 1596.6,809.3 1594.6,809.3 1592.6,809.3 1590.6,809.3 1588.6,809.3 1586.6,809.3 1584.6,809.3 1582.6,809.3 1580.6,809.3 1578.6,809.3 1576.6,809.3 1574.6,809.3 1572.6,809.3 1570.6,809.3 1568.6,809.3 1566.6,809.3 1564.6,809.3 1562.5,809.3 1560.5,809.2 1558.5,809.2 1556.5,809.2 1554.5,809.2 1552.5,809.2 1550.5,809.2 1548.5,809.2 1546.5,809.2 1544.5,809.2 1542.5,809.2 1540.5,809.2 1538.5,809.2 1536.5,809.2 1534.5,809.2 1532.5,809.2 1530.5,809.2 1528.5,809.2 1526.4,809.2 1524.4,809.2 1522.4,809.1 1520.4,809.1 1518.4,809.1 1516.4,809.1 1514.4,809.1 1512.4,809.1 1510.4,809.1 1508.4,809.1 1506.4,809.1 1504.4,809.1 1502.4,809.1 1500.4,809.1 1498.4,809.1 1496.4,809.1 1494.4,809.1 1492.4,809.1 1490.3,809.1 1488.3,809.1 1486.3,809.0 1484.3,809.0 1482.3,809.0 1480.3,809.0 1478.3,809.0 1476.3,809.0 1474.3,809.0 1472.3,809.0 1470.3,809.0 1468.3,809.0 1466.3,809.0 1464.3,809.0 1462.3,809.0 1460.3,809.0 1458.3,809.0 1456.3,809.0 1454.2,808.9 1452.2,808.9 1450.2,808.9 1448.2,808.9 1446.2,808.9 1444.2,808.9 1442.2,808.9 1440.2,808.9 1438.2,808.9 1436.2,808.9 1434.2,808.9 1432.2,808.9 1430.2,808.9 1428.2,808.9 1426.2,808.9 1424.2,808.8 1422.2,808.8 1420.2,808.8 1418.1,808.8 1416.1,808.8 1414.1,808.8 1412.1,808.8 1410.1,808.8 1408.1,808.8 1406.1,808.8 1404.1,808.8 1402.1,808.7 1400.1,808.7 1398.1,808.7 1396.1,808.7 1394.1,808.7 1392.1,808.7 1390.1,808.7 1388.1,808.6 1386.1,808.6 1384.1,808.6 1382.0,808.6 1380.0,808.6 1378.0,808.5 1376.0,808.5 1374.0,808.5 1372.0,808.5 1370.0,808.4 1368.0,808.4 1366.0,808.4 1364.0,808.3 1362.0,808.3 1360.0,808.3 1358.0,808.2 1356.0,808.2 1354.0,808.1 1352.0,808.1 1350.0,808.0 1348.0,808.0 1345.9,807.9 1343.9,807.9 1341.9,807.8 1339.9,807.8 1337.9,807.7 1335.9,807.6 1333.9,807.6 1331.9,807.5 1329.9,807.4 1327.9,807.3 1325.9,807.3 1323.9,807.2 1321.9,807.1 1319.9,807.0 1317.9,806.9 1315.9,806.9 1313.9,806.8 1311.9,806.7 1309.8,806.6 1307.8,806.5 1305.8,806.4 1303.8,806.3 1301.8,806.3 1299.8,806.2 1297.8,806.1 1295.8,806.0 1293.8,805.9 1291.8,805.8 1289.8,805.7 1287.8,805.7 1285.8,805.6 1283.8,805.5 1281.8,805.4 1279.8,805.3 1277.8,805.2 1275.8,805.2 1273.7,805.1 1271.7,805.0 1269.7,804.9 1267.7,804.8 1265.7,804.8 1263.7,804.7 1261.7,804.6 1259.7,804.5 1257.7,804.5 1255.7,804.4 1253.7,804.3 1251.7,804.3 1249.7,804.2 1247.7,804.1 1245.7,804.1 1243.7,804.0 1241.7,803.9 1239.7,803.9 1237.6,803.8 1235.6,803.7 1233.6,803.7 1231.6,803.6 1229.6,803.6 1227.6,803.5 1225.6,803.4 1223.6,803.4 1221.6,803.3 1219.6,803.3 1217.6,803.2 1215.6,803.2 1213.6,803.1 1211.6,803.1 1209.6,803.0 1207.6,803.0 1205.6,802.9 1203.6,802.9 1201.5,802.8 1199.5,802.8 1197.5,802.7 1195.5,802.7 1193.5,802.7 1191.5,802.6 1189.5,802.6 1187.5,802.6 1185.5,802.5 1183.5,802.5 1181.5,802.5 1179.5,802.5 1177.5,802.4 1175.5,802.4 1173.5,802.4 1171.5,802.4 1169.5,802.3 1167.5,802.3 1165.4,802.3 1163.4,802.3 1161.4,802.3 1159.4,802.2 1157.4,802.2 1155.4,802.2 1153.4,802.2 1151.4,802.2 1149.4,802.2 1147.4,802.2 1145.4,802.1 1143.4,802.1 1141.4,802.1 1139.4,802.1 1137.4,802.1 1135.4,802.1 1133.4,802.1 1131.4,802.1 1129.3,802.1 1127.3,802.1 1125.3,802.1 1123.3,802.0 1121.3,802.0 1119.3,802.0 1117.3,802.0 1115.3,802.0 1113.3,802.0 1111.3,802.0 1109.3,802.0 1107.3,802.0 1105.3,802.0 1103.3,802.0 1101.3,802.0 1099.3,802.0 1097.3,802.0 1095.3,802.0 1093.2,801.9 1091.2,801.9 1089.2,801.9 1087.2,801.9 1085.2,801.9 1083.2,801.9 1081.2,801.9 1079.2,801.9 1077.2,801.9 1075.2,801.9 1073.2,801.9 1071.2,801.9 1069.2,801.9 1067.2,801.9 1065.2,801.9 1063.2,801.9 1061.2,801.9 1059.2,801.8 1057.1,801.8 1055.1,801.8 1053.1,801.8 1051.1,801.8 1049.1,801.8 1047.1,801.8 1045.1,801.8 1043.1,801.8 1041.1,801.8 1039.1,801.8 1037.1,801.8 1035.1,801.8 1033.1,801.8 1031.1,801.8 1029.1,801.8 1027.1,801.8 1025.1,801.8 1023.1,801.7 1021.0,801.7 1019.0,801.7 1017.0,801.7 1015.0,801.7 1013.0,801.7 1011.0,801.7 1009.0,801.7 1007.0,801.7 1005.0,801.7 1003.0,801.7 1001.0,801.7 999.0,801.7 997.0,801.7 995.0,801.7 993.0,801.7 991.0,801.7 989.0,801.7 987.0,801.7 984.9,801.6 982.9,801.6 980.9,801.6 978.9,801.6 976.9,801.6 974.9,801.6 972.9,801.6 970.9,801.6 968.9,801.6 966.9,801.6 Z" fill="url(#gg6)" fill-opacity="0.68" stroke="none"/>
<path d="M966.9,801.6 968.9,801.6 970.9,801.6 972.9,801.6 974.9,801.6 976.9,801.6 978.9,801.6 980.9,801.6 982.9,801.6 984.9,801.6 987.0,801.7 989.0,801.7 991.0,801.7 993.0,801.7 995.0,801.7 997.0,801.7 999.0,801.7 1001.0,801.7 1003.0,801.7 1005.0,801.7 1007.0,801.7 1009.0,801.7 1011.0,801.7 1013.0,801.7 1015.0,801.7 1017.0,801.7 1019.0,801.7 1021.0,801.7 1023.1,801.7 1025.1,801.8 1027.1,801.8 1029.1,801.8 1031.1,801.8 1033.1,801.8 1035.1,801.8 1037.1,801.8 1039.1,801.8 1041.1,801.8 1043.1,801.8 1045.1,801.8 1047.1,801.8 1049.1,801.8 1051.1,801.8 1053.1,801.8 1055.1,801.8 1057.1,801.8 1059.2,801.8 1061.2,801.9 1063.2,801.9 1065.2,801.9 1067.2,801.9 1069.2,801.9 1071.2,801.9 1073.2,801.9 1075.2,801.9 1077.2,801.9 1079.2,801.9 1081.2,801.9 1083.2,801.9 1085.2,801.9 1087.2,801.9 1089.2,801.9 1091.2,801.9 1093.2,801.9 1095.3,802.0 1097.3,802.0 1099.3,802.0 1101.3,802.0 1103.3,802.0 1105.3,802.0 1107.3,802.0 1109.3,802.0 1111.3,801.8 1113.3,801.6 1115.3,801.4 1117.3,801.1 1119.3,800.8 1121.3,800.5 1123.3,800.2 1125.3,799.7 1127.3,799.3 1129.3,798.7 1131.4,798.1 1133.4,797.4 1135.4,796.7 1137.4,795.8 1139.4,794.9 1141.4,793.9 1143.4,792.7 1145.4,791.5 1147.4,790.1 1149.4,788.6 1151.4,787.0 1153.4,785.2 1155.4,783.3 1157.4,781.2 1159.4,779.0 1161.4,776.6 1163.4,774.1 1165.4,771.4 1167.5,768.6 1169.5,765.6 1171.5,762.5 1173.5,759.2 1175.5,755.8 1177.5,752.2 1179.5,748.5 1181.5,744.7 1183.5,740.8 1185.5,736.7 1187.5,732.6 1189.5,729.0 1191.5,725.6 1193.5,722.2 1195.5,718.8 1197.5,715.5 1199.5,712.3 1201.5,709.3 1203.6,706.3 1205.6,703.5 1207.6,700.9 1209.6,698.5 1211.6,696.3 1213.6,694.4 1215.6,692.7 1217.6,691.3 1219.6,690.2 1221.6,689.4 1223.6,688.9 1225.6,688.7 1227.6,688.9 1229.6,689.4 1231.6,690.2 1233.6,691.3 1235.6,692.7 1237.6,694.4 1239.7,696.3 1241.7,698.5 1243.7,701.0 1245.7,703.6 1247.7,706.5 1249.7,709.5 1251.7,712.6 1253.7,715.9 1255.7,719.2 1257.7,722.7 1259.7,726.2 1261.7,729.7 1263.7,733.2 1265.7,736.8 1267.7,740.3 1269.7,743.8 1271.7,747.2 1273.7,750.6 1275.8,753.9 1277.8,757.1 1279.8,760.2 1281.8,763.2 1283.8,766.1 1285.8,768.9 1287.8,771.6 1289.8,774.1 1291.8,776.6 1293.8,778.9 1295.8,781.0 1297.8,783.1 1299.8,785.0 1301.8,786.8 1303.8,788.5 1305.8,790.1 1307.8,791.5 1309.8,792.9 1311.9,794.1 1313.9,795.3 1315.9,796.4 1317.9,797.4 1319.9,798.3 1321.9,799.1 1323.9,799.9 1325.9,800.5 1327.9,801.2 1329.9,801.8 1331.9,802.3 1333.9,802.8 1335.9,803.2 1337.9,803.6 1339.9,804.0 1341.9,804.3 1343.9,804.6 1345.9,804.8 1348.0,805.1 1350.0,805.3 1352.0,805.5 1354.0,805.7 1356.0,805.9 1358.0,806.0 1360.0,806.2 1362.0,806.3 1364.0,806.4 1366.0,806.5 1368.0,806.6 1370.0,806.7 1372.0,806.8 1374.0,806.9 1376.0,807.0 1378.0,807.0 1380.0,807.1 1382.0,807.2 1384.1,807.2 1386.1,807.3 1388.1,807.3 1390.1,807.4 1392.1,807.4 1394.1,807.5 1396.1,807.5 1398.1,807.6 1400.1,807.6 1402.1,807.6 1404.1,807.7 1406.1,807.7 1408.1,807.7 1410.1,807.8 1412.1,807.8 1414.1,807.8 1416.1,807.9 1418.1,807.9 1420.2,807.9 1422.2,807.9 1424.2,808.0 1426.2,808.0 1428.2,808.0 1430.2,808.0 1432.2,808.1 1434.2,808.1 1436.2,808.1 1438.2,808.1 1440.2,808.1 1442.2,808.2 1444.2,808.2 1446.2,808.2 1448.2,808.2 1450.2,808.4 1452.2,808.6 1454.2,808.8 1456.3,808.9 1458.3,809.0 1460.3,809.0 1462.3,809.0 1464.3,809.0 1466.3,809.0 1468.3,809.0 1470.3,809.0 1472.3,809.0 1474.3,809.0 1476.3,809.0 1478.3,809.0 1480.3,809.0 1482.3,809.0 1484.3,809.0 1486.3,809.0 1488.3,809.1 1490.3,809.1 1492.4,809.1 1494.4,809.1 1496.4,809.1 1498.4,809.1 1500.4,809.1 1502.4,809.1 1504.4,809.1 1506.4,809.1 1508.4,809.1 1510.4,809.1 1512.4,809.1 1514.4,809.1 1516.4,809.1 1518.4,809.1 1520.4,809.1 1522.4,809.1 1524.4,809.2 1526.4,809.2 1528.5,809.2 1530.5,809.2 1532.5,809.2 1534.5,809.2 1536.5,809.2 1538.5,809.2 1540.5,809.2 1542.5,809.2 1544.5,809.2 1546.5,809.2 1548.5,809.2 1550.5,809.2 1552.5,809.2 1554.5,809.2 1556.5,809.2 1558.5,809.2 1560.5,809.2 1562.5,809.3 1564.6,809.3 1566.6,809.3 1568.6,809.3 1570.6,809.3 1572.6,809.3 1574.6,809.3 1576.6,809.3 1578.6,809.3 1580.6,809.3 1582.6,809.3 1584.6,809.3 1586.6,809.3 1588.6,809.3 1590.6,809.3 1592.6,809.3 1594.6,809.3 1596.6,809.3 1598.6,809.3 1600.7,809.4 1602.7,809.4 1604.7,809.4 1606.7,809.4 1608.7,809.4 1610.7,809.4 1612.7,809.4 1614.7,809.4 1616.7,809.4 1618.7,809.4" fill="none" stroke="#33f533" stroke-width="3.8" stroke-opacity="0.9" stroke-linejoin="round"/>
<line x1="966.90" y1="804.10" x2="1618.70" y2="807.40" stroke="#5ec93a" stroke-width="2.6"/>
<path d="M966.9,801.6 968.9,801.6 970.9,801.6 972.9,801.6 974.9,801.6 976.9,801.6 978.9,801.6 980.9,801.6 982.9,801.6 984.9,801.6 987.0,801.7 989.0,801.7 991.0,801.7 993.0,801.7 995.0,801.7 997.0,801.7 999.0,801.7 1001.0,801.7 1003.0,801.7 1005.0,801.7 1007.0,801.7 1009.0,801.7 1011.0,801.7 1013.0,801.7 1015.0,801.7 1017.0,801.7 1019.0,801.7 1021.0,801.7 1023.1,801.7 1025.1,801.8 1027.1,801.8 1029.1,801.8 1031.1,801.8 1033.1,801.8 1035.1,801.8 1037.1,801.8 1039.1,801.8 1041.1,801.8 1043.1,801.8 1045.1,801.8 1047.1,801.8 1049.1,801.8 1051.1,801.8 1053.1,801.8 1055.1,801.8 1057.1,801.8 1059.2,801.8 1061.2,801.9 1063.2,801.9 1065.2,801.9 1067.2,801.9 1069.2,801.9 1071.2,801.9 1073.2,801.9 1075.2,801.9 1077.2,801.9 1079.2,801.9 1081.2,801.9 1083.2,801.9 1085.2,801.9 1087.2,801.9 1089.2,801.9 1091.2,801.9 1093.2,801.9 1095.3,802.0 1097.3,802.0 1099.3,802.0 1101.3,802.0 1103.3,802.0 1105.3,802.0 1107.3,802.0 1109.3,802.0 1111.3,802.0 1113.3,802.0 1115.3,802.0 1117.3,802.0 1119.3,802.0 1121.3,802.0 1123.3,802.0 1125.3,802.1 1127.3,802.1 1129.3,802.1 1131.4,802.1 1133.4,802.1 1135.4,802.1 1137.4,802.1 1139.4,802.1 1141.4,802.1 1143.4,802.1 1145.4,802.1 1147.4,802.2 1149.4,802.2 1151.4,802.2 1153.4,802.2 1155.4,802.2 1157.4,802.2 1159.4,802.2 1161.4,802.3 1163.4,802.3 1165.4,802.3 1167.5,802.3 1169.5,802.3 1171.5,802.4 1173.5,802.4 1175.5,802.4 1177.5,802.4 1179.5,802.5 1181.5,802.5 1183.5,802.5 1185.5,802.5 1187.5,802.6 1189.5,802.6 1191.5,802.6 1193.5,802.7 1195.5,802.7 1197.5,802.7 1199.5,802.8 1201.5,802.8 1203.6,802.9 1205.6,802.9 1207.6,803.0 1209.6,803.0 1211.6,803.1 1213.6,803.1 1215.6,803.2 1217.6,803.2 1219.6,803.3 1221.6,803.3 1223.6,803.4 1225.6,803.4 1227.6,803.5 1229.6,803.6 1231.6,803.6 1233.6,803.7 1235.6,803.7 1237.6,803.8 1239.7,803.9 1241.7,803.9 1243.7,804.0 1245.7,804.1 1247.7,804.1 1249.7,804.2 1251.7,804.3 1253.7,804.3 1255.7,804.4 1257.7,804.5 1259.7,804.5 1261.7,804.6 1263.7,804.7 1265.7,804.8 1267.7,804.8 1269.7,804.9 1271.7,805.0 1273.7,805.1 1275.8,805.2 1277.8,805.2 1279.8,805.3 1281.8,805.4 1283.8,805.5 1285.8,805.6 1287.8,805.7 1289.8,805.7 1291.8,805.8 1293.8,805.9 1295.8,806.0 1297.8,806.1 1299.8,806.2 1301.8,806.3 1303.8,806.3 1305.8,806.4 1307.8,806.5 1309.8,806.6 1311.9,806.7 1313.9,806.8 1315.9,806.9 1317.9,806.9 1319.9,807.0 1321.9,807.1 1323.9,807.2 1325.9,807.3 1327.9,807.3 1329.9,807.4 1331.9,807.5 1333.9,807.6 1335.9,807.6 1337.9,807.7 1339.9,807.8 1341.9,807.8 1343.9,807.9 1345.9,807.9 1348.0,808.0 1350.0,808.0 1352.0,808.1 1354.0,808.1 1356.0,808.2 1358.0,808.2 1360.0,808.3 1362.0,808.3 1364.0,808.3 1366.0,808.4 1368.0,808.4 1370.0,808.4 1372.0,808.5 1374.0,808.5 1376.0,808.5 1378.0,808.5 1380.0,808.6 1382.0,808.6 1384.1,808.6 1386.1,808.6 1388.1,808.6 1390.1,808.7 1392.1,808.7 1394.1,808.7 1396.1,808.7 1398.1,808.7 1400.1,808.7 1402.1,808.7 1404.1,808.8 1406.1,808.8 1408.1,808.8 1410.1,808.8 1412.1,808.8 1414.1,808.8 1416.1,808.8 1418.1,808.8 1420.2,808.8 1422.2,808.8 1424.2,808.8 1426.2,808.9 1428.2,808.9 1430.2,808.9 1432.2,808.9 1434.2,808.9 1436.2,808.9 1438.2,808.9 1440.2,808.9 1442.2,808.9 1444.2,808.9 1446.2,808.9 1448.2,808.9 1450.2,808.9 1452.2,808.9 1454.2,808.9 1456.3,809.0 1458.3,809.0 1460.3,809.0 1462.3,809.0 1464.3,809.0 1466.3,809.0 1468.3,809.0 1470.3,809.0 1472.3,809.0 1474.3,809.0 1476.3,809.0 1478.3,809.0 1480.3,809.0 1482.3,809.0 1484.3,809.0 1486.3,809.0 1488.3,809.1 1490.3,809.1 1492.4,809.1 1494.4,809.1 1496.4,809.1 1498.4,809.1 1500.4,809.1 1502.4,809.1 1504.4,809.1 1506.4,809.1 1508.4,809.1 1510.4,809.1 1512.4,809.1 1514.4,809.1 1516.4,809.1 1518.4,809.1 1520.4,809.1 1522.4,809.1 1524.4,809.2 1526.4,809.2 1528.5,809.2 1530.5,809.2 1532.5,809.2 1534.5,809.2 1536.5,809.2 1538.5,809.2 1540.5,809.2 1542.5,809.2 1544.5,809.2 1546.5,809.2 1548.5,809.2 1550.5,809.2 1552.5,809.2 1554.5,809.2 1556.5,809.2 1558.5,809.2 1560.5,809.2 1562.5,809.3 1564.6,809.3 1566.6,809.3 1568.6,809.3 1570.6,809.3 1572.6,809.3 1574.6,809.3 1576.6,809.3 1578.6,809.3 1580.6,809.3 1582.6,809.3 1584.6,809.3 1586.6,809.3 1588.6,809.3 1590.6,809.3 1592.6,809.3 1594.6,809.3 1596.6,809.3 1598.6,809.3 1600.7,809.4 1602.7,809.4 1604.7,809.4 1606.7,809.4 1608.7,809.4 1610.7,809.4 1612.7,809.4 1614.7,809.4 1616.7,809.4 1618.7,809.4" fill="none" stroke="#1515b0" stroke-width="1.3"/>
<path d="M966.9,801.6 971.9,800.8 976.9,800.6 981.9,800.8 987.0,801.6 992.0,801.5 997.0,800.8 1002.0,801.1 1007.0,800.7 1012.0,801.4 1017.0,801.3 1022.1,802.0 1027.1,801.8 1032.1,801.3 1037.1,800.7 1042.1,800.7 1047.1,801.0 1052.1,801.6 1057.1,801.7 1062.2,801.3 1067.2,801.5 1072.2,800.7 1077.2,801.0 1082.2,800.5 1087.2,800.9 1092.2,800.7 1097.3,799.9 1102.3,798.2 1107.3,797.2 1112.3,795.9 1117.3,794.1 1122.3,792.5 1127.3,792.2 1132.4,790.8 1137.4,789.9 1142.4,789.2 1147.4,785.8 1152.4,784.0 1157.4,780.5 1162.4,774.2 1167.5,766.5 1172.5,757.5 1177.5,750.4 1182.5,737.7 1187.5,729.7 1192.5,718.8 1197.5,705.4 1202.6,696.1 1207.6,686.9 1212.6,677.2 1217.6,669.5 1222.6,659.9 1227.6,653.9 1232.6,647.9 1237.6,640.7 1242.7,635.2 1247.7,628.4 1252.7,622.8 1257.7,618.5 1262.7,618.1 1267.7,612.4 1272.7,602.7 1277.8,595.4 1282.8,589.1 1287.8,581.7 1292.8,579.3 1297.8,575.9 1302.8,576.4 1307.8,578.2 1312.9,582.8 1317.9,592.6 1322.9,607.2 1327.9,620.1 1332.9,631.2 1337.9,641.6 1342.9,652.2 1348.0,668.3 1353.0,686.2 1358.0,707.9 1363.0,724.1 1368.0,736.8 1373.0,745.8 1378.0,753.7 1383.0,763.0 1388.1,770.2 1393.1,774.8 1398.1,778.9 1403.1,784.2 1408.1,788.6 1413.1,792.9 1418.1,796.5 1423.2,799.0 1428.2,800.1 1433.2,799.5 1438.2,799.6 1443.2,803.8 1448.2,806.6 1453.2,807.6 1458.3,807.6 1463.3,808.1 1468.3,807.3 1473.3,807.9 1478.3,808.1 1483.3,808.7 1488.3,809.1 1493.4,808.6 1498.4,808.5 1503.4,809.1 1508.4,808.8 1513.4,808.8 1518.4,808.5 1523.4,808.9 1528.5,809.0 1533.5,808.6 1538.5,808.1 1543.5,807.3 1548.5,808.1 1553.5,808.1 1558.5,808.1 1563.5,808.1 1568.6,807.9 1573.6,808.5 1578.6,808.9 1583.6,808.0 1588.6,808.3 1593.6,808.5 1598.6,808.6 1603.7,808.8 1608.7,809.6 1613.7,809.6 1618.7,810.0" fill="none" stroke="#1a1a1a" stroke-width="1.3" stroke-linejoin="round"/>
<path d="M966.9,801.4 968.9,801.4 970.9,801.4 972.9,801.4 974.9,801.4 976.9,801.4 978.9,801.4 980.9,801.4 982.9,801.4 984.9,801.4 987.0,801.4 989.0,801.4 991.0,801.4 993.0,801.4 995.0,801.4 997.0,801.4 999.0,801.4 1001.0,801.4 1003.0,801.4 1005.0,801.4 1007.0,801.4 1009.0,801.4 1011.0,801.4 1013.0,801.4 1015.0,801.4 1017.0,801.4 1019.0,801.4 1021.0,801.4 1023.1,801.4 1025.1,801.4 1027.1,801.4 1029.1,801.4 1031.1,801.4 1033.1,801.4 1035.1,801.4 1037.1,801.4 1039.1,801.4 1041.1,801.4 1043.1,801.4 1045.1,801.4 1047.1,801.4 1049.1,801.4 1051.1,801.4 1053.1,801.4 1055.1,801.4 1057.1,801.4 1059.2,801.4 1061.2,801.3 1063.2,801.3 1065.2,801.3 1067.2,801.3 1069.2,801.3 1071.2,801.3 1073.2,801.3 1075.2,801.3 1077.2,801.3 1079.2,801.3 1081.2,801.2 1083.2,801.2 1085.2,801.2 1087.2,801.2 1089.2,801.1 1091.2,801.1 1093.2,801.1 1095.3,801.0 1097.3,801.0 1099.3,800.9 1101.3,800.8 1103.3,800.7 1105.3,800.6 1107.3,800.5 1109.3,800.4 1111.3,800.2 1113.3,800.0 1115.3,799.8 1117.3,799.5 1119.3,799.2 1121.3,798.9 1123.3,798.6 1125.3,798.1 1127.3,797.7 1129.3,797.1 1131.4,796.5 1133.4,795.8 1135.4,795.1 1137.4,794.2 1139.4,793.3 1141.4,792.3 1143.4,791.1 1145.4,789.9 1147.4,788.5 1149.4,787.0 1151.4,785.4 1153.4,783.6 1155.4,781.7 1157.4,779.6 1159.4,777.4 1161.4,775.0 1163.4,772.5 1165.4,769.8 1167.5,767.0 1169.5,764.0 1171.5,760.9 1173.5,757.6 1175.5,754.2 1177.5,750.6 1179.5,746.9 1181.5,743.1 1183.5,739.2 1185.5,735.1 1187.5,731.0 1189.5,726.9 1191.5,722.7 1193.5,718.4 1195.5,714.1 1197.5,709.8 1199.5,705.5 1201.5,701.3 1203.6,697.1 1205.6,692.9 1207.6,688.8 1209.6,684.8 1211.6,680.8 1213.6,677.0 1215.6,673.2 1217.6,669.6 1219.6,666.1 1221.6,662.7 1223.6,659.5 1225.6,656.3 1227.6,653.3 1229.6,650.4 1231.6,647.6 1233.6,644.9 1235.6,642.2 1237.6,639.7 1239.7,637.2 1241.7,634.8 1243.7,632.5 1245.7,630.2 1247.7,627.9 1249.7,625.7 1251.7,623.5 1253.7,621.2 1255.7,619.0 1257.7,616.8 1259.7,614.6 1261.7,612.3 1263.7,610.1 1265.7,607.8 1267.7,605.5 1269.7,603.2 1271.7,600.9 1273.7,598.6 1275.8,596.3 1277.8,594.1 1279.8,591.9 1281.8,589.7 1283.8,587.7 1285.8,585.7 1287.8,583.9 1289.8,582.3 1291.8,580.9 1293.8,579.7 1295.8,578.7 1297.8,578.1 1299.8,577.7 1301.8,577.7 1303.8,578.1 1305.8,578.9 1307.8,580.1 1309.8,581.8 1311.9,583.9 1313.9,586.4 1315.9,589.4 1317.9,592.8 1319.9,596.5 1321.9,600.6 1323.9,605.0 1325.9,609.6 1327.9,614.2 1329.9,618.9 1331.9,623.6 1333.9,628.3 1335.9,633.0 1337.9,637.7 1339.9,642.6 1341.9,647.8 1343.9,653.4 1345.9,659.4 1348.0,666.1 1350.0,673.2 1352.0,680.8 1354.0,688.6 1356.0,696.4 1358.0,704.2 1360.0,711.6 1362.0,718.6 1364.0,725.1 1366.0,731.2 1368.0,736.8 1370.0,741.9 1372.0,746.6 1374.0,751.0 1376.0,755.1 1378.0,758.9 1380.0,762.5 1382.0,765.8 1384.1,768.9 1386.1,771.9 1388.1,774.6 1390.1,777.2 1392.1,779.7 1394.1,781.9 1396.1,784.0 1398.1,786.0 1400.1,787.9 1402.1,789.6 1404.1,791.2 1406.1,792.7 1408.1,794.0 1410.1,795.3 1412.1,796.5 1414.1,797.6 1416.1,798.6 1418.1,799.5 1420.2,800.3 1422.2,801.1 1424.2,801.8 1426.2,802.4 1428.2,803.0 1430.2,803.6 1432.2,804.1 1434.2,804.5 1436.2,804.9 1438.2,805.3 1440.2,805.6 1442.2,805.9 1444.2,806.2 1446.2,806.4 1448.2,806.6 1450.2,806.8 1452.2,807.0 1454.2,807.2 1456.3,807.3 1458.3,807.5 1460.3,807.6 1462.3,807.7 1464.3,807.8 1466.3,807.9 1468.3,807.9 1470.3,808.0 1472.3,808.1 1474.3,808.1 1476.3,808.2 1478.3,808.2 1480.3,808.3 1482.3,808.3 1484.3,808.3 1486.3,808.4 1488.3,808.4 1490.3,808.4 1492.4,808.5 1494.4,808.5 1496.4,808.5 1498.4,808.5 1500.4,808.6 1502.4,808.6 1504.4,808.6 1506.4,808.6 1508.4,808.6 1510.4,808.6 1512.4,808.7 1514.4,808.7 1516.4,808.7 1518.4,808.7 1520.4,808.7 1522.4,808.7 1524.4,808.7 1526.4,808.7 1528.5,808.8 1530.5,808.8 1532.5,808.8 1534.5,808.8 1536.5,808.8 1538.5,808.8 1540.5,808.8 1542.5,808.8 1544.5,808.9 1546.5,808.9 1548.5,808.9 1550.5,808.9 1552.5,808.9 1554.5,808.9 1556.5,808.9 1558.5,808.9 1560.5,808.9 1562.5,808.9 1564.6,809.0 1566.6,809.0 1568.6,809.0 1570.6,809.0 1572.6,809.0 1574.6,809.0 1576.6,809.0 1578.6,809.0 1580.6,809.0 1582.6,809.0 1584.6,809.0 1586.6,809.1 1588.6,809.1 1590.6,809.1 1592.6,809.1 1594.6,809.1 1596.6,809.1 1598.6,809.1 1600.7,809.1 1602.7,809.1 1604.7,809.1 1606.7,809.1 1608.7,809.1 1610.7,809.2 1612.7,809.2 1614.7,809.2 1616.7,809.2 1618.7,809.2" fill="none" stroke="#00ffff" stroke-width="5" stroke-linejoin="round"/>
<path d="M95.50,847.5 L743.80,847.5 M95.50,847.5 L95.50,835.3 M149.53,847.5 L149.53,841.3 M203.55,847.5 L203.55,835.3 M257.57,847.5 L257.57,841.3 M311.60,847.5 L311.60,835.3 M365.62,847.5 L365.62,841.3 M419.65,847.5 L419.65,835.3 M473.67,847.5 L473.67,841.3 M527.70,847.5 L527.70,835.3 M581.72,847.5 L581.72,841.3 M635.75,847.5 L635.75,835.3 M689.77,847.5 L689.77,841.3 M743.80,847.5 L743.80,835.3" stroke="#000" stroke-width="4.6" stroke-linecap="round" fill="none"/>
<text x="68.37" y="889.60" font-size="36" font-family="'Liberation Serif', serif" font-weight="bold">538</text>
<text x="176.35" y="889.60" font-size="36" font-family="'Liberation Serif', serif" font-weight="bold">536</text>
<text x="284.20" y="889.60" font-size="36" font-family="'Liberation Serif', serif" font-weight="bold">534</text>
<text x="392.69" y="889.60" font-size="36" font-family="'Liberation Serif', serif" font-weight="bold">532</text>
<text x="500.66" y="889.60" font-size="36" font-family="'Liberation Serif', serif" font-weight="bold">530</text>
<text x="608.62" y="889.60" font-size="36" font-family="'Liberation Serif', serif" font-weight="bold">528</text>
<text x="716.60" y="889.60" font-size="36" font-family="'Liberation Serif', serif" font-weight="bold">526</text>
<path d="M966.90,850.9 L1618.70,850.9 M966.90,850.9 L966.90,838.8 M1021.22,850.9 L1021.22,845.0 M1075.53,850.9 L1075.53,838.8 M1129.85,850.9 L1129.85,845.0 M1184.17,850.9 L1184.17,838.8 M1238.48,850.9 L1238.48,845.0 M1292.80,850.9 L1292.80,838.8 M1347.12,850.9 L1347.12,845.0 M1401.43,850.9 L1401.43,838.8 M1455.75,850.9 L1455.75,845.0 M1510.07,850.9 L1510.07,838.8 M1564.38,850.9 L1564.38,845.0 M1618.70,850.9 L1618.70,838.8" stroke="#000" stroke-width="4.6" stroke-linecap="round" fill="none"/>
<text x="939.77" y="893.20" font-size="36" font-family="'Liberation Serif', serif" font-weight="bold">538</text>
<text x="1048.34" y="893.20" font-size="36" font-family="'Liberation Serif', serif" font-weight="bold">536</text>
<text x="1156.77" y="893.20" font-size="36" font-family="'Liberation Serif', serif" font-weight="bold">534</text>
<text x="1265.84" y="893.20" font-size="36" font-family="'Liberation Serif', serif" font-weight="bold">532</text>
<text x="1374.40" y="893.20" font-size="36" font-family="'Liberation Serif', serif" font-weight="bold">530</text>
<text x="1482.94" y="893.20" font-size="36" font-family="'Liberation Serif', serif" font-weight="bold">528</text>
<text x="1591.50" y="893.20" font-size="36" font-family="'Liberation Serif', serif" font-weight="bold">526</text>
<text x="6.51" y="53.30" font-size="52" font-family="'Liberation Serif', serif" font-weight="bold" >(a)</text>
<text x="877.96" y="42.30" font-size="52" font-family="'Liberation Serif', serif" font-weight="bold" >(b)</text>
<text x="99.76" y="48.75" font-size="30.95" font-family="'Liberation Serif', serif" font-weight="bold" >O1s for BC-HA</text>
<text x="102.41" y="341.90" font-size="30.95" font-family="'Liberation Serif', serif" font-weight="bold" >O1s for BC-NaHA</text>
<text x="100.81" y="617.70" font-size="30.95" font-family="'Liberation Serif', serif" font-weight="bold" >O1s for BC</text>
<text x="964.31" y="31.70" font-size="30.95" font-family="'Liberation Serif', serif" font-weight="bold" >O1s for BC-HA+Ni</text>
<text x="960.51" y="316.60" font-size="30.95" font-family="'Liberation Serif', serif" font-weight="bold" >O1s for BC-NaHA+Ni</text>
<text x="966.31" y="592.50" font-size="30.95" font-family="'Liberation Serif', serif" font-weight="bold" >O1s for BC+Ni</text>
<text x="178.09" y="958.00" font-size="50.9" font-family="'Liberation Serif', serif" font-weight="bold" >Binding energy (eV)</text>
<text x="1072.98" y="964.50" font-size="51.2" font-family="'Liberation Serif', serif" font-weight="bold" >Binding energy (eV)</text>
<text transform="translate(45.10,593.99) rotate(-90)" font-size="51.1" font-family="'Liberation Serif', serif" font-weight="bold">Intensity (a.u.)</text>
<text transform="translate(916.90,591.01) rotate(-90)" font-size="51.9" font-family="'Liberation Serif', serif" font-weight="bold">Intensity (a.u.)</text>
<text x="460.51" y="101.50" font-size="31" font-family="'Liberation Serif', serif" font-weight="bold" >C-O</text>
<text x="222.51" y="209.50" font-size="31" font-family="'Liberation Serif', serif" font-weight="bold" >O-C=O</text>
<text x="1324.51" y="50.00" font-size="31" font-family="'Liberation Serif', serif" font-weight="bold" >C-O</text>
<text x="1117.81" y="92.00" font-size="31" font-family="'Liberation Serif', serif" font-weight="bold" >O-C=O</text>
<text x="392.73" y="205.20" font-size="31.1" font-family="'Liberation Serif', serif" font-weight="bold" >71.98%</text>
<text x="300.39" y="270.80" font-size="31.1" font-family="'Liberation Serif', serif" font-weight="bold" >28.02%</text>
<text x="384.54" y="465.40" font-size="31.1" font-family="'Liberation Serif', serif" font-weight="bold" >67.33%</text>
<text x="292.85" y="520.00" font-size="31.1" font-family="'Liberation Serif', serif" font-weight="bold" >32.67%</text>
<text x="389.50" y="736.20" font-size="31.1" font-family="'Liberation Serif', serif" font-weight="bold" >45.68%</text>
<text x="299.76" y="764.90" font-size="31.1" font-family="'Liberation Serif', serif" font-weight="bold" >54.32%</text>
<text x="1263.66" y="191.20" font-size="31.1" font-family="'Liberation Serif', serif" font-weight="bold" >53.31%</text>
<text x="1184.90" y="224.40" font-size="31.1" font-family="'Liberation Serif', serif" font-weight="bold" >46.69%</text>
<text x="1263.94" y="456.60" font-size="31.1" font-family="'Liberation Serif', serif" font-weight="bold" >60.67%</text>
<text x="1183.85" y="491.70" font-size="31.1" font-family="'Liberation Serif', serif" font-weight="bold" >39.33%</text>
<text x="1258.64" y="727.40" font-size="31.1" font-family="'Liberation Serif', serif" font-weight="bold" >67.13%</text>
<text x="1176.75" y="772.30" font-size="31.1" font-family="'Liberation Serif', serif" font-weight="bold" >32.87%</text></svg>
</body></html>
